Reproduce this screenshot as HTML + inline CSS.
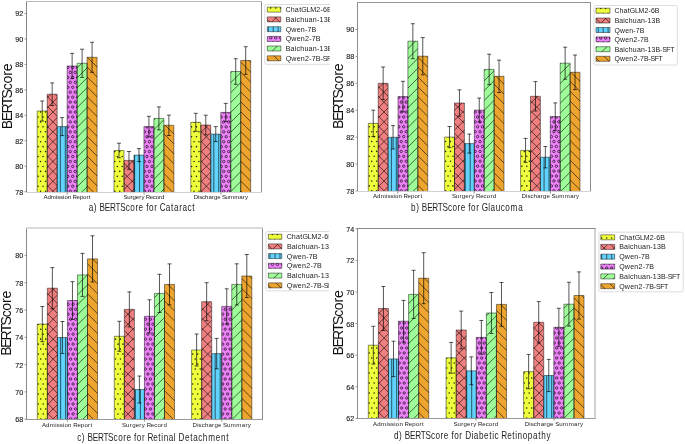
<!DOCTYPE html><html><head><meta charset="utf-8"><style>html,body{margin:0;padding:0;background:#fff;overflow:hidden;}svg{display:block;will-change:transform;font-family:"Liberation Sans",sans-serif;}</style></head><body><svg width="685" height="444" viewBox="0 0 685 444" font-family="Liberation Sans, sans-serif"><defs><clipPath id="ha0"><rect x="37.2" y="111" width="9.98" height="81"/><rect x="114" y="150.5" width="9.98" height="41.5"/><rect x="190.8" y="122.3" width="9.98" height="69.7"/><rect x="267.3" y="7.1" width="13.5" height="5"/></clipPath><clipPath id="ha1"><rect x="47.18" y="94.2" width="9.98" height="97.8"/><rect x="123.98" y="160.4" width="9.98" height="31.6"/><rect x="200.78" y="125" width="9.98" height="67"/><rect x="267.3" y="16.9" width="13.5" height="5"/></clipPath><clipPath id="ha2"><rect x="57.16" y="126.6" width="9.98" height="65.4"/><rect x="133.96" y="155.1" width="9.98" height="36.9"/><rect x="210.76" y="134.1" width="9.98" height="57.9"/><rect x="267.3" y="26.7" width="13.5" height="5"/></clipPath><clipPath id="ha3"><rect x="67.14" y="66" width="9.98" height="126"/><rect x="143.94" y="126.6" width="9.98" height="65.4"/><rect x="220.74" y="112.4" width="9.98" height="79.6"/><rect x="267.3" y="36.4" width="13.5" height="5"/></clipPath><clipPath id="ha4"><rect x="77.12" y="63.3" width="9.98" height="128.7"/><rect x="153.92" y="118.4" width="9.98" height="73.6"/><rect x="230.72" y="71.5" width="9.98" height="120.5"/><rect x="267.3" y="46" width="13.5" height="5"/></clipPath><clipPath id="ha5"><rect x="87.1" y="57.3" width="9.98" height="134.7"/><rect x="163.9" y="125.3" width="9.98" height="66.7"/><rect x="240.7" y="60.5" width="9.98" height="131.5"/><rect x="267.3" y="55.8" width="13.5" height="5"/></clipPath><clipPath id="clipa"><rect x="0" y="0" width="330" height="222"/></clipPath><clipPath id="hb0"><rect x="368.3" y="123.4" width="9.9" height="67.6"/><rect x="444.6" y="137.1" width="9.9" height="53.9"/><rect x="520.6" y="150.4" width="9.9" height="40.6"/><rect x="596" y="8.2" width="14" height="5"/></clipPath><clipPath id="hb1"><rect x="378.2" y="83.3" width="9.9" height="107.7"/><rect x="454.5" y="103" width="9.9" height="88"/><rect x="530.5" y="96.3" width="9.9" height="94.7"/><rect x="596" y="18" width="14" height="5"/></clipPath><clipPath id="hb2"><rect x="388.1" y="137.3" width="9.9" height="53.7"/><rect x="464.4" y="143.6" width="9.9" height="47.4"/><rect x="540.4" y="157.2" width="9.9" height="33.8"/><rect x="596" y="27.5" width="14" height="5"/></clipPath><clipPath id="hb3"><rect x="398" y="96.6" width="9.9" height="94.4"/><rect x="474.3" y="110.1" width="9.9" height="80.9"/><rect x="550.3" y="116.6" width="9.9" height="74.4"/><rect x="596" y="36.9" width="14" height="5"/></clipPath><clipPath id="hb4"><rect x="407.9" y="41.2" width="9.9" height="149.8"/><rect x="484.2" y="69.4" width="9.9" height="121.6"/><rect x="560.2" y="63.2" width="9.9" height="127.8"/><rect x="596" y="46.7" width="14" height="5"/></clipPath><clipPath id="hb5"><rect x="417.8" y="56.2" width="9.9" height="134.8"/><rect x="494.1" y="76.3" width="9.9" height="114.7"/><rect x="570.1" y="72.3" width="9.9" height="118.7"/><rect x="596" y="56.3" width="14" height="5"/></clipPath><clipPath id="clipb"><rect x="330" y="0" width="355" height="222"/></clipPath><clipPath id="hc0"><rect x="37.3" y="324.1" width="10.04" height="95.4"/><rect x="114.3" y="336.3" width="10.04" height="83.2"/><rect x="191.6" y="350" width="10.04" height="69.5"/><rect x="268.4" y="234.2" width="13.4" height="5"/></clipPath><clipPath id="hc1"><rect x="47.34" y="288.2" width="10.04" height="131.3"/><rect x="124.34" y="309.4" width="10.04" height="110.1"/><rect x="201.64" y="301.7" width="10.04" height="117.8"/><rect x="268.4" y="243.9" width="13.4" height="5"/></clipPath><clipPath id="hc2"><rect x="57.38" y="337.5" width="10.04" height="82"/><rect x="134.38" y="389.5" width="10.04" height="30"/><rect x="211.68" y="353.6" width="10.04" height="65.9"/><rect x="268.4" y="253.6" width="13.4" height="5"/></clipPath><clipPath id="hc3"><rect x="67.42" y="300.5" width="10.04" height="119"/><rect x="144.42" y="316.3" width="10.04" height="103.2"/><rect x="221.72" y="306.4" width="10.04" height="113.1"/><rect x="268.4" y="263.3" width="13.4" height="5"/></clipPath><clipPath id="hc4"><rect x="77.46" y="274.9" width="10.04" height="144.6"/><rect x="154.46" y="293.4" width="10.04" height="126.1"/><rect x="231.76" y="284.4" width="10.04" height="135.1"/><rect x="268.4" y="273.1" width="13.4" height="5"/></clipPath><clipPath id="hc5"><rect x="87.5" y="258.9" width="10.04" height="160.6"/><rect x="164.5" y="284.4" width="10.04" height="135.1"/><rect x="241.8" y="276" width="10.04" height="143.5"/><rect x="268.4" y="282.9" width="13.4" height="5"/></clipPath><clipPath id="clipc"><rect x="0" y="222" width="329" height="222"/></clipPath><clipPath id="hd0"><rect x="368.3" y="345.2" width="10.07" height="73.3"/><rect x="446.1" y="357.8" width="10.07" height="60.7"/><rect x="523.6" y="371.6" width="10.07" height="46.9"/><rect x="600.8" y="234.8" width="13.9" height="5"/></clipPath><clipPath id="hd1"><rect x="378.37" y="308.5" width="10.07" height="110"/><rect x="456.17" y="330" width="10.07" height="88.5"/><rect x="533.67" y="322.3" width="10.07" height="96.2"/><rect x="600.8" y="244.4" width="13.9" height="5"/></clipPath><clipPath id="hd2"><rect x="388.44" y="358.9" width="10.07" height="59.6"/><rect x="466.24" y="370.8" width="10.07" height="47.7"/><rect x="543.74" y="375.5" width="10.07" height="43"/><rect x="600.8" y="254.2" width="13.9" height="5"/></clipPath><clipPath id="hd3"><rect x="398.51" y="321.2" width="10.07" height="97.3"/><rect x="476.31" y="337.4" width="10.07" height="81.1"/><rect x="553.81" y="327.3" width="10.07" height="91.2"/><rect x="600.8" y="264.1" width="13.9" height="5"/></clipPath><clipPath id="hd4"><rect x="408.58" y="294.4" width="10.07" height="124.1"/><rect x="486.38" y="313" width="10.07" height="105.5"/><rect x="563.88" y="304.2" width="10.07" height="114.3"/><rect x="600.8" y="273.9" width="13.9" height="5"/></clipPath><clipPath id="hd5"><rect x="418.65" y="278.2" width="10.07" height="140.3"/><rect x="496.45" y="304.4" width="10.07" height="114.1"/><rect x="573.95" y="295.5" width="10.07" height="123"/><rect x="600.8" y="283.7" width="13.9" height="5"/></clipPath><clipPath id="clipd"><rect x="330" y="222" width="355" height="222"/></clipPath></defs><rect width="685" height="444" fill="#fff"/><g clip-path="url(#clipa)"><rect x="264.8" y="4.5" width="80.2" height="59.8" rx="1.6" fill="#fff" stroke="#d4d4d4" stroke-width="0.8"/><rect x="37.2" y="111" width="9.98" height="81" fill="#F0FF3C"/><rect x="114" y="150.5" width="9.98" height="41.5" fill="#F0FF3C"/><rect x="190.8" y="122.3" width="9.98" height="69.7" fill="#F0FF3C"/><rect x="267.3" y="7.1" width="13.5" height="5" fill="#F0FF3C"/><rect x="47.18" y="94.2" width="9.98" height="97.8" fill="#F08080"/><rect x="123.98" y="160.4" width="9.98" height="31.6" fill="#F08080"/><rect x="200.78" y="125" width="9.98" height="67" fill="#F08080"/><rect x="267.3" y="16.9" width="13.5" height="5" fill="#F08080"/><rect x="57.16" y="126.6" width="9.98" height="65.4" fill="#62D3FD"/><rect x="133.96" y="155.1" width="9.98" height="36.9" fill="#62D3FD"/><rect x="210.76" y="134.1" width="9.98" height="57.9" fill="#62D3FD"/><rect x="267.3" y="26.7" width="13.5" height="5" fill="#62D3FD"/><rect x="67.14" y="66" width="9.98" height="126" fill="#EE82F8"/><rect x="143.94" y="126.6" width="9.98" height="65.4" fill="#EE82F8"/><rect x="220.74" y="112.4" width="9.98" height="79.6" fill="#EE82F8"/><rect x="267.3" y="36.4" width="13.5" height="5" fill="#EE82F8"/><rect x="77.12" y="63.3" width="9.98" height="128.7" fill="#9EFD98"/><rect x="153.92" y="118.4" width="9.98" height="73.6" fill="#9EFD98"/><rect x="230.72" y="71.5" width="9.98" height="120.5" fill="#9EFD98"/><rect x="267.3" y="46" width="13.5" height="5" fill="#9EFD98"/><rect x="87.1" y="57.3" width="9.98" height="134.7" fill="#EDA530"/><rect x="163.9" y="125.3" width="9.98" height="66.7" fill="#EDA530"/><rect x="240.7" y="60.5" width="9.98" height="131.5" fill="#EDA530"/><rect x="267.3" y="55.8" width="13.5" height="5" fill="#EDA530"/><g clip-path="url(#ha0)"><path d="M34.83,112a0.78,0.78 0 1,0 1.56,0a0.78,0.78 0 1,0 -1.56,0M39.78,112a0.78,0.78 0 1,0 1.56,0a0.78,0.78 0 1,0 -1.56,0M44.73,112a0.78,0.78 0 1,0 1.56,0a0.78,0.78 0 1,0 -1.56,0M34.83,121.9a0.78,0.78 0 1,0 1.56,0a0.78,0.78 0 1,0 -1.56,0M39.78,121.9a0.78,0.78 0 1,0 1.56,0a0.78,0.78 0 1,0 -1.56,0M44.73,121.9a0.78,0.78 0 1,0 1.56,0a0.78,0.78 0 1,0 -1.56,0M34.83,131.8a0.78,0.78 0 1,0 1.56,0a0.78,0.78 0 1,0 -1.56,0M39.78,131.8a0.78,0.78 0 1,0 1.56,0a0.78,0.78 0 1,0 -1.56,0M44.73,131.8a0.78,0.78 0 1,0 1.56,0a0.78,0.78 0 1,0 -1.56,0M34.83,141.7a0.78,0.78 0 1,0 1.56,0a0.78,0.78 0 1,0 -1.56,0M39.78,141.7a0.78,0.78 0 1,0 1.56,0a0.78,0.78 0 1,0 -1.56,0M44.73,141.7a0.78,0.78 0 1,0 1.56,0a0.78,0.78 0 1,0 -1.56,0M34.83,151.6a0.78,0.78 0 1,0 1.56,0a0.78,0.78 0 1,0 -1.56,0M39.78,151.6a0.78,0.78 0 1,0 1.56,0a0.78,0.78 0 1,0 -1.56,0M44.73,151.6a0.78,0.78 0 1,0 1.56,0a0.78,0.78 0 1,0 -1.56,0M34.83,161.5a0.78,0.78 0 1,0 1.56,0a0.78,0.78 0 1,0 -1.56,0M39.78,161.5a0.78,0.78 0 1,0 1.56,0a0.78,0.78 0 1,0 -1.56,0M44.73,161.5a0.78,0.78 0 1,0 1.56,0a0.78,0.78 0 1,0 -1.56,0M34.83,171.4a0.78,0.78 0 1,0 1.56,0a0.78,0.78 0 1,0 -1.56,0M39.78,171.4a0.78,0.78 0 1,0 1.56,0a0.78,0.78 0 1,0 -1.56,0M44.73,171.4a0.78,0.78 0 1,0 1.56,0a0.78,0.78 0 1,0 -1.56,0M34.83,181.3a0.78,0.78 0 1,0 1.56,0a0.78,0.78 0 1,0 -1.56,0M39.78,181.3a0.78,0.78 0 1,0 1.56,0a0.78,0.78 0 1,0 -1.56,0M44.73,181.3a0.78,0.78 0 1,0 1.56,0a0.78,0.78 0 1,0 -1.56,0M34.83,191.2a0.78,0.78 0 1,0 1.56,0a0.78,0.78 0 1,0 -1.56,0M39.78,191.2a0.78,0.78 0 1,0 1.56,0a0.78,0.78 0 1,0 -1.56,0M44.73,191.2a0.78,0.78 0 1,0 1.56,0a0.78,0.78 0 1,0 -1.56,0M37.3,116.95a0.78,0.78 0 1,0 1.56,0a0.78,0.78 0 1,0 -1.56,0M42.26,116.95a0.78,0.78 0 1,0 1.56,0a0.78,0.78 0 1,0 -1.56,0M47.21,116.95a0.78,0.78 0 1,0 1.56,0a0.78,0.78 0 1,0 -1.56,0M37.3,126.85a0.78,0.78 0 1,0 1.56,0a0.78,0.78 0 1,0 -1.56,0M42.26,126.85a0.78,0.78 0 1,0 1.56,0a0.78,0.78 0 1,0 -1.56,0M47.21,126.85a0.78,0.78 0 1,0 1.56,0a0.78,0.78 0 1,0 -1.56,0M37.3,136.75a0.78,0.78 0 1,0 1.56,0a0.78,0.78 0 1,0 -1.56,0M42.26,136.75a0.78,0.78 0 1,0 1.56,0a0.78,0.78 0 1,0 -1.56,0M47.21,136.75a0.78,0.78 0 1,0 1.56,0a0.78,0.78 0 1,0 -1.56,0M37.3,146.65a0.78,0.78 0 1,0 1.56,0a0.78,0.78 0 1,0 -1.56,0M42.26,146.65a0.78,0.78 0 1,0 1.56,0a0.78,0.78 0 1,0 -1.56,0M47.21,146.65a0.78,0.78 0 1,0 1.56,0a0.78,0.78 0 1,0 -1.56,0M37.3,156.55a0.78,0.78 0 1,0 1.56,0a0.78,0.78 0 1,0 -1.56,0M42.26,156.55a0.78,0.78 0 1,0 1.56,0a0.78,0.78 0 1,0 -1.56,0M47.21,156.55a0.78,0.78 0 1,0 1.56,0a0.78,0.78 0 1,0 -1.56,0M37.3,166.45a0.78,0.78 0 1,0 1.56,0a0.78,0.78 0 1,0 -1.56,0M42.26,166.45a0.78,0.78 0 1,0 1.56,0a0.78,0.78 0 1,0 -1.56,0M47.21,166.45a0.78,0.78 0 1,0 1.56,0a0.78,0.78 0 1,0 -1.56,0M37.3,176.35a0.78,0.78 0 1,0 1.56,0a0.78,0.78 0 1,0 -1.56,0M42.26,176.35a0.78,0.78 0 1,0 1.56,0a0.78,0.78 0 1,0 -1.56,0M47.21,176.35a0.78,0.78 0 1,0 1.56,0a0.78,0.78 0 1,0 -1.56,0M37.3,186.25a0.78,0.78 0 1,0 1.56,0a0.78,0.78 0 1,0 -1.56,0M42.26,186.25a0.78,0.78 0 1,0 1.56,0a0.78,0.78 0 1,0 -1.56,0M47.21,186.25a0.78,0.78 0 1,0 1.56,0a0.78,0.78 0 1,0 -1.56,0M114.03,151.6a0.78,0.78 0 1,0 1.56,0a0.78,0.78 0 1,0 -1.56,0M118.98,151.6a0.78,0.78 0 1,0 1.56,0a0.78,0.78 0 1,0 -1.56,0M123.93,151.6a0.78,0.78 0 1,0 1.56,0a0.78,0.78 0 1,0 -1.56,0M114.03,161.5a0.78,0.78 0 1,0 1.56,0a0.78,0.78 0 1,0 -1.56,0M118.98,161.5a0.78,0.78 0 1,0 1.56,0a0.78,0.78 0 1,0 -1.56,0M123.93,161.5a0.78,0.78 0 1,0 1.56,0a0.78,0.78 0 1,0 -1.56,0M114.03,171.4a0.78,0.78 0 1,0 1.56,0a0.78,0.78 0 1,0 -1.56,0M118.98,171.4a0.78,0.78 0 1,0 1.56,0a0.78,0.78 0 1,0 -1.56,0M123.93,171.4a0.78,0.78 0 1,0 1.56,0a0.78,0.78 0 1,0 -1.56,0M114.03,181.3a0.78,0.78 0 1,0 1.56,0a0.78,0.78 0 1,0 -1.56,0M118.98,181.3a0.78,0.78 0 1,0 1.56,0a0.78,0.78 0 1,0 -1.56,0M123.93,181.3a0.78,0.78 0 1,0 1.56,0a0.78,0.78 0 1,0 -1.56,0M114.03,191.2a0.78,0.78 0 1,0 1.56,0a0.78,0.78 0 1,0 -1.56,0M118.98,191.2a0.78,0.78 0 1,0 1.56,0a0.78,0.78 0 1,0 -1.56,0M123.93,191.2a0.78,0.78 0 1,0 1.56,0a0.78,0.78 0 1,0 -1.56,0M111.56,156.55a0.78,0.78 0 1,0 1.56,0a0.78,0.78 0 1,0 -1.56,0M116.5,156.55a0.78,0.78 0 1,0 1.56,0a0.78,0.78 0 1,0 -1.56,0M121.46,156.55a0.78,0.78 0 1,0 1.56,0a0.78,0.78 0 1,0 -1.56,0M111.56,166.45a0.78,0.78 0 1,0 1.56,0a0.78,0.78 0 1,0 -1.56,0M116.5,166.45a0.78,0.78 0 1,0 1.56,0a0.78,0.78 0 1,0 -1.56,0M121.46,166.45a0.78,0.78 0 1,0 1.56,0a0.78,0.78 0 1,0 -1.56,0M111.56,176.35a0.78,0.78 0 1,0 1.56,0a0.78,0.78 0 1,0 -1.56,0M116.5,176.35a0.78,0.78 0 1,0 1.56,0a0.78,0.78 0 1,0 -1.56,0M121.46,176.35a0.78,0.78 0 1,0 1.56,0a0.78,0.78 0 1,0 -1.56,0M111.56,186.25a0.78,0.78 0 1,0 1.56,0a0.78,0.78 0 1,0 -1.56,0M116.5,186.25a0.78,0.78 0 1,0 1.56,0a0.78,0.78 0 1,0 -1.56,0M121.46,186.25a0.78,0.78 0 1,0 1.56,0a0.78,0.78 0 1,0 -1.56,0M188.28,121.9a0.78,0.78 0 1,0 1.56,0a0.78,0.78 0 1,0 -1.56,0M193.23,121.9a0.78,0.78 0 1,0 1.56,0a0.78,0.78 0 1,0 -1.56,0M198.18,121.9a0.78,0.78 0 1,0 1.56,0a0.78,0.78 0 1,0 -1.56,0M188.28,131.8a0.78,0.78 0 1,0 1.56,0a0.78,0.78 0 1,0 -1.56,0M193.23,131.8a0.78,0.78 0 1,0 1.56,0a0.78,0.78 0 1,0 -1.56,0M198.18,131.8a0.78,0.78 0 1,0 1.56,0a0.78,0.78 0 1,0 -1.56,0M188.28,141.7a0.78,0.78 0 1,0 1.56,0a0.78,0.78 0 1,0 -1.56,0M193.23,141.7a0.78,0.78 0 1,0 1.56,0a0.78,0.78 0 1,0 -1.56,0M198.18,141.7a0.78,0.78 0 1,0 1.56,0a0.78,0.78 0 1,0 -1.56,0M188.28,151.6a0.78,0.78 0 1,0 1.56,0a0.78,0.78 0 1,0 -1.56,0M193.23,151.6a0.78,0.78 0 1,0 1.56,0a0.78,0.78 0 1,0 -1.56,0M198.18,151.6a0.78,0.78 0 1,0 1.56,0a0.78,0.78 0 1,0 -1.56,0M188.28,161.5a0.78,0.78 0 1,0 1.56,0a0.78,0.78 0 1,0 -1.56,0M193.23,161.5a0.78,0.78 0 1,0 1.56,0a0.78,0.78 0 1,0 -1.56,0M198.18,161.5a0.78,0.78 0 1,0 1.56,0a0.78,0.78 0 1,0 -1.56,0M188.28,171.4a0.78,0.78 0 1,0 1.56,0a0.78,0.78 0 1,0 -1.56,0M193.23,171.4a0.78,0.78 0 1,0 1.56,0a0.78,0.78 0 1,0 -1.56,0M198.18,171.4a0.78,0.78 0 1,0 1.56,0a0.78,0.78 0 1,0 -1.56,0M188.28,181.3a0.78,0.78 0 1,0 1.56,0a0.78,0.78 0 1,0 -1.56,0M193.23,181.3a0.78,0.78 0 1,0 1.56,0a0.78,0.78 0 1,0 -1.56,0M198.18,181.3a0.78,0.78 0 1,0 1.56,0a0.78,0.78 0 1,0 -1.56,0M188.28,191.2a0.78,0.78 0 1,0 1.56,0a0.78,0.78 0 1,0 -1.56,0M193.23,191.2a0.78,0.78 0 1,0 1.56,0a0.78,0.78 0 1,0 -1.56,0M198.18,191.2a0.78,0.78 0 1,0 1.56,0a0.78,0.78 0 1,0 -1.56,0M190.75,126.85a0.78,0.78 0 1,0 1.56,0a0.78,0.78 0 1,0 -1.56,0M195.71,126.85a0.78,0.78 0 1,0 1.56,0a0.78,0.78 0 1,0 -1.56,0M200.66,126.85a0.78,0.78 0 1,0 1.56,0a0.78,0.78 0 1,0 -1.56,0M190.75,136.75a0.78,0.78 0 1,0 1.56,0a0.78,0.78 0 1,0 -1.56,0M195.71,136.75a0.78,0.78 0 1,0 1.56,0a0.78,0.78 0 1,0 -1.56,0M200.66,136.75a0.78,0.78 0 1,0 1.56,0a0.78,0.78 0 1,0 -1.56,0M190.75,146.65a0.78,0.78 0 1,0 1.56,0a0.78,0.78 0 1,0 -1.56,0M195.71,146.65a0.78,0.78 0 1,0 1.56,0a0.78,0.78 0 1,0 -1.56,0M200.66,146.65a0.78,0.78 0 1,0 1.56,0a0.78,0.78 0 1,0 -1.56,0M190.75,156.55a0.78,0.78 0 1,0 1.56,0a0.78,0.78 0 1,0 -1.56,0M195.71,156.55a0.78,0.78 0 1,0 1.56,0a0.78,0.78 0 1,0 -1.56,0M200.66,156.55a0.78,0.78 0 1,0 1.56,0a0.78,0.78 0 1,0 -1.56,0M190.75,166.45a0.78,0.78 0 1,0 1.56,0a0.78,0.78 0 1,0 -1.56,0M195.71,166.45a0.78,0.78 0 1,0 1.56,0a0.78,0.78 0 1,0 -1.56,0M200.66,166.45a0.78,0.78 0 1,0 1.56,0a0.78,0.78 0 1,0 -1.56,0M190.75,176.35a0.78,0.78 0 1,0 1.56,0a0.78,0.78 0 1,0 -1.56,0M195.71,176.35a0.78,0.78 0 1,0 1.56,0a0.78,0.78 0 1,0 -1.56,0M200.66,176.35a0.78,0.78 0 1,0 1.56,0a0.78,0.78 0 1,0 -1.56,0M190.75,186.25a0.78,0.78 0 1,0 1.56,0a0.78,0.78 0 1,0 -1.56,0M195.71,186.25a0.78,0.78 0 1,0 1.56,0a0.78,0.78 0 1,0 -1.56,0M200.66,186.25a0.78,0.78 0 1,0 1.56,0a0.78,0.78 0 1,0 -1.56,0M267.48,13a0.78,0.78 0 1,0 1.56,0a0.78,0.78 0 1,0 -1.56,0M272.43,13a0.78,0.78 0 1,0 1.56,0a0.78,0.78 0 1,0 -1.56,0M277.38,13a0.78,0.78 0 1,0 1.56,0a0.78,0.78 0 1,0 -1.56,0M265.01,8.05a0.78,0.78 0 1,0 1.56,0a0.78,0.78 0 1,0 -1.56,0M269.96,8.05a0.78,0.78 0 1,0 1.56,0a0.78,0.78 0 1,0 -1.56,0M274.91,8.05a0.78,0.78 0 1,0 1.56,0a0.78,0.78 0 1,0 -1.56,0M279.86,8.05a0.78,0.78 0 1,0 1.56,0a0.78,0.78 0 1,0 -1.56,0" fill="#000" fill-opacity="0.85"/></g><g clip-path="url(#ha1)"><path d="M46.18,79.15L58.16,67.17M46.18,89.06L58.16,77.08M46.18,98.95L58.16,86.97M46.18,108.85L58.16,96.87M46.18,118.75L58.16,106.77M46.18,128.65L58.16,116.67M46.18,138.55L58.16,126.57M46.18,148.45L58.16,136.47M46.18,158.35L58.16,146.38M46.18,168.25L58.16,156.27M46.18,178.16L58.16,166.18M46.18,188.06L58.16,176.07M46.18,197.95L58.16,185.97M46.18,207.85L58.16,195.88M46.18,217.75L58.16,205.77M46.18,65.65L58.16,77.63M46.18,75.55L58.16,87.53M46.18,85.45L58.16,97.43M46.18,95.35L58.16,107.33M46.18,105.25L58.16,117.23M46.18,115.15L58.16,127.13M46.18,125.05L58.16,137.03M46.18,134.94L58.16,146.93M46.18,144.85L58.16,156.83M46.18,154.75L58.16,166.73M46.18,164.65L58.16,176.62M46.18,174.55L58.16,186.53M46.18,184.45L58.16,196.43M46.18,194.35L58.16,206.33M46.18,204.25L58.16,216.23M122.98,150.85L134.96,138.87M122.98,160.75L134.96,148.78M122.98,170.65L134.96,158.67M122.98,180.55L134.96,168.57M122.98,190.45L134.96,178.47M122.98,200.36L134.96,188.38M122.98,210.25L134.96,198.28M122.98,220.15L134.96,208.17M122.98,132.55L134.96,144.53M122.98,142.44L134.96,154.43M122.98,152.34L134.96,164.32M122.98,162.25L134.96,174.23M122.98,172.15L134.96,184.12M122.98,182.05L134.96,194.03M122.98,191.94L134.96,203.93M122.98,201.85L134.96,213.83M199.78,113.66L211.76,101.68M199.78,123.56L211.76,111.58M199.78,133.46L211.76,121.48M199.78,143.35L211.76,131.38M199.78,153.25L211.76,141.27M199.78,163.16L211.76,151.18M199.78,173.06L211.76,161.08M199.78,182.96L211.76,170.98M199.78,192.85L211.76,180.88M199.78,202.75L211.76,190.77M199.78,212.66L211.76,200.68M199.78,222.56L211.76,210.58M199.78,100.44L211.76,112.42M199.78,110.34L211.76,122.32M199.78,120.25L211.76,132.22M199.78,130.15L211.76,142.12M199.78,140.04L211.76,152.02M199.78,149.94L211.76,161.92M199.78,159.84L211.76,171.82M199.78,169.75L211.76,181.72M199.78,179.65L211.76,191.62M199.78,189.54L211.76,201.52M199.78,199.44L211.76,211.42M199.78,209.34L211.76,221.32M266.3,7.53L281.8,-7.97M266.3,17.44L281.8,1.94M266.3,27.33L281.8,11.83M266.3,37.23L281.8,21.73M266.3,47.13L281.8,31.63M266.3,-11.23L281.8,4.27M266.3,-1.33L281.8,14.17M266.3,8.56L281.8,24.06M266.3,18.47L281.8,33.97M266.3,28.36L281.8,43.86M266.3,38.27L281.8,53.77" fill="none" stroke="#000" stroke-opacity="0.85" stroke-width="0.7"/></g><g clip-path="url(#ha2)"><path d="M60.36,125.6V193M65.31,125.6V193M134.61,154.1V193M139.56,154.1V193M144.51,154.1V193M213.81,133.1V193M218.76,133.1V193M268.26,25.7V32.7M273.21,25.7V32.7M278.16,25.7V32.7" fill="none" stroke="#000" stroke-opacity="0.85" stroke-width="0.7"/></g><g clip-path="url(#ha3)"><path d="M64.11,72.4a1.2,1.2 0 1,0 2.4,0a1.2,1.2 0 1,0 -2.4,0M69.06,72.4a1.2,1.2 0 1,0 2.4,0a1.2,1.2 0 1,0 -2.4,0M74.01,72.4a1.2,1.2 0 1,0 2.4,0a1.2,1.2 0 1,0 -2.4,0M64.11,82.3a1.2,1.2 0 1,0 2.4,0a1.2,1.2 0 1,0 -2.4,0M69.06,82.3a1.2,1.2 0 1,0 2.4,0a1.2,1.2 0 1,0 -2.4,0M74.01,82.3a1.2,1.2 0 1,0 2.4,0a1.2,1.2 0 1,0 -2.4,0M64.11,92.2a1.2,1.2 0 1,0 2.4,0a1.2,1.2 0 1,0 -2.4,0M69.06,92.2a1.2,1.2 0 1,0 2.4,0a1.2,1.2 0 1,0 -2.4,0M74.01,92.2a1.2,1.2 0 1,0 2.4,0a1.2,1.2 0 1,0 -2.4,0M64.11,102.1a1.2,1.2 0 1,0 2.4,0a1.2,1.2 0 1,0 -2.4,0M69.06,102.1a1.2,1.2 0 1,0 2.4,0a1.2,1.2 0 1,0 -2.4,0M74.01,102.1a1.2,1.2 0 1,0 2.4,0a1.2,1.2 0 1,0 -2.4,0M64.11,112a1.2,1.2 0 1,0 2.4,0a1.2,1.2 0 1,0 -2.4,0M69.06,112a1.2,1.2 0 1,0 2.4,0a1.2,1.2 0 1,0 -2.4,0M74.01,112a1.2,1.2 0 1,0 2.4,0a1.2,1.2 0 1,0 -2.4,0M64.11,121.9a1.2,1.2 0 1,0 2.4,0a1.2,1.2 0 1,0 -2.4,0M69.06,121.9a1.2,1.2 0 1,0 2.4,0a1.2,1.2 0 1,0 -2.4,0M74.01,121.9a1.2,1.2 0 1,0 2.4,0a1.2,1.2 0 1,0 -2.4,0M64.11,131.8a1.2,1.2 0 1,0 2.4,0a1.2,1.2 0 1,0 -2.4,0M69.06,131.8a1.2,1.2 0 1,0 2.4,0a1.2,1.2 0 1,0 -2.4,0M74.01,131.8a1.2,1.2 0 1,0 2.4,0a1.2,1.2 0 1,0 -2.4,0M64.11,141.7a1.2,1.2 0 1,0 2.4,0a1.2,1.2 0 1,0 -2.4,0M69.06,141.7a1.2,1.2 0 1,0 2.4,0a1.2,1.2 0 1,0 -2.4,0M74.01,141.7a1.2,1.2 0 1,0 2.4,0a1.2,1.2 0 1,0 -2.4,0M64.11,151.6a1.2,1.2 0 1,0 2.4,0a1.2,1.2 0 1,0 -2.4,0M69.06,151.6a1.2,1.2 0 1,0 2.4,0a1.2,1.2 0 1,0 -2.4,0M74.01,151.6a1.2,1.2 0 1,0 2.4,0a1.2,1.2 0 1,0 -2.4,0M64.11,161.5a1.2,1.2 0 1,0 2.4,0a1.2,1.2 0 1,0 -2.4,0M69.06,161.5a1.2,1.2 0 1,0 2.4,0a1.2,1.2 0 1,0 -2.4,0M74.01,161.5a1.2,1.2 0 1,0 2.4,0a1.2,1.2 0 1,0 -2.4,0M64.11,171.4a1.2,1.2 0 1,0 2.4,0a1.2,1.2 0 1,0 -2.4,0M69.06,171.4a1.2,1.2 0 1,0 2.4,0a1.2,1.2 0 1,0 -2.4,0M74.01,171.4a1.2,1.2 0 1,0 2.4,0a1.2,1.2 0 1,0 -2.4,0M64.11,181.3a1.2,1.2 0 1,0 2.4,0a1.2,1.2 0 1,0 -2.4,0M69.06,181.3a1.2,1.2 0 1,0 2.4,0a1.2,1.2 0 1,0 -2.4,0M74.01,181.3a1.2,1.2 0 1,0 2.4,0a1.2,1.2 0 1,0 -2.4,0M64.11,191.2a1.2,1.2 0 1,0 2.4,0a1.2,1.2 0 1,0 -2.4,0M69.06,191.2a1.2,1.2 0 1,0 2.4,0a1.2,1.2 0 1,0 -2.4,0M74.01,191.2a1.2,1.2 0 1,0 2.4,0a1.2,1.2 0 1,0 -2.4,0M66.58,67.45a1.2,1.2 0 1,0 2.4,0a1.2,1.2 0 1,0 -2.4,0M71.54,67.45a1.2,1.2 0 1,0 2.4,0a1.2,1.2 0 1,0 -2.4,0M76.48,67.45a1.2,1.2 0 1,0 2.4,0a1.2,1.2 0 1,0 -2.4,0M66.58,77.35a1.2,1.2 0 1,0 2.4,0a1.2,1.2 0 1,0 -2.4,0M71.54,77.35a1.2,1.2 0 1,0 2.4,0a1.2,1.2 0 1,0 -2.4,0M76.48,77.35a1.2,1.2 0 1,0 2.4,0a1.2,1.2 0 1,0 -2.4,0M66.58,87.25a1.2,1.2 0 1,0 2.4,0a1.2,1.2 0 1,0 -2.4,0M71.54,87.25a1.2,1.2 0 1,0 2.4,0a1.2,1.2 0 1,0 -2.4,0M76.48,87.25a1.2,1.2 0 1,0 2.4,0a1.2,1.2 0 1,0 -2.4,0M66.58,97.15a1.2,1.2 0 1,0 2.4,0a1.2,1.2 0 1,0 -2.4,0M71.54,97.15a1.2,1.2 0 1,0 2.4,0a1.2,1.2 0 1,0 -2.4,0M76.48,97.15a1.2,1.2 0 1,0 2.4,0a1.2,1.2 0 1,0 -2.4,0M66.58,107.05a1.2,1.2 0 1,0 2.4,0a1.2,1.2 0 1,0 -2.4,0M71.54,107.05a1.2,1.2 0 1,0 2.4,0a1.2,1.2 0 1,0 -2.4,0M76.48,107.05a1.2,1.2 0 1,0 2.4,0a1.2,1.2 0 1,0 -2.4,0M66.58,116.95a1.2,1.2 0 1,0 2.4,0a1.2,1.2 0 1,0 -2.4,0M71.54,116.95a1.2,1.2 0 1,0 2.4,0a1.2,1.2 0 1,0 -2.4,0M76.48,116.95a1.2,1.2 0 1,0 2.4,0a1.2,1.2 0 1,0 -2.4,0M66.58,126.85a1.2,1.2 0 1,0 2.4,0a1.2,1.2 0 1,0 -2.4,0M71.54,126.85a1.2,1.2 0 1,0 2.4,0a1.2,1.2 0 1,0 -2.4,0M76.48,126.85a1.2,1.2 0 1,0 2.4,0a1.2,1.2 0 1,0 -2.4,0M66.58,136.75a1.2,1.2 0 1,0 2.4,0a1.2,1.2 0 1,0 -2.4,0M71.54,136.75a1.2,1.2 0 1,0 2.4,0a1.2,1.2 0 1,0 -2.4,0M76.48,136.75a1.2,1.2 0 1,0 2.4,0a1.2,1.2 0 1,0 -2.4,0M66.58,146.65a1.2,1.2 0 1,0 2.4,0a1.2,1.2 0 1,0 -2.4,0M71.54,146.65a1.2,1.2 0 1,0 2.4,0a1.2,1.2 0 1,0 -2.4,0M76.48,146.65a1.2,1.2 0 1,0 2.4,0a1.2,1.2 0 1,0 -2.4,0M66.58,156.55a1.2,1.2 0 1,0 2.4,0a1.2,1.2 0 1,0 -2.4,0M71.54,156.55a1.2,1.2 0 1,0 2.4,0a1.2,1.2 0 1,0 -2.4,0M76.48,156.55a1.2,1.2 0 1,0 2.4,0a1.2,1.2 0 1,0 -2.4,0M66.58,166.45a1.2,1.2 0 1,0 2.4,0a1.2,1.2 0 1,0 -2.4,0M71.54,166.45a1.2,1.2 0 1,0 2.4,0a1.2,1.2 0 1,0 -2.4,0M76.48,166.45a1.2,1.2 0 1,0 2.4,0a1.2,1.2 0 1,0 -2.4,0M66.58,176.35a1.2,1.2 0 1,0 2.4,0a1.2,1.2 0 1,0 -2.4,0M71.54,176.35a1.2,1.2 0 1,0 2.4,0a1.2,1.2 0 1,0 -2.4,0M76.48,176.35a1.2,1.2 0 1,0 2.4,0a1.2,1.2 0 1,0 -2.4,0M66.58,186.25a1.2,1.2 0 1,0 2.4,0a1.2,1.2 0 1,0 -2.4,0M71.54,186.25a1.2,1.2 0 1,0 2.4,0a1.2,1.2 0 1,0 -2.4,0M76.48,186.25a1.2,1.2 0 1,0 2.4,0a1.2,1.2 0 1,0 -2.4,0M143.31,131.8a1.2,1.2 0 1,0 2.4,0a1.2,1.2 0 1,0 -2.4,0M148.26,131.8a1.2,1.2 0 1,0 2.4,0a1.2,1.2 0 1,0 -2.4,0M153.21,131.8a1.2,1.2 0 1,0 2.4,0a1.2,1.2 0 1,0 -2.4,0M143.31,141.7a1.2,1.2 0 1,0 2.4,0a1.2,1.2 0 1,0 -2.4,0M148.26,141.7a1.2,1.2 0 1,0 2.4,0a1.2,1.2 0 1,0 -2.4,0M153.21,141.7a1.2,1.2 0 1,0 2.4,0a1.2,1.2 0 1,0 -2.4,0M143.31,151.6a1.2,1.2 0 1,0 2.4,0a1.2,1.2 0 1,0 -2.4,0M148.26,151.6a1.2,1.2 0 1,0 2.4,0a1.2,1.2 0 1,0 -2.4,0M153.21,151.6a1.2,1.2 0 1,0 2.4,0a1.2,1.2 0 1,0 -2.4,0M143.31,161.5a1.2,1.2 0 1,0 2.4,0a1.2,1.2 0 1,0 -2.4,0M148.26,161.5a1.2,1.2 0 1,0 2.4,0a1.2,1.2 0 1,0 -2.4,0M153.21,161.5a1.2,1.2 0 1,0 2.4,0a1.2,1.2 0 1,0 -2.4,0M143.31,171.4a1.2,1.2 0 1,0 2.4,0a1.2,1.2 0 1,0 -2.4,0M148.26,171.4a1.2,1.2 0 1,0 2.4,0a1.2,1.2 0 1,0 -2.4,0M153.21,171.4a1.2,1.2 0 1,0 2.4,0a1.2,1.2 0 1,0 -2.4,0M143.31,181.3a1.2,1.2 0 1,0 2.4,0a1.2,1.2 0 1,0 -2.4,0M148.26,181.3a1.2,1.2 0 1,0 2.4,0a1.2,1.2 0 1,0 -2.4,0M153.21,181.3a1.2,1.2 0 1,0 2.4,0a1.2,1.2 0 1,0 -2.4,0M143.31,191.2a1.2,1.2 0 1,0 2.4,0a1.2,1.2 0 1,0 -2.4,0M148.26,191.2a1.2,1.2 0 1,0 2.4,0a1.2,1.2 0 1,0 -2.4,0M153.21,191.2a1.2,1.2 0 1,0 2.4,0a1.2,1.2 0 1,0 -2.4,0M140.84,126.85a1.2,1.2 0 1,0 2.4,0a1.2,1.2 0 1,0 -2.4,0M145.79,126.85a1.2,1.2 0 1,0 2.4,0a1.2,1.2 0 1,0 -2.4,0M150.74,126.85a1.2,1.2 0 1,0 2.4,0a1.2,1.2 0 1,0 -2.4,0M140.84,136.75a1.2,1.2 0 1,0 2.4,0a1.2,1.2 0 1,0 -2.4,0M145.79,136.75a1.2,1.2 0 1,0 2.4,0a1.2,1.2 0 1,0 -2.4,0M150.74,136.75a1.2,1.2 0 1,0 2.4,0a1.2,1.2 0 1,0 -2.4,0M140.84,146.65a1.2,1.2 0 1,0 2.4,0a1.2,1.2 0 1,0 -2.4,0M145.79,146.65a1.2,1.2 0 1,0 2.4,0a1.2,1.2 0 1,0 -2.4,0M150.74,146.65a1.2,1.2 0 1,0 2.4,0a1.2,1.2 0 1,0 -2.4,0M140.84,156.55a1.2,1.2 0 1,0 2.4,0a1.2,1.2 0 1,0 -2.4,0M145.79,156.55a1.2,1.2 0 1,0 2.4,0a1.2,1.2 0 1,0 -2.4,0M150.74,156.55a1.2,1.2 0 1,0 2.4,0a1.2,1.2 0 1,0 -2.4,0M140.84,166.45a1.2,1.2 0 1,0 2.4,0a1.2,1.2 0 1,0 -2.4,0M145.79,166.45a1.2,1.2 0 1,0 2.4,0a1.2,1.2 0 1,0 -2.4,0M150.74,166.45a1.2,1.2 0 1,0 2.4,0a1.2,1.2 0 1,0 -2.4,0M140.84,176.35a1.2,1.2 0 1,0 2.4,0a1.2,1.2 0 1,0 -2.4,0M145.79,176.35a1.2,1.2 0 1,0 2.4,0a1.2,1.2 0 1,0 -2.4,0M150.74,176.35a1.2,1.2 0 1,0 2.4,0a1.2,1.2 0 1,0 -2.4,0M140.84,186.25a1.2,1.2 0 1,0 2.4,0a1.2,1.2 0 1,0 -2.4,0M145.79,186.25a1.2,1.2 0 1,0 2.4,0a1.2,1.2 0 1,0 -2.4,0M150.74,186.25a1.2,1.2 0 1,0 2.4,0a1.2,1.2 0 1,0 -2.4,0M217.56,112a1.2,1.2 0 1,0 2.4,0a1.2,1.2 0 1,0 -2.4,0M222.51,112a1.2,1.2 0 1,0 2.4,0a1.2,1.2 0 1,0 -2.4,0M227.46,112a1.2,1.2 0 1,0 2.4,0a1.2,1.2 0 1,0 -2.4,0M217.56,121.9a1.2,1.2 0 1,0 2.4,0a1.2,1.2 0 1,0 -2.4,0M222.51,121.9a1.2,1.2 0 1,0 2.4,0a1.2,1.2 0 1,0 -2.4,0M227.46,121.9a1.2,1.2 0 1,0 2.4,0a1.2,1.2 0 1,0 -2.4,0M217.56,131.8a1.2,1.2 0 1,0 2.4,0a1.2,1.2 0 1,0 -2.4,0M222.51,131.8a1.2,1.2 0 1,0 2.4,0a1.2,1.2 0 1,0 -2.4,0M227.46,131.8a1.2,1.2 0 1,0 2.4,0a1.2,1.2 0 1,0 -2.4,0M217.56,141.7a1.2,1.2 0 1,0 2.4,0a1.2,1.2 0 1,0 -2.4,0M222.51,141.7a1.2,1.2 0 1,0 2.4,0a1.2,1.2 0 1,0 -2.4,0M227.46,141.7a1.2,1.2 0 1,0 2.4,0a1.2,1.2 0 1,0 -2.4,0M217.56,151.6a1.2,1.2 0 1,0 2.4,0a1.2,1.2 0 1,0 -2.4,0M222.51,151.6a1.2,1.2 0 1,0 2.4,0a1.2,1.2 0 1,0 -2.4,0M227.46,151.6a1.2,1.2 0 1,0 2.4,0a1.2,1.2 0 1,0 -2.4,0M217.56,161.5a1.2,1.2 0 1,0 2.4,0a1.2,1.2 0 1,0 -2.4,0M222.51,161.5a1.2,1.2 0 1,0 2.4,0a1.2,1.2 0 1,0 -2.4,0M227.46,161.5a1.2,1.2 0 1,0 2.4,0a1.2,1.2 0 1,0 -2.4,0M217.56,171.4a1.2,1.2 0 1,0 2.4,0a1.2,1.2 0 1,0 -2.4,0M222.51,171.4a1.2,1.2 0 1,0 2.4,0a1.2,1.2 0 1,0 -2.4,0M227.46,171.4a1.2,1.2 0 1,0 2.4,0a1.2,1.2 0 1,0 -2.4,0M217.56,181.3a1.2,1.2 0 1,0 2.4,0a1.2,1.2 0 1,0 -2.4,0M222.51,181.3a1.2,1.2 0 1,0 2.4,0a1.2,1.2 0 1,0 -2.4,0M227.46,181.3a1.2,1.2 0 1,0 2.4,0a1.2,1.2 0 1,0 -2.4,0M217.56,191.2a1.2,1.2 0 1,0 2.4,0a1.2,1.2 0 1,0 -2.4,0M222.51,191.2a1.2,1.2 0 1,0 2.4,0a1.2,1.2 0 1,0 -2.4,0M227.46,191.2a1.2,1.2 0 1,0 2.4,0a1.2,1.2 0 1,0 -2.4,0M220.04,116.95a1.2,1.2 0 1,0 2.4,0a1.2,1.2 0 1,0 -2.4,0M224.99,116.95a1.2,1.2 0 1,0 2.4,0a1.2,1.2 0 1,0 -2.4,0M229.94,116.95a1.2,1.2 0 1,0 2.4,0a1.2,1.2 0 1,0 -2.4,0M220.04,126.85a1.2,1.2 0 1,0 2.4,0a1.2,1.2 0 1,0 -2.4,0M224.99,126.85a1.2,1.2 0 1,0 2.4,0a1.2,1.2 0 1,0 -2.4,0M229.94,126.85a1.2,1.2 0 1,0 2.4,0a1.2,1.2 0 1,0 -2.4,0M220.04,136.75a1.2,1.2 0 1,0 2.4,0a1.2,1.2 0 1,0 -2.4,0M224.99,136.75a1.2,1.2 0 1,0 2.4,0a1.2,1.2 0 1,0 -2.4,0M229.94,136.75a1.2,1.2 0 1,0 2.4,0a1.2,1.2 0 1,0 -2.4,0M220.04,146.65a1.2,1.2 0 1,0 2.4,0a1.2,1.2 0 1,0 -2.4,0M224.99,146.65a1.2,1.2 0 1,0 2.4,0a1.2,1.2 0 1,0 -2.4,0M229.94,146.65a1.2,1.2 0 1,0 2.4,0a1.2,1.2 0 1,0 -2.4,0M220.04,156.55a1.2,1.2 0 1,0 2.4,0a1.2,1.2 0 1,0 -2.4,0M224.99,156.55a1.2,1.2 0 1,0 2.4,0a1.2,1.2 0 1,0 -2.4,0M229.94,156.55a1.2,1.2 0 1,0 2.4,0a1.2,1.2 0 1,0 -2.4,0M220.04,166.45a1.2,1.2 0 1,0 2.4,0a1.2,1.2 0 1,0 -2.4,0M224.99,166.45a1.2,1.2 0 1,0 2.4,0a1.2,1.2 0 1,0 -2.4,0M229.94,166.45a1.2,1.2 0 1,0 2.4,0a1.2,1.2 0 1,0 -2.4,0M220.04,176.35a1.2,1.2 0 1,0 2.4,0a1.2,1.2 0 1,0 -2.4,0M224.99,176.35a1.2,1.2 0 1,0 2.4,0a1.2,1.2 0 1,0 -2.4,0M229.94,176.35a1.2,1.2 0 1,0 2.4,0a1.2,1.2 0 1,0 -2.4,0M220.04,186.25a1.2,1.2 0 1,0 2.4,0a1.2,1.2 0 1,0 -2.4,0M224.99,186.25a1.2,1.2 0 1,0 2.4,0a1.2,1.2 0 1,0 -2.4,0M229.94,186.25a1.2,1.2 0 1,0 2.4,0a1.2,1.2 0 1,0 -2.4,0M267.06,42.7a1.2,1.2 0 1,0 2.4,0a1.2,1.2 0 1,0 -2.4,0M272.01,42.7a1.2,1.2 0 1,0 2.4,0a1.2,1.2 0 1,0 -2.4,0M276.96,42.7a1.2,1.2 0 1,0 2.4,0a1.2,1.2 0 1,0 -2.4,0M264.59,37.75a1.2,1.2 0 1,0 2.4,0a1.2,1.2 0 1,0 -2.4,0M269.54,37.75a1.2,1.2 0 1,0 2.4,0a1.2,1.2 0 1,0 -2.4,0M274.49,37.75a1.2,1.2 0 1,0 2.4,0a1.2,1.2 0 1,0 -2.4,0M279.44,37.75a1.2,1.2 0 1,0 2.4,0a1.2,1.2 0 1,0 -2.4,0" fill="none" stroke="#000" stroke-opacity="0.85" stroke-width="0.75"/></g><g clip-path="url(#ha4)"><path d="M76.12,49.21L88.1,37.23M76.12,59.12L88.1,47.14M76.12,69.01L88.1,57.03M76.12,78.91L88.1,66.93M76.12,88.81L88.1,76.83M76.12,98.71L88.1,86.73M76.12,108.61L88.1,96.63M76.12,118.51L88.1,106.53M76.12,128.41L88.1,116.43M76.12,138.31L88.1,126.33M76.12,148.22L88.1,136.24M76.12,158.12L88.1,146.13M76.12,168.01L88.1,156.03M76.12,177.91L88.1,165.94M76.12,187.81L88.1,175.83M76.12,197.71L88.1,185.73M76.12,207.62L88.1,195.63M76.12,217.51L88.1,205.53M152.92,101.11L164.9,89.13M152.92,111.01L164.9,99.03M152.92,120.91L164.9,108.93M152.92,130.81L164.9,118.84M152.92,140.71L164.9,128.73M152.92,150.61L164.9,138.63M152.92,160.51L164.9,148.53M152.92,170.42L164.9,158.44M152.92,180.31L164.9,168.34M152.92,190.21L164.9,178.23M152.92,200.11L164.9,188.13M152.92,210.01L164.9,198.03M152.92,219.92L164.9,207.94M229.72,54.01L241.7,42.03M229.72,63.91L241.7,51.93M229.72,73.81L241.7,61.83M229.72,83.71L241.7,71.73M229.72,93.62L241.7,81.64M229.72,103.51L241.7,91.53M229.72,113.41L241.7,101.43M229.72,123.31L241.7,111.33M229.72,133.21L241.7,121.23M229.72,143.12L241.7,131.14M229.72,153.01L241.7,141.03M229.72,162.91L241.7,150.93M229.72,172.81L241.7,160.83M229.72,182.71L241.7,170.73M229.72,192.62L241.7,180.64M229.72,202.51L241.7,190.53M229.72,212.41L241.7,200.43M229.72,222.31L241.7,210.33M266.3,27.33L281.8,11.83M266.3,37.23L281.8,21.73M266.3,47.13L281.8,31.63M266.3,57.04L281.8,41.54M266.3,66.94L281.8,51.44M266.3,76.83L281.8,61.33" fill="none" stroke="#000" stroke-opacity="0.85" stroke-width="0.7"/></g><g clip-path="url(#ha5)"><path d="M86.1,36.27L98.08,48.25M86.1,46.17L98.08,58.15M86.1,56.07L98.08,68.05M86.1,65.97L98.08,77.95M86.1,75.86L98.08,87.84M86.1,85.77L98.08,97.75M86.1,95.67L98.08,107.65M86.1,105.57L98.08,117.55M86.1,115.47L98.08,127.45M86.1,125.37L98.08,137.35M86.1,135.27L98.08,147.25M86.1,145.17L98.08,157.15M86.1,155.06L98.08,167.05M86.1,164.97L98.08,176.95M86.1,174.87L98.08,186.85M86.1,184.77L98.08,196.75M86.1,194.67L98.08,206.65M86.1,204.56L98.08,216.55M162.9,103.16L174.88,115.14M162.9,113.06L174.88,125.04M162.9,122.97L174.88,134.94M162.9,132.87L174.88,144.84M162.9,142.77L174.88,154.75M162.9,152.66L174.88,164.64M162.9,162.56L174.88,174.54M162.9,172.47L174.88,184.44M162.9,182.37L174.88,194.34M162.9,192.26L174.88,204.25M162.9,202.17L174.88,214.14M239.7,31.47L251.68,43.45M239.7,41.37L251.68,53.34M239.7,51.26L251.68,63.24M239.7,61.17L251.68,73.15M239.7,71.06L251.68,83.04M239.7,80.97L251.68,92.95M239.7,90.87L251.68,102.84M239.7,100.76L251.68,112.74M239.7,110.67L251.68,122.65M239.7,120.56L251.68,132.54M239.7,130.47L251.68,142.44M239.7,140.37L251.68,152.34M239.7,150.27L251.68,162.25M239.7,160.17L251.68,172.15M239.7,170.07L251.68,182.05M239.7,179.97L251.68,191.94M239.7,189.87L251.68,201.84M239.7,199.77L251.68,211.75M239.7,209.67L251.68,221.65M266.3,28.36L281.8,43.86M266.3,38.27L281.8,53.77M266.3,48.16L281.8,63.66M266.3,58.07L281.8,73.57M266.3,67.97L281.8,83.47M266.3,77.86L281.8,93.36" fill="none" stroke="#000" stroke-opacity="0.85" stroke-width="0.7"/></g><path d="M37.2,192V111H47.18V192M114,192V150.5H123.98V192M190.8,192V122.3H200.78V192M267.3,12.1V7.1H280.8V12.1ZM47.18,192V94.2H57.16V192M123.98,192V160.4H133.96V192M200.78,192V125H210.76V192M267.3,21.9V16.9H280.8V21.9ZM57.16,192V126.6H67.14V192M133.96,192V155.1H143.94V192M210.76,192V134.1H220.74V192M267.3,31.7V26.7H280.8V31.7ZM67.14,192V66H77.12V192M143.94,192V126.6H153.92V192M220.74,192V112.4H230.72V192M267.3,41.4V36.4H280.8V41.4ZM77.12,192V63.3H87.1V192M153.92,192V118.4H163.9V192M230.72,192V71.5H240.7V192M267.3,51V46H280.8V51ZM87.1,192V57.3H97.08V192M163.9,192V125.3H173.88V192M240.7,192V60.5H250.68V192M267.3,60.8V55.8H280.8V60.8Z" fill="none" stroke="#000" stroke-width="0.45"/><path d="M42.19,101V121M40.19,101H44.19M40.19,121H44.19M52.17,82.9V105.5M50.17,82.9H54.17M50.17,105.5H54.17M62.15,117.6V135.6M60.15,117.6H64.15M60.15,135.6H64.15M72.13,53.4V78.6M70.13,53.4H74.13M70.13,78.6H74.13M82.11,49.2V77.4M80.11,49.2H84.11M80.11,77.4H84.11M92.09,42.3V72.3M90.09,42.3H94.09M90.09,72.3H94.09M118.99,143.2V157.8M116.99,143.2H120.99M116.99,157.8H120.99M128.97,151.5V169.3M126.97,151.5H130.97M126.97,169.3H130.97M138.95,148.6V161.6M136.95,148.6H140.95M136.95,161.6H140.95M148.93,116.3V136.9M146.93,116.3H150.93M146.93,136.9H150.93M158.91,106.9V129.9M156.91,106.9H160.91M156.91,129.9H160.91M168.89,115.1V135.5M166.89,115.1H170.89M166.89,135.5H170.89M195.79,113.3V131.3M193.79,113.3H197.79M193.79,131.3H197.79M205.77,115.2V134.8M203.77,115.2H207.77M203.77,134.8H207.77M215.75,126.6V141.6M213.75,126.6H217.75M213.75,141.6H217.75M225.73,103.4V121.4M223.73,103.4H227.73M223.73,121.4H227.73M235.71,58.7V84.3M233.71,58.7H237.71M233.71,84.3H237.71M245.69,46.7V74.3M243.69,46.7H247.69M243.69,74.3H247.69" fill="none" stroke="#000" stroke-opacity="0.88" stroke-width="0.75"/><path d="M26.5,1.5V192.5" stroke="#858585" stroke-width="1.0"/><path d="M261.5,1.5V192.5" stroke="#8c8c8c" stroke-width="1.0"/><path d="M26,1.5H262" stroke="#b8b8b8" stroke-width="1.0"/><path d="M26,192.5H262" stroke="#d2d2d2" stroke-width="1.0"/><text x="23.3" y="194.6" font-size="8.0" text-anchor="end" textLength="8.0" lengthAdjust="spacingAndGlyphs" fill="#1a1a1a" stroke="#1a1a1a" stroke-width="0.14">78</text><text x="23.3" y="169.14" font-size="8.0" text-anchor="end" textLength="8.0" lengthAdjust="spacingAndGlyphs" fill="#1a1a1a" stroke="#1a1a1a" stroke-width="0.14">80</text><text x="23.3" y="143.68" font-size="8.0" text-anchor="end" textLength="8.0" lengthAdjust="spacingAndGlyphs" fill="#1a1a1a" stroke="#1a1a1a" stroke-width="0.14">82</text><text x="23.3" y="118.22" font-size="8.0" text-anchor="end" textLength="8.0" lengthAdjust="spacingAndGlyphs" fill="#1a1a1a" stroke="#1a1a1a" stroke-width="0.14">84</text><text x="23.3" y="92.76" font-size="8.0" text-anchor="end" textLength="8.0" lengthAdjust="spacingAndGlyphs" fill="#1a1a1a" stroke="#1a1a1a" stroke-width="0.14">86</text><text x="23.3" y="67.3" font-size="8.0" text-anchor="end" textLength="8.0" lengthAdjust="spacingAndGlyphs" fill="#1a1a1a" stroke="#1a1a1a" stroke-width="0.14">88</text><text x="23.3" y="41.84" font-size="8.0" text-anchor="end" textLength="8.0" lengthAdjust="spacingAndGlyphs" fill="#1a1a1a" stroke="#1a1a1a" stroke-width="0.14">90</text><text x="23.3" y="16.38" font-size="8.0" text-anchor="end" textLength="8.0" lengthAdjust="spacingAndGlyphs" fill="#1a1a1a" stroke="#1a1a1a" stroke-width="0.14">92</text><text x="43.59 47.41 50.82 56.03 57.32 60.11 63.09 64.45 67.78 71.18 72.53 76.42 79.64 82.97 86.39 88.7" y="198.9" font-size="6.1" fill="#1a1a1a">Admission Report</text><text x="123.44 127.13 130.57 132.6 135.86 139.25 141.39 144.47 145.79 149.63 152.76 155.66 159.04 161.07" y="198.9" font-size="6.1" fill="#1a1a1a">Surgery Record</text><text x="193.65 197.97 199.26 202.11 205.1 208.42 211.83 213.9 217.18 220.52 221.88 225.6 229.04 234.24 239.32 242.73 244.9" y="198.9" font-size="6.1" fill="#1a1a1a">Discharge Summary</text><path d="M24.5,191.7H26.2M24.5,166.24H26.2M24.5,140.78H26.2M24.5,115.32H26.2M24.5,89.86H26.2M24.5,64.4H26.2M24.5,38.94H26.2M24.5,13.48H26.2M67.2,192.5V194.7M144.1,192.5V194.7M220.9,192.5V194.7" stroke="#000" stroke-opacity="0.7" stroke-width="0.6" fill="none"/><text transform="translate(11.6,128.7) rotate(-90)" x="-0.51 7.48 15.14 23.4 30.11 38.47 45.12 52.88 57.41" y="0" font-size="14" fill="#111">BERTScore</text><text x="285.57 290.63 294.8 299.16 301.29 306.54 310.31 316.32 320.45 323 327.04" y="12.1" font-size="7.1" fill="#1a1a1a">ChatGLM2-6B</text><text x="285.73 290.47 294.64 296.43 300.2 304.44 308.62 312.79 316.92 319.47 323.73 327.77" y="21.9" font-size="7.1" fill="#1a1a1a">Baichuan-13B</text><text x="285.67 291.25 296.64 300.82 304.95 307.5 311.53" y="31.7" font-size="7.1" fill="#1a1a1a">Qwen-7B</text><text x="285.67 291.25 296.64 300.82 305.08 309.21 311.76 315.8" y="41.4" font-size="7.1" fill="#1a1a1a">Qwen2-7B</text><text x="285.73 290.47 294.64 296.43 300.2 304.44 308.62 312.79 316.92 319.47 323.73 327.77 332.46 334.61 338.86 342.77" y="51" font-size="7.1" fill="#1a1a1a">Baichuan-13B-SFT</text><text x="285.67 291.25 296.64 300.82 305.08 309.21 311.76 315.8 320.49 322.64 326.89 330.8" y="60.8" font-size="7.1" fill="#1a1a1a">Qwen2-7B-SFT</text></g><text transform="scale(0.8,1)" x="110.93 117.22 121.14 124.31 131.07 137.6 144.5 150.24 157.17 162.85 169.24 173.26 179.35 182.79 186.32 192.71 196.74 199.69 207.26 213.84 217.58 223.98 228.1 234.35 240.32" y="210.9" font-size="10.2" fill="#1e1e1e">a) BERTScore for Cataract</text><g clip-path="url(#clipb)"><rect x="594" y="5.5" width="83.3" height="59.5" rx="1.6" fill="#fff" stroke="#d4d4d4" stroke-width="0.8"/><rect x="368.3" y="123.4" width="9.9" height="67.6" fill="#F0FF3C"/><rect x="444.6" y="137.1" width="9.9" height="53.9" fill="#F0FF3C"/><rect x="520.6" y="150.4" width="9.9" height="40.6" fill="#F0FF3C"/><rect x="596" y="8.2" width="14" height="5" fill="#F0FF3C"/><rect x="378.2" y="83.3" width="9.9" height="107.7" fill="#F08080"/><rect x="454.5" y="103" width="9.9" height="88" fill="#F08080"/><rect x="530.5" y="96.3" width="9.9" height="94.7" fill="#F08080"/><rect x="596" y="18" width="14" height="5" fill="#F08080"/><rect x="388.1" y="137.3" width="9.9" height="53.7" fill="#62D3FD"/><rect x="464.4" y="143.6" width="9.9" height="47.4" fill="#62D3FD"/><rect x="540.4" y="157.2" width="9.9" height="33.8" fill="#62D3FD"/><rect x="596" y="27.5" width="14" height="5" fill="#62D3FD"/><rect x="398" y="96.6" width="9.9" height="94.4" fill="#EE82F8"/><rect x="474.3" y="110.1" width="9.9" height="80.9" fill="#EE82F8"/><rect x="550.3" y="116.6" width="9.9" height="74.4" fill="#EE82F8"/><rect x="596" y="36.9" width="14" height="5" fill="#EE82F8"/><rect x="407.9" y="41.2" width="9.9" height="149.8" fill="#9EFD98"/><rect x="484.2" y="69.4" width="9.9" height="121.6" fill="#9EFD98"/><rect x="560.2" y="63.2" width="9.9" height="127.8" fill="#9EFD98"/><rect x="596" y="46.7" width="14" height="5" fill="#9EFD98"/><rect x="417.8" y="56.2" width="9.9" height="134.8" fill="#EDA530"/><rect x="494.1" y="76.3" width="9.9" height="114.7" fill="#EDA530"/><rect x="570.1" y="72.3" width="9.9" height="118.7" fill="#EDA530"/><rect x="596" y="56.3" width="14" height="5" fill="#EDA530"/><g clip-path="url(#hb0)"><path d="M366,121.85a0.78,0.78 0 1,0 1.56,0a0.78,0.78 0 1,0 -1.56,0M370.92,121.85a0.78,0.78 0 1,0 1.56,0a0.78,0.78 0 1,0 -1.56,0M375.85,121.85a0.78,0.78 0 1,0 1.56,0a0.78,0.78 0 1,0 -1.56,0M366,131.7a0.78,0.78 0 1,0 1.56,0a0.78,0.78 0 1,0 -1.56,0M370.92,131.7a0.78,0.78 0 1,0 1.56,0a0.78,0.78 0 1,0 -1.56,0M375.85,131.7a0.78,0.78 0 1,0 1.56,0a0.78,0.78 0 1,0 -1.56,0M366,141.55a0.78,0.78 0 1,0 1.56,0a0.78,0.78 0 1,0 -1.56,0M370.92,141.55a0.78,0.78 0 1,0 1.56,0a0.78,0.78 0 1,0 -1.56,0M375.85,141.55a0.78,0.78 0 1,0 1.56,0a0.78,0.78 0 1,0 -1.56,0M366,151.4a0.78,0.78 0 1,0 1.56,0a0.78,0.78 0 1,0 -1.56,0M370.92,151.4a0.78,0.78 0 1,0 1.56,0a0.78,0.78 0 1,0 -1.56,0M375.85,151.4a0.78,0.78 0 1,0 1.56,0a0.78,0.78 0 1,0 -1.56,0M366,161.25a0.78,0.78 0 1,0 1.56,0a0.78,0.78 0 1,0 -1.56,0M370.92,161.25a0.78,0.78 0 1,0 1.56,0a0.78,0.78 0 1,0 -1.56,0M375.85,161.25a0.78,0.78 0 1,0 1.56,0a0.78,0.78 0 1,0 -1.56,0M366,171.1a0.78,0.78 0 1,0 1.56,0a0.78,0.78 0 1,0 -1.56,0M370.92,171.1a0.78,0.78 0 1,0 1.56,0a0.78,0.78 0 1,0 -1.56,0M375.85,171.1a0.78,0.78 0 1,0 1.56,0a0.78,0.78 0 1,0 -1.56,0M366,180.95a0.78,0.78 0 1,0 1.56,0a0.78,0.78 0 1,0 -1.56,0M370.92,180.95a0.78,0.78 0 1,0 1.56,0a0.78,0.78 0 1,0 -1.56,0M375.85,180.95a0.78,0.78 0 1,0 1.56,0a0.78,0.78 0 1,0 -1.56,0M366,190.8a0.78,0.78 0 1,0 1.56,0a0.78,0.78 0 1,0 -1.56,0M370.92,190.8a0.78,0.78 0 1,0 1.56,0a0.78,0.78 0 1,0 -1.56,0M375.85,190.8a0.78,0.78 0 1,0 1.56,0a0.78,0.78 0 1,0 -1.56,0M368.46,126.78a0.78,0.78 0 1,0 1.56,0a0.78,0.78 0 1,0 -1.56,0M373.38,126.78a0.78,0.78 0 1,0 1.56,0a0.78,0.78 0 1,0 -1.56,0M378.31,126.78a0.78,0.78 0 1,0 1.56,0a0.78,0.78 0 1,0 -1.56,0M368.46,136.63a0.78,0.78 0 1,0 1.56,0a0.78,0.78 0 1,0 -1.56,0M373.38,136.63a0.78,0.78 0 1,0 1.56,0a0.78,0.78 0 1,0 -1.56,0M378.31,136.63a0.78,0.78 0 1,0 1.56,0a0.78,0.78 0 1,0 -1.56,0M368.46,146.48a0.78,0.78 0 1,0 1.56,0a0.78,0.78 0 1,0 -1.56,0M373.38,146.48a0.78,0.78 0 1,0 1.56,0a0.78,0.78 0 1,0 -1.56,0M378.31,146.48a0.78,0.78 0 1,0 1.56,0a0.78,0.78 0 1,0 -1.56,0M368.46,156.33a0.78,0.78 0 1,0 1.56,0a0.78,0.78 0 1,0 -1.56,0M373.38,156.33a0.78,0.78 0 1,0 1.56,0a0.78,0.78 0 1,0 -1.56,0M378.31,156.33a0.78,0.78 0 1,0 1.56,0a0.78,0.78 0 1,0 -1.56,0M368.46,166.18a0.78,0.78 0 1,0 1.56,0a0.78,0.78 0 1,0 -1.56,0M373.38,166.18a0.78,0.78 0 1,0 1.56,0a0.78,0.78 0 1,0 -1.56,0M378.31,166.18a0.78,0.78 0 1,0 1.56,0a0.78,0.78 0 1,0 -1.56,0M368.46,176.03a0.78,0.78 0 1,0 1.56,0a0.78,0.78 0 1,0 -1.56,0M373.38,176.03a0.78,0.78 0 1,0 1.56,0a0.78,0.78 0 1,0 -1.56,0M378.31,176.03a0.78,0.78 0 1,0 1.56,0a0.78,0.78 0 1,0 -1.56,0M368.46,185.88a0.78,0.78 0 1,0 1.56,0a0.78,0.78 0 1,0 -1.56,0M373.38,185.88a0.78,0.78 0 1,0 1.56,0a0.78,0.78 0 1,0 -1.56,0M378.31,185.88a0.78,0.78 0 1,0 1.56,0a0.78,0.78 0 1,0 -1.56,0M444.8,141.55a0.78,0.78 0 1,0 1.56,0a0.78,0.78 0 1,0 -1.56,0M449.72,141.55a0.78,0.78 0 1,0 1.56,0a0.78,0.78 0 1,0 -1.56,0M454.64,141.55a0.78,0.78 0 1,0 1.56,0a0.78,0.78 0 1,0 -1.56,0M444.8,151.4a0.78,0.78 0 1,0 1.56,0a0.78,0.78 0 1,0 -1.56,0M449.72,151.4a0.78,0.78 0 1,0 1.56,0a0.78,0.78 0 1,0 -1.56,0M454.64,151.4a0.78,0.78 0 1,0 1.56,0a0.78,0.78 0 1,0 -1.56,0M444.8,161.25a0.78,0.78 0 1,0 1.56,0a0.78,0.78 0 1,0 -1.56,0M449.72,161.25a0.78,0.78 0 1,0 1.56,0a0.78,0.78 0 1,0 -1.56,0M454.64,161.25a0.78,0.78 0 1,0 1.56,0a0.78,0.78 0 1,0 -1.56,0M444.8,171.1a0.78,0.78 0 1,0 1.56,0a0.78,0.78 0 1,0 -1.56,0M449.72,171.1a0.78,0.78 0 1,0 1.56,0a0.78,0.78 0 1,0 -1.56,0M454.64,171.1a0.78,0.78 0 1,0 1.56,0a0.78,0.78 0 1,0 -1.56,0M444.8,180.95a0.78,0.78 0 1,0 1.56,0a0.78,0.78 0 1,0 -1.56,0M449.72,180.95a0.78,0.78 0 1,0 1.56,0a0.78,0.78 0 1,0 -1.56,0M454.64,180.95a0.78,0.78 0 1,0 1.56,0a0.78,0.78 0 1,0 -1.56,0M444.8,190.8a0.78,0.78 0 1,0 1.56,0a0.78,0.78 0 1,0 -1.56,0M449.72,190.8a0.78,0.78 0 1,0 1.56,0a0.78,0.78 0 1,0 -1.56,0M454.64,190.8a0.78,0.78 0 1,0 1.56,0a0.78,0.78 0 1,0 -1.56,0M442.33,136.63a0.78,0.78 0 1,0 1.56,0a0.78,0.78 0 1,0 -1.56,0M447.26,136.63a0.78,0.78 0 1,0 1.56,0a0.78,0.78 0 1,0 -1.56,0M452.18,136.63a0.78,0.78 0 1,0 1.56,0a0.78,0.78 0 1,0 -1.56,0M442.33,146.48a0.78,0.78 0 1,0 1.56,0a0.78,0.78 0 1,0 -1.56,0M447.26,146.48a0.78,0.78 0 1,0 1.56,0a0.78,0.78 0 1,0 -1.56,0M452.18,146.48a0.78,0.78 0 1,0 1.56,0a0.78,0.78 0 1,0 -1.56,0M442.33,156.33a0.78,0.78 0 1,0 1.56,0a0.78,0.78 0 1,0 -1.56,0M447.26,156.33a0.78,0.78 0 1,0 1.56,0a0.78,0.78 0 1,0 -1.56,0M452.18,156.33a0.78,0.78 0 1,0 1.56,0a0.78,0.78 0 1,0 -1.56,0M442.33,166.18a0.78,0.78 0 1,0 1.56,0a0.78,0.78 0 1,0 -1.56,0M447.26,166.18a0.78,0.78 0 1,0 1.56,0a0.78,0.78 0 1,0 -1.56,0M452.18,166.18a0.78,0.78 0 1,0 1.56,0a0.78,0.78 0 1,0 -1.56,0M442.33,176.03a0.78,0.78 0 1,0 1.56,0a0.78,0.78 0 1,0 -1.56,0M447.26,176.03a0.78,0.78 0 1,0 1.56,0a0.78,0.78 0 1,0 -1.56,0M452.18,176.03a0.78,0.78 0 1,0 1.56,0a0.78,0.78 0 1,0 -1.56,0M442.33,185.88a0.78,0.78 0 1,0 1.56,0a0.78,0.78 0 1,0 -1.56,0M447.26,185.88a0.78,0.78 0 1,0 1.56,0a0.78,0.78 0 1,0 -1.56,0M452.18,185.88a0.78,0.78 0 1,0 1.56,0a0.78,0.78 0 1,0 -1.56,0M518.67,151.4a0.78,0.78 0 1,0 1.56,0a0.78,0.78 0 1,0 -1.56,0M523.6,151.4a0.78,0.78 0 1,0 1.56,0a0.78,0.78 0 1,0 -1.56,0M528.52,151.4a0.78,0.78 0 1,0 1.56,0a0.78,0.78 0 1,0 -1.56,0M518.67,161.25a0.78,0.78 0 1,0 1.56,0a0.78,0.78 0 1,0 -1.56,0M523.6,161.25a0.78,0.78 0 1,0 1.56,0a0.78,0.78 0 1,0 -1.56,0M528.52,161.25a0.78,0.78 0 1,0 1.56,0a0.78,0.78 0 1,0 -1.56,0M518.67,171.1a0.78,0.78 0 1,0 1.56,0a0.78,0.78 0 1,0 -1.56,0M523.6,171.1a0.78,0.78 0 1,0 1.56,0a0.78,0.78 0 1,0 -1.56,0M528.52,171.1a0.78,0.78 0 1,0 1.56,0a0.78,0.78 0 1,0 -1.56,0M518.67,180.95a0.78,0.78 0 1,0 1.56,0a0.78,0.78 0 1,0 -1.56,0M523.6,180.95a0.78,0.78 0 1,0 1.56,0a0.78,0.78 0 1,0 -1.56,0M528.52,180.95a0.78,0.78 0 1,0 1.56,0a0.78,0.78 0 1,0 -1.56,0M518.67,190.8a0.78,0.78 0 1,0 1.56,0a0.78,0.78 0 1,0 -1.56,0M523.6,190.8a0.78,0.78 0 1,0 1.56,0a0.78,0.78 0 1,0 -1.56,0M528.52,190.8a0.78,0.78 0 1,0 1.56,0a0.78,0.78 0 1,0 -1.56,0M521.13,156.33a0.78,0.78 0 1,0 1.56,0a0.78,0.78 0 1,0 -1.56,0M526.06,156.33a0.78,0.78 0 1,0 1.56,0a0.78,0.78 0 1,0 -1.56,0M530.98,156.33a0.78,0.78 0 1,0 1.56,0a0.78,0.78 0 1,0 -1.56,0M521.13,166.18a0.78,0.78 0 1,0 1.56,0a0.78,0.78 0 1,0 -1.56,0M526.06,166.18a0.78,0.78 0 1,0 1.56,0a0.78,0.78 0 1,0 -1.56,0M530.98,166.18a0.78,0.78 0 1,0 1.56,0a0.78,0.78 0 1,0 -1.56,0M521.13,176.03a0.78,0.78 0 1,0 1.56,0a0.78,0.78 0 1,0 -1.56,0M526.06,176.03a0.78,0.78 0 1,0 1.56,0a0.78,0.78 0 1,0 -1.56,0M530.98,176.03a0.78,0.78 0 1,0 1.56,0a0.78,0.78 0 1,0 -1.56,0M521.13,185.88a0.78,0.78 0 1,0 1.56,0a0.78,0.78 0 1,0 -1.56,0M526.06,185.88a0.78,0.78 0 1,0 1.56,0a0.78,0.78 0 1,0 -1.56,0M530.98,185.88a0.78,0.78 0 1,0 1.56,0a0.78,0.78 0 1,0 -1.56,0M597.47,13.5a0.78,0.78 0 1,0 1.56,0a0.78,0.78 0 1,0 -1.56,0M602.39,13.5a0.78,0.78 0 1,0 1.56,0a0.78,0.78 0 1,0 -1.56,0M607.32,13.5a0.78,0.78 0 1,0 1.56,0a0.78,0.78 0 1,0 -1.56,0M595.01,8.58a0.78,0.78 0 1,0 1.56,0a0.78,0.78 0 1,0 -1.56,0M599.93,8.58a0.78,0.78 0 1,0 1.56,0a0.78,0.78 0 1,0 -1.56,0M604.86,8.58a0.78,0.78 0 1,0 1.56,0a0.78,0.78 0 1,0 -1.56,0M609.78,8.58a0.78,0.78 0 1,0 1.56,0a0.78,0.78 0 1,0 -1.56,0" fill="#000" fill-opacity="0.85"/></g><g clip-path="url(#hb1)"><path d="M377.2,69.56L389.1,57.66M377.2,79.41L389.1,67.51M377.2,89.26L389.1,77.36M377.2,99.11L389.1,87.21M377.2,108.96L389.1,97.06M377.2,118.81L389.1,106.91M377.2,128.66L389.1,116.76M377.2,138.51L389.1,126.61M377.2,148.36L389.1,136.46M377.2,158.21L389.1,146.31M377.2,168.06L389.1,156.16M377.2,177.91L389.1,166.01M377.2,187.76L389.1,175.86M377.2,197.61L389.1,185.71M377.2,207.46L389.1,195.56M377.2,217.31L389.1,205.41M377.2,55.94L389.1,67.84M377.2,65.79L389.1,77.69M377.2,75.64L389.1,87.54M377.2,85.49L389.1,97.39M377.2,95.34L389.1,107.24M377.2,105.19L389.1,117.09M377.2,115.04L389.1,126.94M377.2,124.89L389.1,136.79M377.2,134.74L389.1,146.64M377.2,144.59L389.1,156.49M377.2,154.44L389.1,166.34M377.2,164.29L389.1,176.19M377.2,174.14L389.1,186.04M377.2,183.99L389.1,195.89M377.2,193.84L389.1,205.74M377.2,203.69L389.1,215.59M453.5,91.76L465.4,79.86M453.5,101.61L465.4,89.71M453.5,111.46L465.4,99.56M453.5,121.31L465.4,109.41M453.5,131.16L465.4,119.26M453.5,141.01L465.4,129.11M453.5,150.86L465.4,138.96M453.5,160.71L465.4,148.81M453.5,170.56L465.4,158.66M453.5,180.41L465.4,168.51M453.5,190.26L465.4,178.36M453.5,200.11L465.4,188.21M453.5,209.96L465.4,198.06M453.5,219.81L465.4,207.91M453.5,73.14L465.4,85.04M453.5,82.99L465.4,94.89M453.5,92.84L465.4,104.74M453.5,102.69L465.4,114.59M453.5,112.54L465.4,124.44M453.5,122.39L465.4,134.29M453.5,132.24L465.4,144.14M453.5,142.09L465.4,153.99M453.5,151.94L465.4,163.84M453.5,161.79L465.4,173.69M453.5,171.64L465.4,183.54M453.5,181.49L465.4,193.39M453.5,191.34L465.4,203.24M453.5,201.19L465.4,213.09M529.5,84.71L541.4,72.81M529.5,94.56L541.4,82.66M529.5,104.41L541.4,92.51M529.5,114.26L541.4,102.36M529.5,124.11L541.4,112.21M529.5,133.96L541.4,122.06M529.5,143.81L541.4,131.91M529.5,153.66L541.4,141.76M529.5,163.51L541.4,151.61M529.5,173.36L541.4,161.46M529.5,183.21L541.4,171.31M529.5,193.06L541.4,181.16M529.5,202.91L541.4,191.01M529.5,212.76L541.4,200.86M529.5,70.34L541.4,82.24M529.5,80.19L541.4,92.09M529.5,90.04L541.4,101.94M529.5,99.89L541.4,111.79M529.5,109.74L541.4,121.64M529.5,119.59L541.4,131.49M529.5,129.44L541.4,141.34M529.5,139.29L541.4,151.19M529.5,149.14L541.4,161.04M529.5,158.99L541.4,170.89M529.5,168.84L541.4,180.74M529.5,178.69L541.4,190.59M529.5,188.54L541.4,200.44M529.5,198.39L541.4,210.29M529.5,208.24L541.4,220.14M595,-0.49L611,-16.49M595,9.36L611,-6.64M595,19.21L611,3.21M595,29.06L611,13.06M595,38.91L611,22.91M595,48.76L611,32.76M595,-11.91L611,4.09M595,-2.06L611,13.94M595,7.79L611,23.79M595,17.64L611,33.64M595,27.49L611,43.49M595,37.34L611,53.34" fill="none" stroke="#000" stroke-opacity="0.85" stroke-width="0.7"/></g><g clip-path="url(#hb2)"><path d="M391.4,136.3V192M396.32,136.3V192M465.27,142.6V192M470.2,142.6V192M475.12,142.6V192M544.08,156.2V192M549,156.2V192M598.25,26.5V33.5M603.17,26.5V33.5M608.1,26.5V33.5" fill="none" stroke="#000" stroke-opacity="0.85" stroke-width="0.7"/></g><g clip-path="url(#hb3)"><path d="M395.12,102.15a1.2,1.2 0 1,0 2.4,0a1.2,1.2 0 1,0 -2.4,0M400.05,102.15a1.2,1.2 0 1,0 2.4,0a1.2,1.2 0 1,0 -2.4,0M404.98,102.15a1.2,1.2 0 1,0 2.4,0a1.2,1.2 0 1,0 -2.4,0M395.12,112a1.2,1.2 0 1,0 2.4,0a1.2,1.2 0 1,0 -2.4,0M400.05,112a1.2,1.2 0 1,0 2.4,0a1.2,1.2 0 1,0 -2.4,0M404.98,112a1.2,1.2 0 1,0 2.4,0a1.2,1.2 0 1,0 -2.4,0M395.12,121.85a1.2,1.2 0 1,0 2.4,0a1.2,1.2 0 1,0 -2.4,0M400.05,121.85a1.2,1.2 0 1,0 2.4,0a1.2,1.2 0 1,0 -2.4,0M404.98,121.85a1.2,1.2 0 1,0 2.4,0a1.2,1.2 0 1,0 -2.4,0M395.12,131.7a1.2,1.2 0 1,0 2.4,0a1.2,1.2 0 1,0 -2.4,0M400.05,131.7a1.2,1.2 0 1,0 2.4,0a1.2,1.2 0 1,0 -2.4,0M404.98,131.7a1.2,1.2 0 1,0 2.4,0a1.2,1.2 0 1,0 -2.4,0M395.12,141.55a1.2,1.2 0 1,0 2.4,0a1.2,1.2 0 1,0 -2.4,0M400.05,141.55a1.2,1.2 0 1,0 2.4,0a1.2,1.2 0 1,0 -2.4,0M404.98,141.55a1.2,1.2 0 1,0 2.4,0a1.2,1.2 0 1,0 -2.4,0M395.12,151.4a1.2,1.2 0 1,0 2.4,0a1.2,1.2 0 1,0 -2.4,0M400.05,151.4a1.2,1.2 0 1,0 2.4,0a1.2,1.2 0 1,0 -2.4,0M404.98,151.4a1.2,1.2 0 1,0 2.4,0a1.2,1.2 0 1,0 -2.4,0M395.12,161.25a1.2,1.2 0 1,0 2.4,0a1.2,1.2 0 1,0 -2.4,0M400.05,161.25a1.2,1.2 0 1,0 2.4,0a1.2,1.2 0 1,0 -2.4,0M404.98,161.25a1.2,1.2 0 1,0 2.4,0a1.2,1.2 0 1,0 -2.4,0M395.12,171.1a1.2,1.2 0 1,0 2.4,0a1.2,1.2 0 1,0 -2.4,0M400.05,171.1a1.2,1.2 0 1,0 2.4,0a1.2,1.2 0 1,0 -2.4,0M404.98,171.1a1.2,1.2 0 1,0 2.4,0a1.2,1.2 0 1,0 -2.4,0M395.12,180.95a1.2,1.2 0 1,0 2.4,0a1.2,1.2 0 1,0 -2.4,0M400.05,180.95a1.2,1.2 0 1,0 2.4,0a1.2,1.2 0 1,0 -2.4,0M404.98,180.95a1.2,1.2 0 1,0 2.4,0a1.2,1.2 0 1,0 -2.4,0M395.12,190.8a1.2,1.2 0 1,0 2.4,0a1.2,1.2 0 1,0 -2.4,0M400.05,190.8a1.2,1.2 0 1,0 2.4,0a1.2,1.2 0 1,0 -2.4,0M404.98,190.8a1.2,1.2 0 1,0 2.4,0a1.2,1.2 0 1,0 -2.4,0M397.59,97.23a1.2,1.2 0 1,0 2.4,0a1.2,1.2 0 1,0 -2.4,0M402.51,97.23a1.2,1.2 0 1,0 2.4,0a1.2,1.2 0 1,0 -2.4,0M407.44,97.23a1.2,1.2 0 1,0 2.4,0a1.2,1.2 0 1,0 -2.4,0M397.59,107.08a1.2,1.2 0 1,0 2.4,0a1.2,1.2 0 1,0 -2.4,0M402.51,107.08a1.2,1.2 0 1,0 2.4,0a1.2,1.2 0 1,0 -2.4,0M407.44,107.08a1.2,1.2 0 1,0 2.4,0a1.2,1.2 0 1,0 -2.4,0M397.59,116.93a1.2,1.2 0 1,0 2.4,0a1.2,1.2 0 1,0 -2.4,0M402.51,116.93a1.2,1.2 0 1,0 2.4,0a1.2,1.2 0 1,0 -2.4,0M407.44,116.93a1.2,1.2 0 1,0 2.4,0a1.2,1.2 0 1,0 -2.4,0M397.59,126.78a1.2,1.2 0 1,0 2.4,0a1.2,1.2 0 1,0 -2.4,0M402.51,126.78a1.2,1.2 0 1,0 2.4,0a1.2,1.2 0 1,0 -2.4,0M407.44,126.78a1.2,1.2 0 1,0 2.4,0a1.2,1.2 0 1,0 -2.4,0M397.59,136.63a1.2,1.2 0 1,0 2.4,0a1.2,1.2 0 1,0 -2.4,0M402.51,136.63a1.2,1.2 0 1,0 2.4,0a1.2,1.2 0 1,0 -2.4,0M407.44,136.63a1.2,1.2 0 1,0 2.4,0a1.2,1.2 0 1,0 -2.4,0M397.59,146.48a1.2,1.2 0 1,0 2.4,0a1.2,1.2 0 1,0 -2.4,0M402.51,146.48a1.2,1.2 0 1,0 2.4,0a1.2,1.2 0 1,0 -2.4,0M407.44,146.48a1.2,1.2 0 1,0 2.4,0a1.2,1.2 0 1,0 -2.4,0M397.59,156.33a1.2,1.2 0 1,0 2.4,0a1.2,1.2 0 1,0 -2.4,0M402.51,156.33a1.2,1.2 0 1,0 2.4,0a1.2,1.2 0 1,0 -2.4,0M407.44,156.33a1.2,1.2 0 1,0 2.4,0a1.2,1.2 0 1,0 -2.4,0M397.59,166.18a1.2,1.2 0 1,0 2.4,0a1.2,1.2 0 1,0 -2.4,0M402.51,166.18a1.2,1.2 0 1,0 2.4,0a1.2,1.2 0 1,0 -2.4,0M407.44,166.18a1.2,1.2 0 1,0 2.4,0a1.2,1.2 0 1,0 -2.4,0M397.59,176.03a1.2,1.2 0 1,0 2.4,0a1.2,1.2 0 1,0 -2.4,0M402.51,176.03a1.2,1.2 0 1,0 2.4,0a1.2,1.2 0 1,0 -2.4,0M407.44,176.03a1.2,1.2 0 1,0 2.4,0a1.2,1.2 0 1,0 -2.4,0M397.59,185.88a1.2,1.2 0 1,0 2.4,0a1.2,1.2 0 1,0 -2.4,0M402.51,185.88a1.2,1.2 0 1,0 2.4,0a1.2,1.2 0 1,0 -2.4,0M407.44,185.88a1.2,1.2 0 1,0 2.4,0a1.2,1.2 0 1,0 -2.4,0M473.93,112a1.2,1.2 0 1,0 2.4,0a1.2,1.2 0 1,0 -2.4,0M478.85,112a1.2,1.2 0 1,0 2.4,0a1.2,1.2 0 1,0 -2.4,0M483.77,112a1.2,1.2 0 1,0 2.4,0a1.2,1.2 0 1,0 -2.4,0M473.93,121.85a1.2,1.2 0 1,0 2.4,0a1.2,1.2 0 1,0 -2.4,0M478.85,121.85a1.2,1.2 0 1,0 2.4,0a1.2,1.2 0 1,0 -2.4,0M483.77,121.85a1.2,1.2 0 1,0 2.4,0a1.2,1.2 0 1,0 -2.4,0M473.93,131.7a1.2,1.2 0 1,0 2.4,0a1.2,1.2 0 1,0 -2.4,0M478.85,131.7a1.2,1.2 0 1,0 2.4,0a1.2,1.2 0 1,0 -2.4,0M483.77,131.7a1.2,1.2 0 1,0 2.4,0a1.2,1.2 0 1,0 -2.4,0M473.93,141.55a1.2,1.2 0 1,0 2.4,0a1.2,1.2 0 1,0 -2.4,0M478.85,141.55a1.2,1.2 0 1,0 2.4,0a1.2,1.2 0 1,0 -2.4,0M483.77,141.55a1.2,1.2 0 1,0 2.4,0a1.2,1.2 0 1,0 -2.4,0M473.93,151.4a1.2,1.2 0 1,0 2.4,0a1.2,1.2 0 1,0 -2.4,0M478.85,151.4a1.2,1.2 0 1,0 2.4,0a1.2,1.2 0 1,0 -2.4,0M483.77,151.4a1.2,1.2 0 1,0 2.4,0a1.2,1.2 0 1,0 -2.4,0M473.93,161.25a1.2,1.2 0 1,0 2.4,0a1.2,1.2 0 1,0 -2.4,0M478.85,161.25a1.2,1.2 0 1,0 2.4,0a1.2,1.2 0 1,0 -2.4,0M483.77,161.25a1.2,1.2 0 1,0 2.4,0a1.2,1.2 0 1,0 -2.4,0M473.93,171.1a1.2,1.2 0 1,0 2.4,0a1.2,1.2 0 1,0 -2.4,0M478.85,171.1a1.2,1.2 0 1,0 2.4,0a1.2,1.2 0 1,0 -2.4,0M483.77,171.1a1.2,1.2 0 1,0 2.4,0a1.2,1.2 0 1,0 -2.4,0M473.93,180.95a1.2,1.2 0 1,0 2.4,0a1.2,1.2 0 1,0 -2.4,0M478.85,180.95a1.2,1.2 0 1,0 2.4,0a1.2,1.2 0 1,0 -2.4,0M483.77,180.95a1.2,1.2 0 1,0 2.4,0a1.2,1.2 0 1,0 -2.4,0M473.93,190.8a1.2,1.2 0 1,0 2.4,0a1.2,1.2 0 1,0 -2.4,0M478.85,190.8a1.2,1.2 0 1,0 2.4,0a1.2,1.2 0 1,0 -2.4,0M483.77,190.8a1.2,1.2 0 1,0 2.4,0a1.2,1.2 0 1,0 -2.4,0M471.46,116.93a1.2,1.2 0 1,0 2.4,0a1.2,1.2 0 1,0 -2.4,0M476.39,116.93a1.2,1.2 0 1,0 2.4,0a1.2,1.2 0 1,0 -2.4,0M481.31,116.93a1.2,1.2 0 1,0 2.4,0a1.2,1.2 0 1,0 -2.4,0M471.46,126.78a1.2,1.2 0 1,0 2.4,0a1.2,1.2 0 1,0 -2.4,0M476.39,126.78a1.2,1.2 0 1,0 2.4,0a1.2,1.2 0 1,0 -2.4,0M481.31,126.78a1.2,1.2 0 1,0 2.4,0a1.2,1.2 0 1,0 -2.4,0M471.46,136.63a1.2,1.2 0 1,0 2.4,0a1.2,1.2 0 1,0 -2.4,0M476.39,136.63a1.2,1.2 0 1,0 2.4,0a1.2,1.2 0 1,0 -2.4,0M481.31,136.63a1.2,1.2 0 1,0 2.4,0a1.2,1.2 0 1,0 -2.4,0M471.46,146.48a1.2,1.2 0 1,0 2.4,0a1.2,1.2 0 1,0 -2.4,0M476.39,146.48a1.2,1.2 0 1,0 2.4,0a1.2,1.2 0 1,0 -2.4,0M481.31,146.48a1.2,1.2 0 1,0 2.4,0a1.2,1.2 0 1,0 -2.4,0M471.46,156.33a1.2,1.2 0 1,0 2.4,0a1.2,1.2 0 1,0 -2.4,0M476.39,156.33a1.2,1.2 0 1,0 2.4,0a1.2,1.2 0 1,0 -2.4,0M481.31,156.33a1.2,1.2 0 1,0 2.4,0a1.2,1.2 0 1,0 -2.4,0M471.46,166.18a1.2,1.2 0 1,0 2.4,0a1.2,1.2 0 1,0 -2.4,0M476.39,166.18a1.2,1.2 0 1,0 2.4,0a1.2,1.2 0 1,0 -2.4,0M481.31,166.18a1.2,1.2 0 1,0 2.4,0a1.2,1.2 0 1,0 -2.4,0M471.46,176.03a1.2,1.2 0 1,0 2.4,0a1.2,1.2 0 1,0 -2.4,0M476.39,176.03a1.2,1.2 0 1,0 2.4,0a1.2,1.2 0 1,0 -2.4,0M481.31,176.03a1.2,1.2 0 1,0 2.4,0a1.2,1.2 0 1,0 -2.4,0M471.46,185.88a1.2,1.2 0 1,0 2.4,0a1.2,1.2 0 1,0 -2.4,0M476.39,185.88a1.2,1.2 0 1,0 2.4,0a1.2,1.2 0 1,0 -2.4,0M481.31,185.88a1.2,1.2 0 1,0 2.4,0a1.2,1.2 0 1,0 -2.4,0M547.8,121.85a1.2,1.2 0 1,0 2.4,0a1.2,1.2 0 1,0 -2.4,0M552.72,121.85a1.2,1.2 0 1,0 2.4,0a1.2,1.2 0 1,0 -2.4,0M557.65,121.85a1.2,1.2 0 1,0 2.4,0a1.2,1.2 0 1,0 -2.4,0M547.8,131.7a1.2,1.2 0 1,0 2.4,0a1.2,1.2 0 1,0 -2.4,0M552.72,131.7a1.2,1.2 0 1,0 2.4,0a1.2,1.2 0 1,0 -2.4,0M557.65,131.7a1.2,1.2 0 1,0 2.4,0a1.2,1.2 0 1,0 -2.4,0M547.8,141.55a1.2,1.2 0 1,0 2.4,0a1.2,1.2 0 1,0 -2.4,0M552.72,141.55a1.2,1.2 0 1,0 2.4,0a1.2,1.2 0 1,0 -2.4,0M557.65,141.55a1.2,1.2 0 1,0 2.4,0a1.2,1.2 0 1,0 -2.4,0M547.8,151.4a1.2,1.2 0 1,0 2.4,0a1.2,1.2 0 1,0 -2.4,0M552.72,151.4a1.2,1.2 0 1,0 2.4,0a1.2,1.2 0 1,0 -2.4,0M557.65,151.4a1.2,1.2 0 1,0 2.4,0a1.2,1.2 0 1,0 -2.4,0M547.8,161.25a1.2,1.2 0 1,0 2.4,0a1.2,1.2 0 1,0 -2.4,0M552.72,161.25a1.2,1.2 0 1,0 2.4,0a1.2,1.2 0 1,0 -2.4,0M557.65,161.25a1.2,1.2 0 1,0 2.4,0a1.2,1.2 0 1,0 -2.4,0M547.8,171.1a1.2,1.2 0 1,0 2.4,0a1.2,1.2 0 1,0 -2.4,0M552.72,171.1a1.2,1.2 0 1,0 2.4,0a1.2,1.2 0 1,0 -2.4,0M557.65,171.1a1.2,1.2 0 1,0 2.4,0a1.2,1.2 0 1,0 -2.4,0M547.8,180.95a1.2,1.2 0 1,0 2.4,0a1.2,1.2 0 1,0 -2.4,0M552.72,180.95a1.2,1.2 0 1,0 2.4,0a1.2,1.2 0 1,0 -2.4,0M557.65,180.95a1.2,1.2 0 1,0 2.4,0a1.2,1.2 0 1,0 -2.4,0M547.8,190.8a1.2,1.2 0 1,0 2.4,0a1.2,1.2 0 1,0 -2.4,0M552.72,190.8a1.2,1.2 0 1,0 2.4,0a1.2,1.2 0 1,0 -2.4,0M557.65,190.8a1.2,1.2 0 1,0 2.4,0a1.2,1.2 0 1,0 -2.4,0M550.26,116.93a1.2,1.2 0 1,0 2.4,0a1.2,1.2 0 1,0 -2.4,0M555.19,116.93a1.2,1.2 0 1,0 2.4,0a1.2,1.2 0 1,0 -2.4,0M560.11,116.93a1.2,1.2 0 1,0 2.4,0a1.2,1.2 0 1,0 -2.4,0M550.26,126.78a1.2,1.2 0 1,0 2.4,0a1.2,1.2 0 1,0 -2.4,0M555.19,126.78a1.2,1.2 0 1,0 2.4,0a1.2,1.2 0 1,0 -2.4,0M560.11,126.78a1.2,1.2 0 1,0 2.4,0a1.2,1.2 0 1,0 -2.4,0M550.26,136.63a1.2,1.2 0 1,0 2.4,0a1.2,1.2 0 1,0 -2.4,0M555.19,136.63a1.2,1.2 0 1,0 2.4,0a1.2,1.2 0 1,0 -2.4,0M560.11,136.63a1.2,1.2 0 1,0 2.4,0a1.2,1.2 0 1,0 -2.4,0M550.26,146.48a1.2,1.2 0 1,0 2.4,0a1.2,1.2 0 1,0 -2.4,0M555.19,146.48a1.2,1.2 0 1,0 2.4,0a1.2,1.2 0 1,0 -2.4,0M560.11,146.48a1.2,1.2 0 1,0 2.4,0a1.2,1.2 0 1,0 -2.4,0M550.26,156.33a1.2,1.2 0 1,0 2.4,0a1.2,1.2 0 1,0 -2.4,0M555.19,156.33a1.2,1.2 0 1,0 2.4,0a1.2,1.2 0 1,0 -2.4,0M560.11,156.33a1.2,1.2 0 1,0 2.4,0a1.2,1.2 0 1,0 -2.4,0M550.26,166.18a1.2,1.2 0 1,0 2.4,0a1.2,1.2 0 1,0 -2.4,0M555.19,166.18a1.2,1.2 0 1,0 2.4,0a1.2,1.2 0 1,0 -2.4,0M560.11,166.18a1.2,1.2 0 1,0 2.4,0a1.2,1.2 0 1,0 -2.4,0M550.26,176.03a1.2,1.2 0 1,0 2.4,0a1.2,1.2 0 1,0 -2.4,0M555.19,176.03a1.2,1.2 0 1,0 2.4,0a1.2,1.2 0 1,0 -2.4,0M560.11,176.03a1.2,1.2 0 1,0 2.4,0a1.2,1.2 0 1,0 -2.4,0M550.26,185.88a1.2,1.2 0 1,0 2.4,0a1.2,1.2 0 1,0 -2.4,0M555.19,185.88a1.2,1.2 0 1,0 2.4,0a1.2,1.2 0 1,0 -2.4,0M560.11,185.88a1.2,1.2 0 1,0 2.4,0a1.2,1.2 0 1,0 -2.4,0M597.05,43.05a1.2,1.2 0 1,0 2.4,0a1.2,1.2 0 1,0 -2.4,0M601.97,43.05a1.2,1.2 0 1,0 2.4,0a1.2,1.2 0 1,0 -2.4,0M606.9,43.05a1.2,1.2 0 1,0 2.4,0a1.2,1.2 0 1,0 -2.4,0M594.59,38.13a1.2,1.2 0 1,0 2.4,0a1.2,1.2 0 1,0 -2.4,0M599.51,38.13a1.2,1.2 0 1,0 2.4,0a1.2,1.2 0 1,0 -2.4,0M604.44,38.13a1.2,1.2 0 1,0 2.4,0a1.2,1.2 0 1,0 -2.4,0M609.36,38.13a1.2,1.2 0 1,0 2.4,0a1.2,1.2 0 1,0 -2.4,0" fill="none" stroke="#000" stroke-opacity="0.85" stroke-width="0.75"/></g><g clip-path="url(#hb4)"><path d="M406.9,30.01L418.8,18.11M406.9,39.86L418.8,27.96M406.9,49.71L418.8,37.81M406.9,59.56L418.8,47.66M406.9,69.41L418.8,57.51M406.9,79.26L418.8,67.36M406.9,89.11L418.8,77.21M406.9,98.96L418.8,87.06M406.9,108.81L418.8,96.91M406.9,118.66L418.8,106.76M406.9,128.51L418.8,116.61M406.9,138.36L418.8,126.46M406.9,148.21L418.8,136.31M406.9,158.06L418.8,146.16M406.9,167.91L418.8,156.01M406.9,177.76L418.8,165.86M406.9,187.61L418.8,175.71M406.9,197.46L418.8,185.56M406.9,207.31L418.8,195.41M406.9,217.16L418.8,205.26M483.2,52.21L495.1,40.31M483.2,62.06L495.1,50.16M483.2,71.91L495.1,60.01M483.2,81.76L495.1,69.86M483.2,91.61L495.1,79.71M483.2,101.46L495.1,89.56M483.2,111.31L495.1,99.41M483.2,121.16L495.1,109.26M483.2,131.01L495.1,119.11M483.2,140.86L495.1,128.96M483.2,150.71L495.1,138.81M483.2,160.56L495.1,148.66M483.2,170.41L495.1,158.51M483.2,180.26L495.1,168.36M483.2,190.11L495.1,178.21M483.2,199.96L495.1,188.06M483.2,209.81L495.1,197.91M483.2,219.66L495.1,207.76M559.2,45.16L571.1,33.26M559.2,55.01L571.1,43.11M559.2,64.86L571.1,52.96M559.2,74.71L571.1,62.81M559.2,84.56L571.1,72.66M559.2,94.41L571.1,82.51M559.2,104.26L571.1,92.36M559.2,114.11L571.1,102.21M559.2,123.96L571.1,112.06M559.2,133.81L571.1,121.91M559.2,143.66L571.1,131.76M559.2,153.51L571.1,141.61M559.2,163.36L571.1,151.46M559.2,173.21L571.1,161.31M559.2,183.06L571.1,171.16M559.2,192.91L571.1,181.01M559.2,202.76L571.1,190.86M559.2,212.61L571.1,200.71M595,29.06L611,13.06M595,38.91L611,22.91M595,48.76L611,32.76M595,58.61L611,42.61M595,68.46L611,52.46M595,78.31L611,62.31" fill="none" stroke="#000" stroke-opacity="0.85" stroke-width="0.7"/></g><g clip-path="url(#hb5)"><path d="M416.8,26.59L428.7,38.49M416.8,36.44L428.7,48.34M416.8,46.29L428.7,58.19M416.8,56.14L428.7,68.04M416.8,65.99L428.7,77.89M416.8,75.84L428.7,87.74M416.8,85.69L428.7,97.59M416.8,95.54L428.7,107.44M416.8,105.39L428.7,117.29M416.8,115.24L428.7,127.14M416.8,125.09L428.7,136.99M416.8,134.94L428.7,146.84M416.8,144.79L428.7,156.69M416.8,154.64L428.7,166.54M416.8,164.49L428.7,176.39M416.8,174.34L428.7,186.24M416.8,184.19L428.7,196.09M416.8,194.04L428.7,205.94M416.8,203.89L428.7,215.79M493.1,53.64L505,65.54M493.1,63.49L505,75.39M493.1,73.34L505,85.24M493.1,83.19L505,95.09M493.1,93.04L505,104.94M493.1,102.89L505,114.79M493.1,112.74L505,124.64M493.1,122.59L505,134.49M493.1,132.44L505,144.34M493.1,142.29L505,154.19M493.1,152.14L505,164.04M493.1,161.99L505,173.89M493.1,171.84L505,183.74M493.1,181.69L505,193.59M493.1,191.54L505,203.44M493.1,201.39L505,213.29M569.1,50.84L581,62.74M569.1,60.69L581,72.59M569.1,70.54L581,82.44M569.1,80.39L581,92.29M569.1,90.24L581,102.14M569.1,100.09L581,111.99M569.1,109.94L581,121.84M569.1,119.79L581,131.69M569.1,129.64L581,141.54M569.1,139.49L581,151.39M569.1,149.34L581,161.24M569.1,159.19L581,171.09M569.1,169.04L581,180.94M569.1,178.89L581,190.79M569.1,188.74L581,200.64M569.1,198.59L581,210.49M569.1,208.44L581,220.34M595,27.49L611,43.49M595,37.34L611,53.34M595,47.19L611,63.19M595,57.04L611,73.04M595,66.89L611,82.89M595,76.74L611,92.74" fill="none" stroke="#000" stroke-opacity="0.85" stroke-width="0.7"/></g><path d="M368.3,191V123.4H378.2V191M444.6,191V137.1H454.5V191M520.6,191V150.4H530.5V191M596,13.2V8.2H610V13.2ZM378.2,191V83.3H388.1V191M454.5,191V103H464.4V191M530.5,191V96.3H540.4V191M596,23V18H610V23ZM388.1,191V137.3H398V191M464.4,191V143.6H474.3V191M540.4,191V157.2H550.3V191M596,32.5V27.5H610V32.5ZM398,191V96.6H407.9V191M474.3,191V110.1H484.2V191M550.3,191V116.6H560.2V191M596,41.9V36.9H610V41.9ZM407.9,191V41.2H417.8V191M484.2,191V69.4H494.1V191M560.2,191V63.2H570.1V191M596,51.7V46.7H610V51.7ZM417.8,191V56.2H427.7V191M494.1,191V76.3H504V191M570.1,191V72.3H580V191M596,61.3V56.3H610V61.3Z" fill="none" stroke="#000" stroke-width="0.45"/><path d="M373.25,110.2V136.6M371.25,110.2H375.25M371.25,136.6H375.25M383.15,67V99.6M381.15,67H385.15M381.15,99.6H385.15M393.05,125.6V149M391.05,125.6H395.05M391.05,149H395.05M402.95,81.3V111.9M400.95,81.3H404.95M400.95,111.9H404.95M412.85,23.7V58.7M410.85,23.7H414.85M410.85,58.7H414.85M422.75,37.6V74.8M420.75,37.6H424.75M420.75,74.8H424.75M449.55,126.5V147.7M447.55,126.5H451.55M447.55,147.7H451.55M459.45,89.8V116.2M457.45,89.8H461.45M457.45,116.2H461.45M469.35,134.1V153.1M467.35,134.1H471.35M467.35,153.1H471.35M479.25,98.1V122.1M477.25,98.1H481.25M477.25,122.1H481.25M489.15,54.2V84.6M487.15,54.2H491.15M487.15,84.6H491.15M499.05,60.1V92.5M497.05,60.1H501.05M497.05,92.5H501.05M525.55,138.4V162.4M523.55,138.4H527.55M523.55,162.4H527.55M535.45,81.6V111M533.45,81.6H537.45M533.45,111H537.45M545.35,146.5V167.9M543.35,146.5H547.35M543.35,167.9H547.35M555.25,102.9V130.3M553.25,102.9H557.25M553.25,130.3H557.25M565.15,47.2V79.2M563.15,47.2H567.15M563.15,79.2H567.15M575.05,55V89.6M573.05,55H577.05M573.05,89.6H577.05" fill="none" stroke="#000" stroke-opacity="0.88" stroke-width="0.75"/><path d="M357.5,2.5V191.5" stroke="#8c8c8c" stroke-width="1.0"/><path d="M590.5,2.5V191.5" stroke="#8c8c8c" stroke-width="1.0"/><path d="M357,2.5H591" stroke="#959595" stroke-width="1.0"/><path d="M357,191.5H591" stroke="#d2d2d2" stroke-width="1.0"/><text x="354.3" y="193.8" font-size="8.0" text-anchor="end" textLength="8.0" lengthAdjust="spacingAndGlyphs" fill="#1a1a1a" stroke="#1a1a1a" stroke-width="0.14">78</text><text x="354.3" y="166.9" font-size="8.0" text-anchor="end" textLength="8.0" lengthAdjust="spacingAndGlyphs" fill="#1a1a1a" stroke="#1a1a1a" stroke-width="0.14">80</text><text x="354.3" y="140" font-size="8.0" text-anchor="end" textLength="8.0" lengthAdjust="spacingAndGlyphs" fill="#1a1a1a" stroke="#1a1a1a" stroke-width="0.14">82</text><text x="354.3" y="113.1" font-size="8.0" text-anchor="end" textLength="8.0" lengthAdjust="spacingAndGlyphs" fill="#1a1a1a" stroke="#1a1a1a" stroke-width="0.14">84</text><text x="354.3" y="86.2" font-size="8.0" text-anchor="end" textLength="8.0" lengthAdjust="spacingAndGlyphs" fill="#1a1a1a" stroke="#1a1a1a" stroke-width="0.14">86</text><text x="354.3" y="59.3" font-size="8.0" text-anchor="end" textLength="8.0" lengthAdjust="spacingAndGlyphs" fill="#1a1a1a" stroke="#1a1a1a" stroke-width="0.14">88</text><text x="354.3" y="32.4" font-size="8.0" text-anchor="end" textLength="8.0" lengthAdjust="spacingAndGlyphs" fill="#1a1a1a" stroke="#1a1a1a" stroke-width="0.14">90</text><text x="373 377.01 380.65 386.05 387.46 390.4 393.5 394.99 398.51 402.04 403.55 407.62 411.02 414.54 418.11 420.55" y="198.2" font-size="6.1" fill="#1a1a1a">Admission Report</text><text x="451.88 455.85 459.52 461.78 465.31 468.93 471.29 474.57 476.11 480.24 483.61 486.77 490.38 492.64" y="198.2" font-size="6.1" fill="#1a1a1a">Surgery Record</text><text x="521.49 525.99 527.42 530.46 533.66 537.21 540.8 543.04 546.55 550.05 551.58 555.52 559.25 564.8 570.15 573.75 576.09" y="198.2" font-size="6.1" fill="#1a1a1a">Discharge Summary</text><path d="M355.5,190.9H357.2M355.5,164H357.2M355.5,137.1H357.2M355.5,110.2H357.2M355.5,83.3H357.2M355.5,56.4H357.2M355.5,29.5H357.2M397.8,191.5V193.7M474.1,191.5V193.7M550.4,191.5V193.7" stroke="#000" stroke-opacity="0.7" stroke-width="0.6" fill="none"/><text transform="translate(342.8,128.5) rotate(-90)" x="-0.52 7.44 15.08 23.31 30.01 38.34 44.97 52.71 57.22" y="0" font-size="14" fill="#111">BERTScore</text><text x="614.48 619.4 623.46 627.7 629.78 634.88 638.56 644.4 648.42 650.9 654.83" y="13.2" font-size="6.91" fill="#1a1a1a">ChatGLM2-6B</text><text x="614.63 619.25 623.31 625.04 628.71 632.84 636.91 640.97 644.98 647.46 651.61 655.54" y="23" font-size="6.91" fill="#1a1a1a">Baichuan-13B</text><text x="614.58 620 625.25 629.32 633.33 635.81 639.74" y="32.5" font-size="6.91" fill="#1a1a1a">Qwen-7B</text><text x="614.58 620 625.25 629.32 633.46 637.48 639.96 643.89" y="41.9" font-size="6.91" fill="#1a1a1a">Qwen2-7B</text><text x="614.63 619.25 623.31 625.04 628.71 632.84 636.91 640.97 644.98 647.46 651.61 655.54 660.1 662.2 666.33 670.14" y="51.7" font-size="6.91" fill="#1a1a1a">Baichuan-13B-SFT</text><text x="614.58 620 625.25 629.32 633.46 637.48 639.96 643.89 648.46 650.55 654.69 658.5" y="61.3" font-size="6.91" fill="#1a1a1a">Qwen2-7B-SFT</text></g><text transform="scale(0.8,1)" x="513.9 520.26 524.14 527.27 533.99 540.47 547.31 553 559.89 565.52 571.87 575.85 581.91 585.32 588.81 595.16 599.16 602.17 610.37 613.21 619.56 625.87 631.5 638.17 647.67" y="210.8" font-size="10.2" fill="#1e1e1e">b) BERTScore for Glaucoma</text><g clip-path="url(#clipc)"><rect x="266" y="231.5" width="79" height="59.3" rx="1.6" fill="#fff" stroke="#d4d4d4" stroke-width="0.8"/><rect x="37.3" y="324.1" width="10.04" height="95.4" fill="#F0FF3C"/><rect x="114.3" y="336.3" width="10.04" height="83.2" fill="#F0FF3C"/><rect x="191.6" y="350" width="10.04" height="69.5" fill="#F0FF3C"/><rect x="268.4" y="234.2" width="13.4" height="5" fill="#F0FF3C"/><rect x="47.34" y="288.2" width="10.04" height="131.3" fill="#F08080"/><rect x="124.34" y="309.4" width="10.04" height="110.1" fill="#F08080"/><rect x="201.64" y="301.7" width="10.04" height="117.8" fill="#F08080"/><rect x="268.4" y="243.9" width="13.4" height="5" fill="#F08080"/><rect x="57.38" y="337.5" width="10.04" height="82" fill="#62D3FD"/><rect x="134.38" y="389.5" width="10.04" height="30" fill="#62D3FD"/><rect x="211.68" y="353.6" width="10.04" height="65.9" fill="#62D3FD"/><rect x="268.4" y="253.6" width="13.4" height="5" fill="#62D3FD"/><rect x="67.42" y="300.5" width="10.04" height="119" fill="#EE82F8"/><rect x="144.42" y="316.3" width="10.04" height="103.2" fill="#EE82F8"/><rect x="221.72" y="306.4" width="10.04" height="113.1" fill="#EE82F8"/><rect x="268.4" y="263.3" width="13.4" height="5" fill="#EE82F8"/><rect x="77.46" y="274.9" width="10.04" height="144.6" fill="#9EFD98"/><rect x="154.46" y="293.4" width="10.04" height="126.1" fill="#9EFD98"/><rect x="231.76" y="284.4" width="10.04" height="135.1" fill="#9EFD98"/><rect x="268.4" y="273.1" width="13.4" height="5" fill="#9EFD98"/><rect x="87.5" y="258.9" width="10.04" height="160.6" fill="#EDA530"/><rect x="164.5" y="284.4" width="10.04" height="135.1" fill="#EDA530"/><rect x="241.8" y="276" width="10.04" height="143.5" fill="#EDA530"/><rect x="268.4" y="282.9" width="13.4" height="5" fill="#EDA530"/><g clip-path="url(#hc0)"><path d="M34.94,329.18a0.78,0.78 0 1,0 1.56,0a0.78,0.78 0 1,0 -1.56,0M39.92,329.18a0.78,0.78 0 1,0 1.56,0a0.78,0.78 0 1,0 -1.56,0M44.91,329.18a0.78,0.78 0 1,0 1.56,0a0.78,0.78 0 1,0 -1.56,0M34.94,339.15a0.78,0.78 0 1,0 1.56,0a0.78,0.78 0 1,0 -1.56,0M39.92,339.15a0.78,0.78 0 1,0 1.56,0a0.78,0.78 0 1,0 -1.56,0M44.91,339.15a0.78,0.78 0 1,0 1.56,0a0.78,0.78 0 1,0 -1.56,0M34.94,349.12a0.78,0.78 0 1,0 1.56,0a0.78,0.78 0 1,0 -1.56,0M39.92,349.12a0.78,0.78 0 1,0 1.56,0a0.78,0.78 0 1,0 -1.56,0M44.91,349.12a0.78,0.78 0 1,0 1.56,0a0.78,0.78 0 1,0 -1.56,0M34.94,359.09a0.78,0.78 0 1,0 1.56,0a0.78,0.78 0 1,0 -1.56,0M39.92,359.09a0.78,0.78 0 1,0 1.56,0a0.78,0.78 0 1,0 -1.56,0M44.91,359.09a0.78,0.78 0 1,0 1.56,0a0.78,0.78 0 1,0 -1.56,0M34.94,369.06a0.78,0.78 0 1,0 1.56,0a0.78,0.78 0 1,0 -1.56,0M39.92,369.06a0.78,0.78 0 1,0 1.56,0a0.78,0.78 0 1,0 -1.56,0M44.91,369.06a0.78,0.78 0 1,0 1.56,0a0.78,0.78 0 1,0 -1.56,0M34.94,379.03a0.78,0.78 0 1,0 1.56,0a0.78,0.78 0 1,0 -1.56,0M39.92,379.03a0.78,0.78 0 1,0 1.56,0a0.78,0.78 0 1,0 -1.56,0M44.91,379.03a0.78,0.78 0 1,0 1.56,0a0.78,0.78 0 1,0 -1.56,0M34.94,389a0.78,0.78 0 1,0 1.56,0a0.78,0.78 0 1,0 -1.56,0M39.92,389a0.78,0.78 0 1,0 1.56,0a0.78,0.78 0 1,0 -1.56,0M44.91,389a0.78,0.78 0 1,0 1.56,0a0.78,0.78 0 1,0 -1.56,0M34.94,398.97a0.78,0.78 0 1,0 1.56,0a0.78,0.78 0 1,0 -1.56,0M39.92,398.97a0.78,0.78 0 1,0 1.56,0a0.78,0.78 0 1,0 -1.56,0M44.91,398.97a0.78,0.78 0 1,0 1.56,0a0.78,0.78 0 1,0 -1.56,0M34.94,408.94a0.78,0.78 0 1,0 1.56,0a0.78,0.78 0 1,0 -1.56,0M39.92,408.94a0.78,0.78 0 1,0 1.56,0a0.78,0.78 0 1,0 -1.56,0M44.91,408.94a0.78,0.78 0 1,0 1.56,0a0.78,0.78 0 1,0 -1.56,0M34.94,418.91a0.78,0.78 0 1,0 1.56,0a0.78,0.78 0 1,0 -1.56,0M39.92,418.91a0.78,0.78 0 1,0 1.56,0a0.78,0.78 0 1,0 -1.56,0M44.91,418.91a0.78,0.78 0 1,0 1.56,0a0.78,0.78 0 1,0 -1.56,0M37.43,324.19a0.78,0.78 0 1,0 1.56,0a0.78,0.78 0 1,0 -1.56,0M42.41,324.19a0.78,0.78 0 1,0 1.56,0a0.78,0.78 0 1,0 -1.56,0M47.4,324.19a0.78,0.78 0 1,0 1.56,0a0.78,0.78 0 1,0 -1.56,0M37.43,334.17a0.78,0.78 0 1,0 1.56,0a0.78,0.78 0 1,0 -1.56,0M42.41,334.17a0.78,0.78 0 1,0 1.56,0a0.78,0.78 0 1,0 -1.56,0M47.4,334.17a0.78,0.78 0 1,0 1.56,0a0.78,0.78 0 1,0 -1.56,0M37.43,344.13a0.78,0.78 0 1,0 1.56,0a0.78,0.78 0 1,0 -1.56,0M42.41,344.13a0.78,0.78 0 1,0 1.56,0a0.78,0.78 0 1,0 -1.56,0M47.4,344.13a0.78,0.78 0 1,0 1.56,0a0.78,0.78 0 1,0 -1.56,0M37.43,354.11a0.78,0.78 0 1,0 1.56,0a0.78,0.78 0 1,0 -1.56,0M42.41,354.11a0.78,0.78 0 1,0 1.56,0a0.78,0.78 0 1,0 -1.56,0M47.4,354.11a0.78,0.78 0 1,0 1.56,0a0.78,0.78 0 1,0 -1.56,0M37.43,364.07a0.78,0.78 0 1,0 1.56,0a0.78,0.78 0 1,0 -1.56,0M42.41,364.07a0.78,0.78 0 1,0 1.56,0a0.78,0.78 0 1,0 -1.56,0M47.4,364.07a0.78,0.78 0 1,0 1.56,0a0.78,0.78 0 1,0 -1.56,0M37.43,374.05a0.78,0.78 0 1,0 1.56,0a0.78,0.78 0 1,0 -1.56,0M42.41,374.05a0.78,0.78 0 1,0 1.56,0a0.78,0.78 0 1,0 -1.56,0M47.4,374.05a0.78,0.78 0 1,0 1.56,0a0.78,0.78 0 1,0 -1.56,0M37.43,384.01a0.78,0.78 0 1,0 1.56,0a0.78,0.78 0 1,0 -1.56,0M42.41,384.01a0.78,0.78 0 1,0 1.56,0a0.78,0.78 0 1,0 -1.56,0M47.4,384.01a0.78,0.78 0 1,0 1.56,0a0.78,0.78 0 1,0 -1.56,0M37.43,393.99a0.78,0.78 0 1,0 1.56,0a0.78,0.78 0 1,0 -1.56,0M42.41,393.99a0.78,0.78 0 1,0 1.56,0a0.78,0.78 0 1,0 -1.56,0M47.4,393.99a0.78,0.78 0 1,0 1.56,0a0.78,0.78 0 1,0 -1.56,0M37.43,403.96a0.78,0.78 0 1,0 1.56,0a0.78,0.78 0 1,0 -1.56,0M42.41,403.96a0.78,0.78 0 1,0 1.56,0a0.78,0.78 0 1,0 -1.56,0M47.4,403.96a0.78,0.78 0 1,0 1.56,0a0.78,0.78 0 1,0 -1.56,0M37.43,413.93a0.78,0.78 0 1,0 1.56,0a0.78,0.78 0 1,0 -1.56,0M42.41,413.93a0.78,0.78 0 1,0 1.56,0a0.78,0.78 0 1,0 -1.56,0M47.4,413.93a0.78,0.78 0 1,0 1.56,0a0.78,0.78 0 1,0 -1.56,0M114.7,339.15a0.78,0.78 0 1,0 1.56,0a0.78,0.78 0 1,0 -1.56,0M119.68,339.15a0.78,0.78 0 1,0 1.56,0a0.78,0.78 0 1,0 -1.56,0M124.67,339.15a0.78,0.78 0 1,0 1.56,0a0.78,0.78 0 1,0 -1.56,0M114.7,349.12a0.78,0.78 0 1,0 1.56,0a0.78,0.78 0 1,0 -1.56,0M119.68,349.12a0.78,0.78 0 1,0 1.56,0a0.78,0.78 0 1,0 -1.56,0M124.67,349.12a0.78,0.78 0 1,0 1.56,0a0.78,0.78 0 1,0 -1.56,0M114.7,359.09a0.78,0.78 0 1,0 1.56,0a0.78,0.78 0 1,0 -1.56,0M119.68,359.09a0.78,0.78 0 1,0 1.56,0a0.78,0.78 0 1,0 -1.56,0M124.67,359.09a0.78,0.78 0 1,0 1.56,0a0.78,0.78 0 1,0 -1.56,0M114.7,369.06a0.78,0.78 0 1,0 1.56,0a0.78,0.78 0 1,0 -1.56,0M119.68,369.06a0.78,0.78 0 1,0 1.56,0a0.78,0.78 0 1,0 -1.56,0M124.67,369.06a0.78,0.78 0 1,0 1.56,0a0.78,0.78 0 1,0 -1.56,0M114.7,379.03a0.78,0.78 0 1,0 1.56,0a0.78,0.78 0 1,0 -1.56,0M119.68,379.03a0.78,0.78 0 1,0 1.56,0a0.78,0.78 0 1,0 -1.56,0M124.67,379.03a0.78,0.78 0 1,0 1.56,0a0.78,0.78 0 1,0 -1.56,0M114.7,389a0.78,0.78 0 1,0 1.56,0a0.78,0.78 0 1,0 -1.56,0M119.68,389a0.78,0.78 0 1,0 1.56,0a0.78,0.78 0 1,0 -1.56,0M124.67,389a0.78,0.78 0 1,0 1.56,0a0.78,0.78 0 1,0 -1.56,0M114.7,398.97a0.78,0.78 0 1,0 1.56,0a0.78,0.78 0 1,0 -1.56,0M119.68,398.97a0.78,0.78 0 1,0 1.56,0a0.78,0.78 0 1,0 -1.56,0M124.67,398.97a0.78,0.78 0 1,0 1.56,0a0.78,0.78 0 1,0 -1.56,0M114.7,408.94a0.78,0.78 0 1,0 1.56,0a0.78,0.78 0 1,0 -1.56,0M119.68,408.94a0.78,0.78 0 1,0 1.56,0a0.78,0.78 0 1,0 -1.56,0M124.67,408.94a0.78,0.78 0 1,0 1.56,0a0.78,0.78 0 1,0 -1.56,0M114.7,418.91a0.78,0.78 0 1,0 1.56,0a0.78,0.78 0 1,0 -1.56,0M119.68,418.91a0.78,0.78 0 1,0 1.56,0a0.78,0.78 0 1,0 -1.56,0M124.67,418.91a0.78,0.78 0 1,0 1.56,0a0.78,0.78 0 1,0 -1.56,0M112.2,344.13a0.78,0.78 0 1,0 1.56,0a0.78,0.78 0 1,0 -1.56,0M117.19,344.13a0.78,0.78 0 1,0 1.56,0a0.78,0.78 0 1,0 -1.56,0M122.17,344.13a0.78,0.78 0 1,0 1.56,0a0.78,0.78 0 1,0 -1.56,0M112.2,354.11a0.78,0.78 0 1,0 1.56,0a0.78,0.78 0 1,0 -1.56,0M117.19,354.11a0.78,0.78 0 1,0 1.56,0a0.78,0.78 0 1,0 -1.56,0M122.17,354.11a0.78,0.78 0 1,0 1.56,0a0.78,0.78 0 1,0 -1.56,0M112.2,364.07a0.78,0.78 0 1,0 1.56,0a0.78,0.78 0 1,0 -1.56,0M117.19,364.07a0.78,0.78 0 1,0 1.56,0a0.78,0.78 0 1,0 -1.56,0M122.17,364.07a0.78,0.78 0 1,0 1.56,0a0.78,0.78 0 1,0 -1.56,0M112.2,374.05a0.78,0.78 0 1,0 1.56,0a0.78,0.78 0 1,0 -1.56,0M117.19,374.05a0.78,0.78 0 1,0 1.56,0a0.78,0.78 0 1,0 -1.56,0M122.17,374.05a0.78,0.78 0 1,0 1.56,0a0.78,0.78 0 1,0 -1.56,0M112.2,384.01a0.78,0.78 0 1,0 1.56,0a0.78,0.78 0 1,0 -1.56,0M117.19,384.01a0.78,0.78 0 1,0 1.56,0a0.78,0.78 0 1,0 -1.56,0M122.17,384.01a0.78,0.78 0 1,0 1.56,0a0.78,0.78 0 1,0 -1.56,0M112.2,393.99a0.78,0.78 0 1,0 1.56,0a0.78,0.78 0 1,0 -1.56,0M117.19,393.99a0.78,0.78 0 1,0 1.56,0a0.78,0.78 0 1,0 -1.56,0M122.17,393.99a0.78,0.78 0 1,0 1.56,0a0.78,0.78 0 1,0 -1.56,0M112.2,403.96a0.78,0.78 0 1,0 1.56,0a0.78,0.78 0 1,0 -1.56,0M117.19,403.96a0.78,0.78 0 1,0 1.56,0a0.78,0.78 0 1,0 -1.56,0M122.17,403.96a0.78,0.78 0 1,0 1.56,0a0.78,0.78 0 1,0 -1.56,0M112.2,413.93a0.78,0.78 0 1,0 1.56,0a0.78,0.78 0 1,0 -1.56,0M117.19,413.93a0.78,0.78 0 1,0 1.56,0a0.78,0.78 0 1,0 -1.56,0M122.17,413.93a0.78,0.78 0 1,0 1.56,0a0.78,0.78 0 1,0 -1.56,0M189.47,349.12a0.78,0.78 0 1,0 1.56,0a0.78,0.78 0 1,0 -1.56,0M194.46,349.12a0.78,0.78 0 1,0 1.56,0a0.78,0.78 0 1,0 -1.56,0M199.44,349.12a0.78,0.78 0 1,0 1.56,0a0.78,0.78 0 1,0 -1.56,0M189.47,359.09a0.78,0.78 0 1,0 1.56,0a0.78,0.78 0 1,0 -1.56,0M194.46,359.09a0.78,0.78 0 1,0 1.56,0a0.78,0.78 0 1,0 -1.56,0M199.44,359.09a0.78,0.78 0 1,0 1.56,0a0.78,0.78 0 1,0 -1.56,0M189.47,369.06a0.78,0.78 0 1,0 1.56,0a0.78,0.78 0 1,0 -1.56,0M194.46,369.06a0.78,0.78 0 1,0 1.56,0a0.78,0.78 0 1,0 -1.56,0M199.44,369.06a0.78,0.78 0 1,0 1.56,0a0.78,0.78 0 1,0 -1.56,0M189.47,379.03a0.78,0.78 0 1,0 1.56,0a0.78,0.78 0 1,0 -1.56,0M194.46,379.03a0.78,0.78 0 1,0 1.56,0a0.78,0.78 0 1,0 -1.56,0M199.44,379.03a0.78,0.78 0 1,0 1.56,0a0.78,0.78 0 1,0 -1.56,0M189.47,389a0.78,0.78 0 1,0 1.56,0a0.78,0.78 0 1,0 -1.56,0M194.46,389a0.78,0.78 0 1,0 1.56,0a0.78,0.78 0 1,0 -1.56,0M199.44,389a0.78,0.78 0 1,0 1.56,0a0.78,0.78 0 1,0 -1.56,0M189.47,398.97a0.78,0.78 0 1,0 1.56,0a0.78,0.78 0 1,0 -1.56,0M194.46,398.97a0.78,0.78 0 1,0 1.56,0a0.78,0.78 0 1,0 -1.56,0M199.44,398.97a0.78,0.78 0 1,0 1.56,0a0.78,0.78 0 1,0 -1.56,0M189.47,408.94a0.78,0.78 0 1,0 1.56,0a0.78,0.78 0 1,0 -1.56,0M194.46,408.94a0.78,0.78 0 1,0 1.56,0a0.78,0.78 0 1,0 -1.56,0M199.44,408.94a0.78,0.78 0 1,0 1.56,0a0.78,0.78 0 1,0 -1.56,0M189.47,418.91a0.78,0.78 0 1,0 1.56,0a0.78,0.78 0 1,0 -1.56,0M194.46,418.91a0.78,0.78 0 1,0 1.56,0a0.78,0.78 0 1,0 -1.56,0M199.44,418.91a0.78,0.78 0 1,0 1.56,0a0.78,0.78 0 1,0 -1.56,0M191.96,354.11a0.78,0.78 0 1,0 1.56,0a0.78,0.78 0 1,0 -1.56,0M196.95,354.11a0.78,0.78 0 1,0 1.56,0a0.78,0.78 0 1,0 -1.56,0M201.93,354.11a0.78,0.78 0 1,0 1.56,0a0.78,0.78 0 1,0 -1.56,0M191.96,364.07a0.78,0.78 0 1,0 1.56,0a0.78,0.78 0 1,0 -1.56,0M196.95,364.07a0.78,0.78 0 1,0 1.56,0a0.78,0.78 0 1,0 -1.56,0M201.93,364.07a0.78,0.78 0 1,0 1.56,0a0.78,0.78 0 1,0 -1.56,0M191.96,374.05a0.78,0.78 0 1,0 1.56,0a0.78,0.78 0 1,0 -1.56,0M196.95,374.05a0.78,0.78 0 1,0 1.56,0a0.78,0.78 0 1,0 -1.56,0M201.93,374.05a0.78,0.78 0 1,0 1.56,0a0.78,0.78 0 1,0 -1.56,0M191.96,384.01a0.78,0.78 0 1,0 1.56,0a0.78,0.78 0 1,0 -1.56,0M196.95,384.01a0.78,0.78 0 1,0 1.56,0a0.78,0.78 0 1,0 -1.56,0M201.93,384.01a0.78,0.78 0 1,0 1.56,0a0.78,0.78 0 1,0 -1.56,0M191.96,393.99a0.78,0.78 0 1,0 1.56,0a0.78,0.78 0 1,0 -1.56,0M196.95,393.99a0.78,0.78 0 1,0 1.56,0a0.78,0.78 0 1,0 -1.56,0M201.93,393.99a0.78,0.78 0 1,0 1.56,0a0.78,0.78 0 1,0 -1.56,0M191.96,403.96a0.78,0.78 0 1,0 1.56,0a0.78,0.78 0 1,0 -1.56,0M196.95,403.96a0.78,0.78 0 1,0 1.56,0a0.78,0.78 0 1,0 -1.56,0M201.93,403.96a0.78,0.78 0 1,0 1.56,0a0.78,0.78 0 1,0 -1.56,0M191.96,413.93a0.78,0.78 0 1,0 1.56,0a0.78,0.78 0 1,0 -1.56,0M196.95,413.93a0.78,0.78 0 1,0 1.56,0a0.78,0.78 0 1,0 -1.56,0M201.93,413.93a0.78,0.78 0 1,0 1.56,0a0.78,0.78 0 1,0 -1.56,0M269.23,239.45a0.78,0.78 0 1,0 1.56,0a0.78,0.78 0 1,0 -1.56,0M274.22,239.45a0.78,0.78 0 1,0 1.56,0a0.78,0.78 0 1,0 -1.56,0M279.2,239.45a0.78,0.78 0 1,0 1.56,0a0.78,0.78 0 1,0 -1.56,0M266.74,234.47a0.78,0.78 0 1,0 1.56,0a0.78,0.78 0 1,0 -1.56,0M271.72,234.47a0.78,0.78 0 1,0 1.56,0a0.78,0.78 0 1,0 -1.56,0M276.71,234.47a0.78,0.78 0 1,0 1.56,0a0.78,0.78 0 1,0 -1.56,0M281.69,234.47a0.78,0.78 0 1,0 1.56,0a0.78,0.78 0 1,0 -1.56,0" fill="#000" fill-opacity="0.85"/></g><g clip-path="url(#hc1)"><path d="M46.34,276.18L58.38,264.14M46.34,286.15L58.38,274.11M46.34,296.12L58.38,284.08M46.34,306.09L58.38,294.05M46.34,316.06L58.38,304.02M46.34,326.03L58.38,313.99M46.34,336L58.38,323.96M46.34,345.97L58.38,333.93M46.34,355.94L58.38,343.9M46.34,365.91L58.38,353.87M46.34,375.88L58.38,363.84M46.34,385.85L58.38,373.81M46.34,395.82L58.38,383.78M46.34,405.79L58.38,393.75M46.34,415.76L58.38,403.72M46.34,425.73L58.38,413.69M46.34,435.7L58.38,423.66M46.34,445.67L58.38,433.63M46.34,262.54L58.38,274.58M46.34,272.51L58.38,284.55M46.34,282.48L58.38,294.52M46.34,292.45L58.38,304.49M46.34,302.42L58.38,314.46M46.34,312.39L58.38,324.43M46.34,322.36L58.38,334.4M46.34,332.33L58.38,344.37M46.34,342.3L58.38,354.34M46.34,352.27L58.38,364.31M46.34,362.24L58.38,374.28M46.34,372.21L58.38,384.25M46.34,382.18L58.38,394.22M46.34,392.15L58.38,404.19M46.34,402.12L58.38,414.16M46.34,412.09L58.38,424.13M46.34,422.06L58.38,434.1M46.34,432.03L58.38,444.07M123.34,298.88L135.38,286.84M123.34,308.85L135.38,296.81M123.34,318.82L135.38,306.78M123.34,328.79L135.38,316.75M123.34,338.76L135.38,326.72M123.34,348.73L135.38,336.69M123.34,358.7L135.38,346.66M123.34,368.67L135.38,356.63M123.34,378.64L135.38,366.6M123.34,388.61L135.38,376.57M123.34,398.58L135.38,386.54M123.34,408.55L135.38,396.51M123.34,418.52L135.38,406.48M123.34,428.49L135.38,416.45M123.34,438.46L135.38,426.42M123.34,448.43L135.38,436.39M123.34,279.72L135.38,291.76M123.34,289.69L135.38,301.73M123.34,299.66L135.38,311.7M123.34,309.63L135.38,321.67M123.34,319.6L135.38,331.64M123.34,329.57L135.38,341.61M123.34,339.54L135.38,351.58M123.34,349.51L135.38,361.55M123.34,359.48L135.38,371.52M123.34,369.45L135.38,381.49M123.34,379.42L135.38,391.46M123.34,389.39L135.38,401.43M123.34,399.36L135.38,411.4M123.34,409.33L135.38,421.37M123.34,419.3L135.38,431.34M123.34,429.27L135.38,441.31M200.64,291.37L212.68,279.33M200.64,301.34L212.68,289.3M200.64,311.31L212.68,299.27M200.64,321.28L212.68,309.24M200.64,331.25L212.68,319.21M200.64,341.22L212.68,329.18M200.64,351.19L212.68,339.15M200.64,361.16L212.68,349.12M200.64,371.13L212.68,359.09M200.64,381.1L212.68,369.06M200.64,391.07L212.68,379.03M200.64,401.04L212.68,389M200.64,411.01L212.68,398.97M200.64,420.98L212.68,408.94M200.64,430.95L212.68,418.91M200.64,440.92L212.68,428.88M200.64,277.26L212.68,289.3M200.64,287.23L212.68,299.27M200.64,297.2L212.68,309.24M200.64,307.17L212.68,319.21M200.64,317.14L212.68,329.18M200.64,327.11L212.68,339.15M200.64,337.08L212.68,349.12M200.64,347.05L212.68,359.09M200.64,357.02L212.68,369.06M200.64,366.99L212.68,379.03M200.64,376.96L212.68,389M200.64,386.93L212.68,398.97M200.64,396.9L212.68,408.94M200.64,406.87L212.68,418.91M200.64,416.84L212.68,428.88M200.64,426.81L212.68,438.85M200.64,436.78L212.68,448.82M267.4,234.58L282.8,219.18M267.4,244.55L282.8,229.15M267.4,254.52L282.8,239.12M267.4,264.49L282.8,249.09M267.4,274.46L282.8,259.06M267.4,214.41L282.8,229.81M267.4,224.38L282.8,239.78M267.4,234.35L282.8,249.75M267.4,244.32L282.8,259.72M267.4,254.29L282.8,269.69M267.4,264.26L282.8,279.66" fill="none" stroke="#000" stroke-opacity="0.85" stroke-width="0.7"/></g><g clip-path="url(#hc2)"><path d="M60.64,336.5V420.5M65.62,336.5V420.5M135.42,388.5V420.5M140.4,388.5V420.5M145.38,388.5V420.5M215.18,352.6V420.5M220.16,352.6V420.5M270.01,252.6V259.6M275,252.6V259.6M279.98,252.6V259.6" fill="none" stroke="#000" stroke-opacity="0.85" stroke-width="0.7"/></g><g clip-path="url(#hc3)"><path d="M64.42,299.27a1.2,1.2 0 1,0 2.4,0a1.2,1.2 0 1,0 -2.4,0M69.41,299.27a1.2,1.2 0 1,0 2.4,0a1.2,1.2 0 1,0 -2.4,0M74.39,299.27a1.2,1.2 0 1,0 2.4,0a1.2,1.2 0 1,0 -2.4,0M64.42,309.24a1.2,1.2 0 1,0 2.4,0a1.2,1.2 0 1,0 -2.4,0M69.41,309.24a1.2,1.2 0 1,0 2.4,0a1.2,1.2 0 1,0 -2.4,0M74.39,309.24a1.2,1.2 0 1,0 2.4,0a1.2,1.2 0 1,0 -2.4,0M64.42,319.21a1.2,1.2 0 1,0 2.4,0a1.2,1.2 0 1,0 -2.4,0M69.41,319.21a1.2,1.2 0 1,0 2.4,0a1.2,1.2 0 1,0 -2.4,0M74.39,319.21a1.2,1.2 0 1,0 2.4,0a1.2,1.2 0 1,0 -2.4,0M64.42,329.18a1.2,1.2 0 1,0 2.4,0a1.2,1.2 0 1,0 -2.4,0M69.41,329.18a1.2,1.2 0 1,0 2.4,0a1.2,1.2 0 1,0 -2.4,0M74.39,329.18a1.2,1.2 0 1,0 2.4,0a1.2,1.2 0 1,0 -2.4,0M64.42,339.15a1.2,1.2 0 1,0 2.4,0a1.2,1.2 0 1,0 -2.4,0M69.41,339.15a1.2,1.2 0 1,0 2.4,0a1.2,1.2 0 1,0 -2.4,0M74.39,339.15a1.2,1.2 0 1,0 2.4,0a1.2,1.2 0 1,0 -2.4,0M64.42,349.12a1.2,1.2 0 1,0 2.4,0a1.2,1.2 0 1,0 -2.4,0M69.41,349.12a1.2,1.2 0 1,0 2.4,0a1.2,1.2 0 1,0 -2.4,0M74.39,349.12a1.2,1.2 0 1,0 2.4,0a1.2,1.2 0 1,0 -2.4,0M64.42,359.09a1.2,1.2 0 1,0 2.4,0a1.2,1.2 0 1,0 -2.4,0M69.41,359.09a1.2,1.2 0 1,0 2.4,0a1.2,1.2 0 1,0 -2.4,0M74.39,359.09a1.2,1.2 0 1,0 2.4,0a1.2,1.2 0 1,0 -2.4,0M64.42,369.06a1.2,1.2 0 1,0 2.4,0a1.2,1.2 0 1,0 -2.4,0M69.41,369.06a1.2,1.2 0 1,0 2.4,0a1.2,1.2 0 1,0 -2.4,0M74.39,369.06a1.2,1.2 0 1,0 2.4,0a1.2,1.2 0 1,0 -2.4,0M64.42,379.03a1.2,1.2 0 1,0 2.4,0a1.2,1.2 0 1,0 -2.4,0M69.41,379.03a1.2,1.2 0 1,0 2.4,0a1.2,1.2 0 1,0 -2.4,0M74.39,379.03a1.2,1.2 0 1,0 2.4,0a1.2,1.2 0 1,0 -2.4,0M64.42,389a1.2,1.2 0 1,0 2.4,0a1.2,1.2 0 1,0 -2.4,0M69.41,389a1.2,1.2 0 1,0 2.4,0a1.2,1.2 0 1,0 -2.4,0M74.39,389a1.2,1.2 0 1,0 2.4,0a1.2,1.2 0 1,0 -2.4,0M64.42,398.97a1.2,1.2 0 1,0 2.4,0a1.2,1.2 0 1,0 -2.4,0M69.41,398.97a1.2,1.2 0 1,0 2.4,0a1.2,1.2 0 1,0 -2.4,0M74.39,398.97a1.2,1.2 0 1,0 2.4,0a1.2,1.2 0 1,0 -2.4,0M64.42,408.94a1.2,1.2 0 1,0 2.4,0a1.2,1.2 0 1,0 -2.4,0M69.41,408.94a1.2,1.2 0 1,0 2.4,0a1.2,1.2 0 1,0 -2.4,0M74.39,408.94a1.2,1.2 0 1,0 2.4,0a1.2,1.2 0 1,0 -2.4,0M64.42,418.91a1.2,1.2 0 1,0 2.4,0a1.2,1.2 0 1,0 -2.4,0M69.41,418.91a1.2,1.2 0 1,0 2.4,0a1.2,1.2 0 1,0 -2.4,0M74.39,418.91a1.2,1.2 0 1,0 2.4,0a1.2,1.2 0 1,0 -2.4,0M66.92,304.25a1.2,1.2 0 1,0 2.4,0a1.2,1.2 0 1,0 -2.4,0M71.9,304.25a1.2,1.2 0 1,0 2.4,0a1.2,1.2 0 1,0 -2.4,0M76.89,304.25a1.2,1.2 0 1,0 2.4,0a1.2,1.2 0 1,0 -2.4,0M66.92,314.23a1.2,1.2 0 1,0 2.4,0a1.2,1.2 0 1,0 -2.4,0M71.9,314.23a1.2,1.2 0 1,0 2.4,0a1.2,1.2 0 1,0 -2.4,0M76.89,314.23a1.2,1.2 0 1,0 2.4,0a1.2,1.2 0 1,0 -2.4,0M66.92,324.19a1.2,1.2 0 1,0 2.4,0a1.2,1.2 0 1,0 -2.4,0M71.9,324.19a1.2,1.2 0 1,0 2.4,0a1.2,1.2 0 1,0 -2.4,0M76.89,324.19a1.2,1.2 0 1,0 2.4,0a1.2,1.2 0 1,0 -2.4,0M66.92,334.17a1.2,1.2 0 1,0 2.4,0a1.2,1.2 0 1,0 -2.4,0M71.9,334.17a1.2,1.2 0 1,0 2.4,0a1.2,1.2 0 1,0 -2.4,0M76.89,334.17a1.2,1.2 0 1,0 2.4,0a1.2,1.2 0 1,0 -2.4,0M66.92,344.13a1.2,1.2 0 1,0 2.4,0a1.2,1.2 0 1,0 -2.4,0M71.9,344.13a1.2,1.2 0 1,0 2.4,0a1.2,1.2 0 1,0 -2.4,0M76.89,344.13a1.2,1.2 0 1,0 2.4,0a1.2,1.2 0 1,0 -2.4,0M66.92,354.11a1.2,1.2 0 1,0 2.4,0a1.2,1.2 0 1,0 -2.4,0M71.9,354.11a1.2,1.2 0 1,0 2.4,0a1.2,1.2 0 1,0 -2.4,0M76.89,354.11a1.2,1.2 0 1,0 2.4,0a1.2,1.2 0 1,0 -2.4,0M66.92,364.07a1.2,1.2 0 1,0 2.4,0a1.2,1.2 0 1,0 -2.4,0M71.9,364.07a1.2,1.2 0 1,0 2.4,0a1.2,1.2 0 1,0 -2.4,0M76.89,364.07a1.2,1.2 0 1,0 2.4,0a1.2,1.2 0 1,0 -2.4,0M66.92,374.05a1.2,1.2 0 1,0 2.4,0a1.2,1.2 0 1,0 -2.4,0M71.9,374.05a1.2,1.2 0 1,0 2.4,0a1.2,1.2 0 1,0 -2.4,0M76.89,374.05a1.2,1.2 0 1,0 2.4,0a1.2,1.2 0 1,0 -2.4,0M66.92,384.01a1.2,1.2 0 1,0 2.4,0a1.2,1.2 0 1,0 -2.4,0M71.9,384.01a1.2,1.2 0 1,0 2.4,0a1.2,1.2 0 1,0 -2.4,0M76.89,384.01a1.2,1.2 0 1,0 2.4,0a1.2,1.2 0 1,0 -2.4,0M66.92,393.99a1.2,1.2 0 1,0 2.4,0a1.2,1.2 0 1,0 -2.4,0M71.9,393.99a1.2,1.2 0 1,0 2.4,0a1.2,1.2 0 1,0 -2.4,0M76.89,393.99a1.2,1.2 0 1,0 2.4,0a1.2,1.2 0 1,0 -2.4,0M66.92,403.96a1.2,1.2 0 1,0 2.4,0a1.2,1.2 0 1,0 -2.4,0M71.9,403.96a1.2,1.2 0 1,0 2.4,0a1.2,1.2 0 1,0 -2.4,0M76.89,403.96a1.2,1.2 0 1,0 2.4,0a1.2,1.2 0 1,0 -2.4,0M66.92,413.93a1.2,1.2 0 1,0 2.4,0a1.2,1.2 0 1,0 -2.4,0M71.9,413.93a1.2,1.2 0 1,0 2.4,0a1.2,1.2 0 1,0 -2.4,0M76.89,413.93a1.2,1.2 0 1,0 2.4,0a1.2,1.2 0 1,0 -2.4,0M144.19,319.21a1.2,1.2 0 1,0 2.4,0a1.2,1.2 0 1,0 -2.4,0M149.17,319.21a1.2,1.2 0 1,0 2.4,0a1.2,1.2 0 1,0 -2.4,0M154.16,319.21a1.2,1.2 0 1,0 2.4,0a1.2,1.2 0 1,0 -2.4,0M144.19,329.18a1.2,1.2 0 1,0 2.4,0a1.2,1.2 0 1,0 -2.4,0M149.17,329.18a1.2,1.2 0 1,0 2.4,0a1.2,1.2 0 1,0 -2.4,0M154.16,329.18a1.2,1.2 0 1,0 2.4,0a1.2,1.2 0 1,0 -2.4,0M144.19,339.15a1.2,1.2 0 1,0 2.4,0a1.2,1.2 0 1,0 -2.4,0M149.17,339.15a1.2,1.2 0 1,0 2.4,0a1.2,1.2 0 1,0 -2.4,0M154.16,339.15a1.2,1.2 0 1,0 2.4,0a1.2,1.2 0 1,0 -2.4,0M144.19,349.12a1.2,1.2 0 1,0 2.4,0a1.2,1.2 0 1,0 -2.4,0M149.17,349.12a1.2,1.2 0 1,0 2.4,0a1.2,1.2 0 1,0 -2.4,0M154.16,349.12a1.2,1.2 0 1,0 2.4,0a1.2,1.2 0 1,0 -2.4,0M144.19,359.09a1.2,1.2 0 1,0 2.4,0a1.2,1.2 0 1,0 -2.4,0M149.17,359.09a1.2,1.2 0 1,0 2.4,0a1.2,1.2 0 1,0 -2.4,0M154.16,359.09a1.2,1.2 0 1,0 2.4,0a1.2,1.2 0 1,0 -2.4,0M144.19,369.06a1.2,1.2 0 1,0 2.4,0a1.2,1.2 0 1,0 -2.4,0M149.17,369.06a1.2,1.2 0 1,0 2.4,0a1.2,1.2 0 1,0 -2.4,0M154.16,369.06a1.2,1.2 0 1,0 2.4,0a1.2,1.2 0 1,0 -2.4,0M144.19,379.03a1.2,1.2 0 1,0 2.4,0a1.2,1.2 0 1,0 -2.4,0M149.17,379.03a1.2,1.2 0 1,0 2.4,0a1.2,1.2 0 1,0 -2.4,0M154.16,379.03a1.2,1.2 0 1,0 2.4,0a1.2,1.2 0 1,0 -2.4,0M144.19,389a1.2,1.2 0 1,0 2.4,0a1.2,1.2 0 1,0 -2.4,0M149.17,389a1.2,1.2 0 1,0 2.4,0a1.2,1.2 0 1,0 -2.4,0M154.16,389a1.2,1.2 0 1,0 2.4,0a1.2,1.2 0 1,0 -2.4,0M144.19,398.97a1.2,1.2 0 1,0 2.4,0a1.2,1.2 0 1,0 -2.4,0M149.17,398.97a1.2,1.2 0 1,0 2.4,0a1.2,1.2 0 1,0 -2.4,0M154.16,398.97a1.2,1.2 0 1,0 2.4,0a1.2,1.2 0 1,0 -2.4,0M144.19,408.94a1.2,1.2 0 1,0 2.4,0a1.2,1.2 0 1,0 -2.4,0M149.17,408.94a1.2,1.2 0 1,0 2.4,0a1.2,1.2 0 1,0 -2.4,0M154.16,408.94a1.2,1.2 0 1,0 2.4,0a1.2,1.2 0 1,0 -2.4,0M144.19,418.91a1.2,1.2 0 1,0 2.4,0a1.2,1.2 0 1,0 -2.4,0M149.17,418.91a1.2,1.2 0 1,0 2.4,0a1.2,1.2 0 1,0 -2.4,0M154.16,418.91a1.2,1.2 0 1,0 2.4,0a1.2,1.2 0 1,0 -2.4,0M141.69,324.19a1.2,1.2 0 1,0 2.4,0a1.2,1.2 0 1,0 -2.4,0M146.68,324.19a1.2,1.2 0 1,0 2.4,0a1.2,1.2 0 1,0 -2.4,0M151.66,324.19a1.2,1.2 0 1,0 2.4,0a1.2,1.2 0 1,0 -2.4,0M141.69,334.17a1.2,1.2 0 1,0 2.4,0a1.2,1.2 0 1,0 -2.4,0M146.68,334.17a1.2,1.2 0 1,0 2.4,0a1.2,1.2 0 1,0 -2.4,0M151.66,334.17a1.2,1.2 0 1,0 2.4,0a1.2,1.2 0 1,0 -2.4,0M141.69,344.13a1.2,1.2 0 1,0 2.4,0a1.2,1.2 0 1,0 -2.4,0M146.68,344.13a1.2,1.2 0 1,0 2.4,0a1.2,1.2 0 1,0 -2.4,0M151.66,344.13a1.2,1.2 0 1,0 2.4,0a1.2,1.2 0 1,0 -2.4,0M141.69,354.11a1.2,1.2 0 1,0 2.4,0a1.2,1.2 0 1,0 -2.4,0M146.68,354.11a1.2,1.2 0 1,0 2.4,0a1.2,1.2 0 1,0 -2.4,0M151.66,354.11a1.2,1.2 0 1,0 2.4,0a1.2,1.2 0 1,0 -2.4,0M141.69,364.07a1.2,1.2 0 1,0 2.4,0a1.2,1.2 0 1,0 -2.4,0M146.68,364.07a1.2,1.2 0 1,0 2.4,0a1.2,1.2 0 1,0 -2.4,0M151.66,364.07a1.2,1.2 0 1,0 2.4,0a1.2,1.2 0 1,0 -2.4,0M141.69,374.05a1.2,1.2 0 1,0 2.4,0a1.2,1.2 0 1,0 -2.4,0M146.68,374.05a1.2,1.2 0 1,0 2.4,0a1.2,1.2 0 1,0 -2.4,0M151.66,374.05a1.2,1.2 0 1,0 2.4,0a1.2,1.2 0 1,0 -2.4,0M141.69,384.01a1.2,1.2 0 1,0 2.4,0a1.2,1.2 0 1,0 -2.4,0M146.68,384.01a1.2,1.2 0 1,0 2.4,0a1.2,1.2 0 1,0 -2.4,0M151.66,384.01a1.2,1.2 0 1,0 2.4,0a1.2,1.2 0 1,0 -2.4,0M141.69,393.99a1.2,1.2 0 1,0 2.4,0a1.2,1.2 0 1,0 -2.4,0M146.68,393.99a1.2,1.2 0 1,0 2.4,0a1.2,1.2 0 1,0 -2.4,0M151.66,393.99a1.2,1.2 0 1,0 2.4,0a1.2,1.2 0 1,0 -2.4,0M141.69,403.96a1.2,1.2 0 1,0 2.4,0a1.2,1.2 0 1,0 -2.4,0M146.68,403.96a1.2,1.2 0 1,0 2.4,0a1.2,1.2 0 1,0 -2.4,0M151.66,403.96a1.2,1.2 0 1,0 2.4,0a1.2,1.2 0 1,0 -2.4,0M141.69,413.93a1.2,1.2 0 1,0 2.4,0a1.2,1.2 0 1,0 -2.4,0M146.68,413.93a1.2,1.2 0 1,0 2.4,0a1.2,1.2 0 1,0 -2.4,0M151.66,413.93a1.2,1.2 0 1,0 2.4,0a1.2,1.2 0 1,0 -2.4,0M218.96,309.24a1.2,1.2 0 1,0 2.4,0a1.2,1.2 0 1,0 -2.4,0M223.95,309.24a1.2,1.2 0 1,0 2.4,0a1.2,1.2 0 1,0 -2.4,0M228.93,309.24a1.2,1.2 0 1,0 2.4,0a1.2,1.2 0 1,0 -2.4,0M218.96,319.21a1.2,1.2 0 1,0 2.4,0a1.2,1.2 0 1,0 -2.4,0M223.95,319.21a1.2,1.2 0 1,0 2.4,0a1.2,1.2 0 1,0 -2.4,0M228.93,319.21a1.2,1.2 0 1,0 2.4,0a1.2,1.2 0 1,0 -2.4,0M218.96,329.18a1.2,1.2 0 1,0 2.4,0a1.2,1.2 0 1,0 -2.4,0M223.95,329.18a1.2,1.2 0 1,0 2.4,0a1.2,1.2 0 1,0 -2.4,0M228.93,329.18a1.2,1.2 0 1,0 2.4,0a1.2,1.2 0 1,0 -2.4,0M218.96,339.15a1.2,1.2 0 1,0 2.4,0a1.2,1.2 0 1,0 -2.4,0M223.95,339.15a1.2,1.2 0 1,0 2.4,0a1.2,1.2 0 1,0 -2.4,0M228.93,339.15a1.2,1.2 0 1,0 2.4,0a1.2,1.2 0 1,0 -2.4,0M218.96,349.12a1.2,1.2 0 1,0 2.4,0a1.2,1.2 0 1,0 -2.4,0M223.95,349.12a1.2,1.2 0 1,0 2.4,0a1.2,1.2 0 1,0 -2.4,0M228.93,349.12a1.2,1.2 0 1,0 2.4,0a1.2,1.2 0 1,0 -2.4,0M218.96,359.09a1.2,1.2 0 1,0 2.4,0a1.2,1.2 0 1,0 -2.4,0M223.95,359.09a1.2,1.2 0 1,0 2.4,0a1.2,1.2 0 1,0 -2.4,0M228.93,359.09a1.2,1.2 0 1,0 2.4,0a1.2,1.2 0 1,0 -2.4,0M218.96,369.06a1.2,1.2 0 1,0 2.4,0a1.2,1.2 0 1,0 -2.4,0M223.95,369.06a1.2,1.2 0 1,0 2.4,0a1.2,1.2 0 1,0 -2.4,0M228.93,369.06a1.2,1.2 0 1,0 2.4,0a1.2,1.2 0 1,0 -2.4,0M218.96,379.03a1.2,1.2 0 1,0 2.4,0a1.2,1.2 0 1,0 -2.4,0M223.95,379.03a1.2,1.2 0 1,0 2.4,0a1.2,1.2 0 1,0 -2.4,0M228.93,379.03a1.2,1.2 0 1,0 2.4,0a1.2,1.2 0 1,0 -2.4,0M218.96,389a1.2,1.2 0 1,0 2.4,0a1.2,1.2 0 1,0 -2.4,0M223.95,389a1.2,1.2 0 1,0 2.4,0a1.2,1.2 0 1,0 -2.4,0M228.93,389a1.2,1.2 0 1,0 2.4,0a1.2,1.2 0 1,0 -2.4,0M218.96,398.97a1.2,1.2 0 1,0 2.4,0a1.2,1.2 0 1,0 -2.4,0M223.95,398.97a1.2,1.2 0 1,0 2.4,0a1.2,1.2 0 1,0 -2.4,0M228.93,398.97a1.2,1.2 0 1,0 2.4,0a1.2,1.2 0 1,0 -2.4,0M218.96,408.94a1.2,1.2 0 1,0 2.4,0a1.2,1.2 0 1,0 -2.4,0M223.95,408.94a1.2,1.2 0 1,0 2.4,0a1.2,1.2 0 1,0 -2.4,0M228.93,408.94a1.2,1.2 0 1,0 2.4,0a1.2,1.2 0 1,0 -2.4,0M218.96,418.91a1.2,1.2 0 1,0 2.4,0a1.2,1.2 0 1,0 -2.4,0M223.95,418.91a1.2,1.2 0 1,0 2.4,0a1.2,1.2 0 1,0 -2.4,0M228.93,418.91a1.2,1.2 0 1,0 2.4,0a1.2,1.2 0 1,0 -2.4,0M221.45,314.23a1.2,1.2 0 1,0 2.4,0a1.2,1.2 0 1,0 -2.4,0M226.44,314.23a1.2,1.2 0 1,0 2.4,0a1.2,1.2 0 1,0 -2.4,0M231.42,314.23a1.2,1.2 0 1,0 2.4,0a1.2,1.2 0 1,0 -2.4,0M221.45,324.19a1.2,1.2 0 1,0 2.4,0a1.2,1.2 0 1,0 -2.4,0M226.44,324.19a1.2,1.2 0 1,0 2.4,0a1.2,1.2 0 1,0 -2.4,0M231.42,324.19a1.2,1.2 0 1,0 2.4,0a1.2,1.2 0 1,0 -2.4,0M221.45,334.17a1.2,1.2 0 1,0 2.4,0a1.2,1.2 0 1,0 -2.4,0M226.44,334.17a1.2,1.2 0 1,0 2.4,0a1.2,1.2 0 1,0 -2.4,0M231.42,334.17a1.2,1.2 0 1,0 2.4,0a1.2,1.2 0 1,0 -2.4,0M221.45,344.13a1.2,1.2 0 1,0 2.4,0a1.2,1.2 0 1,0 -2.4,0M226.44,344.13a1.2,1.2 0 1,0 2.4,0a1.2,1.2 0 1,0 -2.4,0M231.42,344.13a1.2,1.2 0 1,0 2.4,0a1.2,1.2 0 1,0 -2.4,0M221.45,354.11a1.2,1.2 0 1,0 2.4,0a1.2,1.2 0 1,0 -2.4,0M226.44,354.11a1.2,1.2 0 1,0 2.4,0a1.2,1.2 0 1,0 -2.4,0M231.42,354.11a1.2,1.2 0 1,0 2.4,0a1.2,1.2 0 1,0 -2.4,0M221.45,364.07a1.2,1.2 0 1,0 2.4,0a1.2,1.2 0 1,0 -2.4,0M226.44,364.07a1.2,1.2 0 1,0 2.4,0a1.2,1.2 0 1,0 -2.4,0M231.42,364.07a1.2,1.2 0 1,0 2.4,0a1.2,1.2 0 1,0 -2.4,0M221.45,374.05a1.2,1.2 0 1,0 2.4,0a1.2,1.2 0 1,0 -2.4,0M226.44,374.05a1.2,1.2 0 1,0 2.4,0a1.2,1.2 0 1,0 -2.4,0M231.42,374.05a1.2,1.2 0 1,0 2.4,0a1.2,1.2 0 1,0 -2.4,0M221.45,384.01a1.2,1.2 0 1,0 2.4,0a1.2,1.2 0 1,0 -2.4,0M226.44,384.01a1.2,1.2 0 1,0 2.4,0a1.2,1.2 0 1,0 -2.4,0M231.42,384.01a1.2,1.2 0 1,0 2.4,0a1.2,1.2 0 1,0 -2.4,0M221.45,393.99a1.2,1.2 0 1,0 2.4,0a1.2,1.2 0 1,0 -2.4,0M226.44,393.99a1.2,1.2 0 1,0 2.4,0a1.2,1.2 0 1,0 -2.4,0M231.42,393.99a1.2,1.2 0 1,0 2.4,0a1.2,1.2 0 1,0 -2.4,0M221.45,403.96a1.2,1.2 0 1,0 2.4,0a1.2,1.2 0 1,0 -2.4,0M226.44,403.96a1.2,1.2 0 1,0 2.4,0a1.2,1.2 0 1,0 -2.4,0M231.42,403.96a1.2,1.2 0 1,0 2.4,0a1.2,1.2 0 1,0 -2.4,0M221.45,413.93a1.2,1.2 0 1,0 2.4,0a1.2,1.2 0 1,0 -2.4,0M226.44,413.93a1.2,1.2 0 1,0 2.4,0a1.2,1.2 0 1,0 -2.4,0M231.42,413.93a1.2,1.2 0 1,0 2.4,0a1.2,1.2 0 1,0 -2.4,0M268.81,269.36a1.2,1.2 0 1,0 2.4,0a1.2,1.2 0 1,0 -2.4,0M273.8,269.36a1.2,1.2 0 1,0 2.4,0a1.2,1.2 0 1,0 -2.4,0M278.78,269.36a1.2,1.2 0 1,0 2.4,0a1.2,1.2 0 1,0 -2.4,0M266.32,264.38a1.2,1.2 0 1,0 2.4,0a1.2,1.2 0 1,0 -2.4,0M271.3,264.38a1.2,1.2 0 1,0 2.4,0a1.2,1.2 0 1,0 -2.4,0M276.29,264.38a1.2,1.2 0 1,0 2.4,0a1.2,1.2 0 1,0 -2.4,0M281.27,264.38a1.2,1.2 0 1,0 2.4,0a1.2,1.2 0 1,0 -2.4,0" fill="none" stroke="#000" stroke-opacity="0.85" stroke-width="0.75"/></g><g clip-path="url(#hc4)"><path d="M76.46,256.03L88.5,243.99M76.46,266L88.5,253.96M76.46,275.97L88.5,263.93M76.46,285.94L88.5,273.9M76.46,295.91L88.5,283.87M76.46,305.88L88.5,293.84M76.46,315.85L88.5,303.81M76.46,325.82L88.5,313.78M76.46,335.79L88.5,323.75M76.46,345.76L88.5,333.72M76.46,355.73L88.5,343.69M76.46,365.7L88.5,353.66M76.46,375.67L88.5,363.63M76.46,385.64L88.5,373.6M76.46,395.61L88.5,383.57M76.46,405.58L88.5,393.54M76.46,415.55L88.5,403.51M76.46,425.52L88.5,413.48M76.46,435.49L88.5,423.45M76.46,445.46L88.5,433.42M153.46,278.73L165.5,266.69M153.46,288.7L165.5,276.66M153.46,298.67L165.5,286.63M153.46,308.64L165.5,296.6M153.46,318.61L165.5,306.57M153.46,328.58L165.5,316.54M153.46,338.55L165.5,326.51M153.46,348.52L165.5,336.48M153.46,358.49L165.5,346.45M153.46,368.46L165.5,356.42M153.46,378.43L165.5,366.39M153.46,388.4L165.5,376.36M153.46,398.37L165.5,386.33M153.46,408.34L165.5,396.3M153.46,418.31L165.5,406.27M153.46,428.28L165.5,416.24M153.46,438.25L165.5,426.21M153.46,448.22L165.5,436.18M230.76,271.22L242.8,259.18M230.76,281.19L242.8,269.15M230.76,291.16L242.8,279.12M230.76,301.13L242.8,289.09M230.76,311.1L242.8,299.06M230.76,321.07L242.8,309.03M230.76,331.04L242.8,319M230.76,341.01L242.8,328.97M230.76,350.98L242.8,338.94M230.76,360.95L242.8,348.91M230.76,370.92L242.8,358.88M230.76,380.89L242.8,368.85M230.76,390.86L242.8,378.82M230.76,400.83L242.8,388.79M230.76,410.8L242.8,398.76M230.76,420.77L242.8,408.73M230.76,430.74L242.8,418.7M230.76,440.71L242.8,428.67M267.4,254.52L282.8,239.12M267.4,264.49L282.8,249.09M267.4,274.46L282.8,259.06M267.4,284.43L282.8,269.03M267.4,294.4L282.8,279M267.4,304.37L282.8,288.97" fill="none" stroke="#000" stroke-opacity="0.85" stroke-width="0.7"/></g><g clip-path="url(#hc5)"><path d="M86.5,232.91L98.54,244.95M86.5,242.88L98.54,254.92M86.5,252.85L98.54,264.89M86.5,262.82L98.54,274.86M86.5,272.79L98.54,284.83M86.5,282.76L98.54,294.8M86.5,292.73L98.54,304.77M86.5,302.7L98.54,314.74M86.5,312.67L98.54,324.71M86.5,322.64L98.54,334.68M86.5,332.61L98.54,344.65M86.5,342.58L98.54,354.62M86.5,352.55L98.54,364.59M86.5,362.52L98.54,374.56M86.5,372.49L98.54,384.53M86.5,382.46L98.54,394.5M86.5,392.43L98.54,404.47M86.5,402.4L98.54,414.44M86.5,412.37L98.54,424.41M86.5,422.34L98.54,434.38M86.5,432.31L98.54,444.35M163.5,260.06L175.54,272.1M163.5,270.03L175.54,282.07M163.5,280L175.54,292.04M163.5,289.97L175.54,302.01M163.5,299.94L175.54,311.98M163.5,309.91L175.54,321.95M163.5,319.88L175.54,331.92M163.5,329.85L175.54,341.89M163.5,339.82L175.54,351.86M163.5,349.79L175.54,361.83M163.5,359.76L175.54,371.8M163.5,369.73L175.54,381.77M163.5,379.7L175.54,391.74M163.5,389.67L175.54,401.71M163.5,399.64L175.54,411.68M163.5,409.61L175.54,421.65M163.5,419.58L175.54,431.62M163.5,429.55L175.54,441.59M240.8,247.63L252.84,259.67M240.8,257.6L252.84,269.64M240.8,267.57L252.84,279.61M240.8,277.54L252.84,289.58M240.8,287.51L252.84,299.55M240.8,297.48L252.84,309.52M240.8,307.45L252.84,319.49M240.8,317.42L252.84,329.46M240.8,327.39L252.84,339.43M240.8,337.36L252.84,349.4M240.8,347.33L252.84,359.37M240.8,357.3L252.84,369.34M240.8,367.27L252.84,379.31M240.8,377.24L252.84,389.28M240.8,387.21L252.84,399.25M240.8,397.18L252.84,409.22M240.8,407.15L252.84,419.19M240.8,417.12L252.84,429.16M240.8,427.09L252.84,439.13M240.8,437.06L252.84,449.1M267.4,254.29L282.8,269.69M267.4,264.26L282.8,279.66M267.4,274.23L282.8,289.63M267.4,284.2L282.8,299.6M267.4,294.17L282.8,309.57M267.4,304.14L282.8,319.54" fill="none" stroke="#000" stroke-opacity="0.85" stroke-width="0.7"/></g><path d="M37.3,419.5V324.1H47.34V419.5M114.3,419.5V336.3H124.34V419.5M191.6,419.5V350H201.64V419.5M268.4,239.2V234.2H281.8V239.2ZM47.34,419.5V288.2H57.38V419.5M124.34,419.5V309.4H134.38V419.5M201.64,419.5V301.7H211.68V419.5M268.4,248.9V243.9H281.8V248.9ZM57.38,419.5V337.5H67.42V419.5M134.38,419.5V389.5H144.42V419.5M211.68,419.5V353.6H221.72V419.5M268.4,258.6V253.6H281.8V258.6ZM67.42,419.5V300.5H77.46V419.5M144.42,419.5V316.3H154.46V419.5M221.72,419.5V306.4H231.76V419.5M268.4,268.3V263.3H281.8V268.3ZM77.46,419.5V274.9H87.5V419.5M154.46,419.5V293.4H164.5V419.5M231.76,419.5V284.4H241.8V419.5M268.4,278.1V273.1H281.8V278.1ZM87.5,419.5V258.9H97.54V419.5M164.5,419.5V284.4H174.54V419.5M241.8,419.5V276H251.84V419.5M268.4,287.9V282.9H281.8V287.9Z" fill="none" stroke="#000" stroke-width="0.45"/><path d="M42.32,306.5V341.7M40.32,306.5H44.32M40.32,341.7H44.32M52.36,267.6V308.8M50.36,267.6H54.36M50.36,308.8H54.36M62.4,321.5V353.5M60.4,321.5H64.4M60.4,353.5H64.4M72.44,281.6V319.4M70.44,281.6H74.44M70.44,319.4H74.44M82.48,253.4V296.4M80.48,253.4H84.48M80.48,296.4H84.48M92.52,235.8V282M90.52,235.8H94.52M90.52,282H94.52M119.32,321.3V351.3M117.32,321.3H121.32M117.32,351.3H121.32M129.36,291.9V326.9M127.36,291.9H131.36M127.36,326.9H131.36M139.4,376V403M137.4,376H141.4M137.4,403H141.4M149.44,299.8V332.8M147.44,299.8H151.44M147.44,332.8H151.44M159.48,274.3V312.5M157.48,274.3H161.48M157.48,312.5H161.48M169.52,263.9V304.9M167.52,263.9H171.52M167.52,304.9H171.52M196.62,334V366M194.62,334H198.62M194.62,366H198.62M206.66,282.7V320.7M204.66,282.7H208.66M204.66,320.7H208.66M216.7,338.4V368.8M214.7,338.4H218.7M214.7,368.8H218.7M226.74,288.8V324M224.74,288.8H228.74M224.74,324H228.74M236.78,263.8V305M234.78,263.8H238.78M234.78,305H238.78M246.82,254.5V297.5M244.82,254.5H248.82M244.82,297.5H248.82" fill="none" stroke="#000" stroke-opacity="0.88" stroke-width="0.75"/><path d="M26.5,228V419.5" stroke="#8a8a8a" stroke-width="1.0"/><path d="M262.5,228V419.5" stroke="#8a8a8a" stroke-width="1.0"/><path d="M26,228H263" stroke="#cfcfcf" stroke-width="1.5"/><path d="M26,419.5H263" stroke="#999999" stroke-width="1.0"/><text x="23.3" y="422.1" font-size="8.0" text-anchor="end" textLength="8.0" lengthAdjust="spacingAndGlyphs" fill="#1a1a1a" stroke="#1a1a1a" stroke-width="0.14">68</text><text x="23.3" y="394.8" font-size="8.0" text-anchor="end" textLength="8.0" lengthAdjust="spacingAndGlyphs" fill="#1a1a1a" stroke="#1a1a1a" stroke-width="0.14">70</text><text x="23.3" y="367.5" font-size="8.0" text-anchor="end" textLength="8.0" lengthAdjust="spacingAndGlyphs" fill="#1a1a1a" stroke="#1a1a1a" stroke-width="0.14">72</text><text x="23.3" y="340.2" font-size="8.0" text-anchor="end" textLength="8.0" lengthAdjust="spacingAndGlyphs" fill="#1a1a1a" stroke="#1a1a1a" stroke-width="0.14">74</text><text x="23.3" y="312.9" font-size="8.0" text-anchor="end" textLength="8.0" lengthAdjust="spacingAndGlyphs" fill="#1a1a1a" stroke="#1a1a1a" stroke-width="0.14">76</text><text x="23.3" y="285.6" font-size="8.0" text-anchor="end" textLength="8.0" lengthAdjust="spacingAndGlyphs" fill="#1a1a1a" stroke="#1a1a1a" stroke-width="0.14">78</text><text x="23.3" y="258.3" font-size="8.0" text-anchor="end" textLength="8.0" lengthAdjust="spacingAndGlyphs" fill="#1a1a1a" stroke="#1a1a1a" stroke-width="0.14">80</text><text x="41.99 46.08 49.83 55.3 56.76 59.77 62.92 64.47 68.06 71.66 73.22 77.38 80.86 84.45 88.09 90.57" y="426.6" font-size="6.1" fill="#1a1a1a">Admission Report</text><text x="122.11 126.12 129.84 132.14 135.71 139.37 141.77 145.09 146.67 150.85 154.27 157.46 161.11 163.41" y="426.6" font-size="6.1" fill="#1a1a1a">Surgery Record</text><text x="192.61 197.15 198.6 201.67 204.9 208.49 212.11 214.39 217.93 221.46 223.01 226.99 230.77 236.37 241.78 245.4 247.77" y="426.6" font-size="6.1" fill="#1a1a1a">Discharge Summary</text><path d="M24.5,419.2H26.2M24.5,391.9H26.2M24.5,364.6H26.2M24.5,337.3H26.2M24.5,310H26.2M24.5,282.7H26.2M24.5,255.4H26.2M67.3,419.5V421.7M144.6,419.5V421.7M221.8,419.5V421.7" stroke="#000" stroke-opacity="0.7" stroke-width="0.6" fill="none"/><text transform="translate(11.3,355.3) rotate(-90)" x="-0.55 7.35 14.92 23.1 29.74 38.01 44.59 52.29 56.75" y="0" font-size="14" fill="#111">BERTScore</text><text x="286.77 291.83 296 300.36 302.49 307.74 311.51 317.52 321.65 324.2 328.24" y="239.2" font-size="7.1" fill="#1a1a1a">ChatGLM2-6B</text><text x="286.93 291.67 295.84 297.63 301.4 305.64 309.82 313.99 318.12 320.67 324.93 328.97" y="248.9" font-size="7.1" fill="#1a1a1a">Baichuan-13B</text><text x="286.87 292.45 297.84 302.02 306.15 308.7 312.73" y="258.6" font-size="7.1" fill="#1a1a1a">Qwen-7B</text><text x="286.87 292.45 297.84 302.02 306.28 310.41 312.96 317" y="268.3" font-size="7.1" fill="#1a1a1a">Qwen2-7B</text><text x="286.93 291.67 295.84 297.63 301.4 305.64 309.82 313.99 318.12 320.67 324.93 328.97 333.66 335.81 340.06 343.97" y="278.1" font-size="7.1" fill="#1a1a1a">Baichuan-13B-SFT</text><text x="286.87 292.45 297.84 302.02 306.28 310.41 312.96 317 321.69 323.84 328.09 332" y="287.9" font-size="7.1" fill="#1a1a1a">Qwen2-7B-SFT</text></g><text transform="scale(0.8,1)" x="96.63 102.29 106.18 109.33 116.06 122.55 129.42 135.12 142.03 147.67 154.04 158.03 164.1 167.52 171.03 177.39 181.4 184.3 191.61 197.95 201.65 204.61 210.97 217.23 219.98 223.27 231.2 237.76 241.48 247.7 253.46 260.26 269.79 276.17 282.83" y="440.7" font-size="10.2" fill="#1e1e1e">c) BERTScore for Retinal Detachment</text><g clip-path="url(#clipd)"><rect x="598.9" y="232.2" width="84.3" height="59.6" rx="1.6" fill="#fff" stroke="#d4d4d4" stroke-width="0.8"/><rect x="368.3" y="345.2" width="10.07" height="73.3" fill="#F0FF3C"/><rect x="446.1" y="357.8" width="10.07" height="60.7" fill="#F0FF3C"/><rect x="523.6" y="371.6" width="10.07" height="46.9" fill="#F0FF3C"/><rect x="600.8" y="234.8" width="13.9" height="5" fill="#F0FF3C"/><rect x="378.37" y="308.5" width="10.07" height="110" fill="#F08080"/><rect x="456.17" y="330" width="10.07" height="88.5" fill="#F08080"/><rect x="533.67" y="322.3" width="10.07" height="96.2" fill="#F08080"/><rect x="600.8" y="244.4" width="13.9" height="5" fill="#F08080"/><rect x="388.44" y="358.9" width="10.07" height="59.6" fill="#62D3FD"/><rect x="466.24" y="370.8" width="10.07" height="47.7" fill="#62D3FD"/><rect x="543.74" y="375.5" width="10.07" height="43" fill="#62D3FD"/><rect x="600.8" y="254.2" width="13.9" height="5" fill="#62D3FD"/><rect x="398.51" y="321.2" width="10.07" height="97.3" fill="#EE82F8"/><rect x="476.31" y="337.4" width="10.07" height="81.1" fill="#EE82F8"/><rect x="553.81" y="327.3" width="10.07" height="91.2" fill="#EE82F8"/><rect x="600.8" y="264.1" width="13.9" height="5" fill="#EE82F8"/><rect x="408.58" y="294.4" width="10.07" height="124.1" fill="#9EFD98"/><rect x="486.38" y="313" width="10.07" height="105.5" fill="#9EFD98"/><rect x="563.88" y="304.2" width="10.07" height="114.3" fill="#9EFD98"/><rect x="600.8" y="273.9" width="13.9" height="5" fill="#9EFD98"/><rect x="418.65" y="278.2" width="10.07" height="140.3" fill="#EDA530"/><rect x="496.45" y="304.4" width="10.07" height="114.1" fill="#EDA530"/><rect x="573.95" y="295.5" width="10.07" height="123" fill="#EDA530"/><rect x="600.8" y="283.7" width="13.9" height="5" fill="#EDA530"/><g clip-path="url(#hd0)"><path d="M365.92,348a0.78,0.78 0 1,0 1.56,0a0.78,0.78 0 1,0 -1.56,0M370.92,348a0.78,0.78 0 1,0 1.56,0a0.78,0.78 0 1,0 -1.56,0M375.92,348a0.78,0.78 0 1,0 1.56,0a0.78,0.78 0 1,0 -1.56,0M365.92,358a0.78,0.78 0 1,0 1.56,0a0.78,0.78 0 1,0 -1.56,0M370.92,358a0.78,0.78 0 1,0 1.56,0a0.78,0.78 0 1,0 -1.56,0M375.92,358a0.78,0.78 0 1,0 1.56,0a0.78,0.78 0 1,0 -1.56,0M365.92,368a0.78,0.78 0 1,0 1.56,0a0.78,0.78 0 1,0 -1.56,0M370.92,368a0.78,0.78 0 1,0 1.56,0a0.78,0.78 0 1,0 -1.56,0M375.92,368a0.78,0.78 0 1,0 1.56,0a0.78,0.78 0 1,0 -1.56,0M365.92,378a0.78,0.78 0 1,0 1.56,0a0.78,0.78 0 1,0 -1.56,0M370.92,378a0.78,0.78 0 1,0 1.56,0a0.78,0.78 0 1,0 -1.56,0M375.92,378a0.78,0.78 0 1,0 1.56,0a0.78,0.78 0 1,0 -1.56,0M365.92,388a0.78,0.78 0 1,0 1.56,0a0.78,0.78 0 1,0 -1.56,0M370.92,388a0.78,0.78 0 1,0 1.56,0a0.78,0.78 0 1,0 -1.56,0M375.92,388a0.78,0.78 0 1,0 1.56,0a0.78,0.78 0 1,0 -1.56,0M365.92,398a0.78,0.78 0 1,0 1.56,0a0.78,0.78 0 1,0 -1.56,0M370.92,398a0.78,0.78 0 1,0 1.56,0a0.78,0.78 0 1,0 -1.56,0M375.92,398a0.78,0.78 0 1,0 1.56,0a0.78,0.78 0 1,0 -1.56,0M365.92,408a0.78,0.78 0 1,0 1.56,0a0.78,0.78 0 1,0 -1.56,0M370.92,408a0.78,0.78 0 1,0 1.56,0a0.78,0.78 0 1,0 -1.56,0M375.92,408a0.78,0.78 0 1,0 1.56,0a0.78,0.78 0 1,0 -1.56,0M365.92,418a0.78,0.78 0 1,0 1.56,0a0.78,0.78 0 1,0 -1.56,0M370.92,418a0.78,0.78 0 1,0 1.56,0a0.78,0.78 0 1,0 -1.56,0M375.92,418a0.78,0.78 0 1,0 1.56,0a0.78,0.78 0 1,0 -1.56,0M368.42,353a0.78,0.78 0 1,0 1.56,0a0.78,0.78 0 1,0 -1.56,0M373.42,353a0.78,0.78 0 1,0 1.56,0a0.78,0.78 0 1,0 -1.56,0M378.42,353a0.78,0.78 0 1,0 1.56,0a0.78,0.78 0 1,0 -1.56,0M368.42,363a0.78,0.78 0 1,0 1.56,0a0.78,0.78 0 1,0 -1.56,0M373.42,363a0.78,0.78 0 1,0 1.56,0a0.78,0.78 0 1,0 -1.56,0M378.42,363a0.78,0.78 0 1,0 1.56,0a0.78,0.78 0 1,0 -1.56,0M368.42,373a0.78,0.78 0 1,0 1.56,0a0.78,0.78 0 1,0 -1.56,0M373.42,373a0.78,0.78 0 1,0 1.56,0a0.78,0.78 0 1,0 -1.56,0M378.42,373a0.78,0.78 0 1,0 1.56,0a0.78,0.78 0 1,0 -1.56,0M368.42,383a0.78,0.78 0 1,0 1.56,0a0.78,0.78 0 1,0 -1.56,0M373.42,383a0.78,0.78 0 1,0 1.56,0a0.78,0.78 0 1,0 -1.56,0M378.42,383a0.78,0.78 0 1,0 1.56,0a0.78,0.78 0 1,0 -1.56,0M368.42,393a0.78,0.78 0 1,0 1.56,0a0.78,0.78 0 1,0 -1.56,0M373.42,393a0.78,0.78 0 1,0 1.56,0a0.78,0.78 0 1,0 -1.56,0M378.42,393a0.78,0.78 0 1,0 1.56,0a0.78,0.78 0 1,0 -1.56,0M368.42,403a0.78,0.78 0 1,0 1.56,0a0.78,0.78 0 1,0 -1.56,0M373.42,403a0.78,0.78 0 1,0 1.56,0a0.78,0.78 0 1,0 -1.56,0M378.42,403a0.78,0.78 0 1,0 1.56,0a0.78,0.78 0 1,0 -1.56,0M368.42,413a0.78,0.78 0 1,0 1.56,0a0.78,0.78 0 1,0 -1.56,0M373.42,413a0.78,0.78 0 1,0 1.56,0a0.78,0.78 0 1,0 -1.56,0M378.42,413a0.78,0.78 0 1,0 1.56,0a0.78,0.78 0 1,0 -1.56,0M445.92,358a0.78,0.78 0 1,0 1.56,0a0.78,0.78 0 1,0 -1.56,0M450.92,358a0.78,0.78 0 1,0 1.56,0a0.78,0.78 0 1,0 -1.56,0M455.92,358a0.78,0.78 0 1,0 1.56,0a0.78,0.78 0 1,0 -1.56,0M445.92,368a0.78,0.78 0 1,0 1.56,0a0.78,0.78 0 1,0 -1.56,0M450.92,368a0.78,0.78 0 1,0 1.56,0a0.78,0.78 0 1,0 -1.56,0M455.92,368a0.78,0.78 0 1,0 1.56,0a0.78,0.78 0 1,0 -1.56,0M445.92,378a0.78,0.78 0 1,0 1.56,0a0.78,0.78 0 1,0 -1.56,0M450.92,378a0.78,0.78 0 1,0 1.56,0a0.78,0.78 0 1,0 -1.56,0M455.92,378a0.78,0.78 0 1,0 1.56,0a0.78,0.78 0 1,0 -1.56,0M445.92,388a0.78,0.78 0 1,0 1.56,0a0.78,0.78 0 1,0 -1.56,0M450.92,388a0.78,0.78 0 1,0 1.56,0a0.78,0.78 0 1,0 -1.56,0M455.92,388a0.78,0.78 0 1,0 1.56,0a0.78,0.78 0 1,0 -1.56,0M445.92,398a0.78,0.78 0 1,0 1.56,0a0.78,0.78 0 1,0 -1.56,0M450.92,398a0.78,0.78 0 1,0 1.56,0a0.78,0.78 0 1,0 -1.56,0M455.92,398a0.78,0.78 0 1,0 1.56,0a0.78,0.78 0 1,0 -1.56,0M445.92,408a0.78,0.78 0 1,0 1.56,0a0.78,0.78 0 1,0 -1.56,0M450.92,408a0.78,0.78 0 1,0 1.56,0a0.78,0.78 0 1,0 -1.56,0M455.92,408a0.78,0.78 0 1,0 1.56,0a0.78,0.78 0 1,0 -1.56,0M445.92,418a0.78,0.78 0 1,0 1.56,0a0.78,0.78 0 1,0 -1.56,0M450.92,418a0.78,0.78 0 1,0 1.56,0a0.78,0.78 0 1,0 -1.56,0M455.92,418a0.78,0.78 0 1,0 1.56,0a0.78,0.78 0 1,0 -1.56,0M443.42,363a0.78,0.78 0 1,0 1.56,0a0.78,0.78 0 1,0 -1.56,0M448.42,363a0.78,0.78 0 1,0 1.56,0a0.78,0.78 0 1,0 -1.56,0M453.42,363a0.78,0.78 0 1,0 1.56,0a0.78,0.78 0 1,0 -1.56,0M443.42,373a0.78,0.78 0 1,0 1.56,0a0.78,0.78 0 1,0 -1.56,0M448.42,373a0.78,0.78 0 1,0 1.56,0a0.78,0.78 0 1,0 -1.56,0M453.42,373a0.78,0.78 0 1,0 1.56,0a0.78,0.78 0 1,0 -1.56,0M443.42,383a0.78,0.78 0 1,0 1.56,0a0.78,0.78 0 1,0 -1.56,0M448.42,383a0.78,0.78 0 1,0 1.56,0a0.78,0.78 0 1,0 -1.56,0M453.42,383a0.78,0.78 0 1,0 1.56,0a0.78,0.78 0 1,0 -1.56,0M443.42,393a0.78,0.78 0 1,0 1.56,0a0.78,0.78 0 1,0 -1.56,0M448.42,393a0.78,0.78 0 1,0 1.56,0a0.78,0.78 0 1,0 -1.56,0M453.42,393a0.78,0.78 0 1,0 1.56,0a0.78,0.78 0 1,0 -1.56,0M443.42,403a0.78,0.78 0 1,0 1.56,0a0.78,0.78 0 1,0 -1.56,0M448.42,403a0.78,0.78 0 1,0 1.56,0a0.78,0.78 0 1,0 -1.56,0M453.42,403a0.78,0.78 0 1,0 1.56,0a0.78,0.78 0 1,0 -1.56,0M443.42,413a0.78,0.78 0 1,0 1.56,0a0.78,0.78 0 1,0 -1.56,0M448.42,413a0.78,0.78 0 1,0 1.56,0a0.78,0.78 0 1,0 -1.56,0M453.42,413a0.78,0.78 0 1,0 1.56,0a0.78,0.78 0 1,0 -1.56,0M520.92,378a0.78,0.78 0 1,0 1.56,0a0.78,0.78 0 1,0 -1.56,0M525.92,378a0.78,0.78 0 1,0 1.56,0a0.78,0.78 0 1,0 -1.56,0M530.92,378a0.78,0.78 0 1,0 1.56,0a0.78,0.78 0 1,0 -1.56,0M520.92,388a0.78,0.78 0 1,0 1.56,0a0.78,0.78 0 1,0 -1.56,0M525.92,388a0.78,0.78 0 1,0 1.56,0a0.78,0.78 0 1,0 -1.56,0M530.92,388a0.78,0.78 0 1,0 1.56,0a0.78,0.78 0 1,0 -1.56,0M520.92,398a0.78,0.78 0 1,0 1.56,0a0.78,0.78 0 1,0 -1.56,0M525.92,398a0.78,0.78 0 1,0 1.56,0a0.78,0.78 0 1,0 -1.56,0M530.92,398a0.78,0.78 0 1,0 1.56,0a0.78,0.78 0 1,0 -1.56,0M520.92,408a0.78,0.78 0 1,0 1.56,0a0.78,0.78 0 1,0 -1.56,0M525.92,408a0.78,0.78 0 1,0 1.56,0a0.78,0.78 0 1,0 -1.56,0M530.92,408a0.78,0.78 0 1,0 1.56,0a0.78,0.78 0 1,0 -1.56,0M520.92,418a0.78,0.78 0 1,0 1.56,0a0.78,0.78 0 1,0 -1.56,0M525.92,418a0.78,0.78 0 1,0 1.56,0a0.78,0.78 0 1,0 -1.56,0M530.92,418a0.78,0.78 0 1,0 1.56,0a0.78,0.78 0 1,0 -1.56,0M523.42,373a0.78,0.78 0 1,0 1.56,0a0.78,0.78 0 1,0 -1.56,0M528.42,373a0.78,0.78 0 1,0 1.56,0a0.78,0.78 0 1,0 -1.56,0M533.42,373a0.78,0.78 0 1,0 1.56,0a0.78,0.78 0 1,0 -1.56,0M523.42,383a0.78,0.78 0 1,0 1.56,0a0.78,0.78 0 1,0 -1.56,0M528.42,383a0.78,0.78 0 1,0 1.56,0a0.78,0.78 0 1,0 -1.56,0M533.42,383a0.78,0.78 0 1,0 1.56,0a0.78,0.78 0 1,0 -1.56,0M523.42,393a0.78,0.78 0 1,0 1.56,0a0.78,0.78 0 1,0 -1.56,0M528.42,393a0.78,0.78 0 1,0 1.56,0a0.78,0.78 0 1,0 -1.56,0M533.42,393a0.78,0.78 0 1,0 1.56,0a0.78,0.78 0 1,0 -1.56,0M523.42,403a0.78,0.78 0 1,0 1.56,0a0.78,0.78 0 1,0 -1.56,0M528.42,403a0.78,0.78 0 1,0 1.56,0a0.78,0.78 0 1,0 -1.56,0M533.42,403a0.78,0.78 0 1,0 1.56,0a0.78,0.78 0 1,0 -1.56,0M523.42,413a0.78,0.78 0 1,0 1.56,0a0.78,0.78 0 1,0 -1.56,0M528.42,413a0.78,0.78 0 1,0 1.56,0a0.78,0.78 0 1,0 -1.56,0M533.42,413a0.78,0.78 0 1,0 1.56,0a0.78,0.78 0 1,0 -1.56,0M600.92,238a0.78,0.78 0 1,0 1.56,0a0.78,0.78 0 1,0 -1.56,0M605.92,238a0.78,0.78 0 1,0 1.56,0a0.78,0.78 0 1,0 -1.56,0M610.92,238a0.78,0.78 0 1,0 1.56,0a0.78,0.78 0 1,0 -1.56,0M598.42,233a0.78,0.78 0 1,0 1.56,0a0.78,0.78 0 1,0 -1.56,0M603.42,233a0.78,0.78 0 1,0 1.56,0a0.78,0.78 0 1,0 -1.56,0M608.42,233a0.78,0.78 0 1,0 1.56,0a0.78,0.78 0 1,0 -1.56,0M613.42,233a0.78,0.78 0 1,0 1.56,0a0.78,0.78 0 1,0 -1.56,0" fill="#000" fill-opacity="0.85"/></g><g clip-path="url(#hd1)"><path d="M377.37,294.83L389.44,282.76M377.37,304.83L389.44,292.76M377.37,314.83L389.44,302.76M377.37,324.83L389.44,312.76M377.37,334.83L389.44,322.76M377.37,344.83L389.44,332.76M377.37,354.83L389.44,342.76M377.37,364.83L389.44,352.76M377.37,374.83L389.44,362.76M377.37,384.83L389.44,372.76M377.37,394.83L389.44,382.76M377.37,404.83L389.44,392.76M377.37,414.83L389.44,402.76M377.37,424.83L389.44,412.76M377.37,434.83L389.44,422.76M377.37,444.83L389.44,432.76M377.37,281.17L389.44,293.24M377.37,291.17L389.44,303.24M377.37,301.17L389.44,313.24M377.37,311.17L389.44,323.24M377.37,321.17L389.44,333.24M377.37,331.17L389.44,343.24M377.37,341.17L389.44,353.24M377.37,351.17L389.44,363.24M377.37,361.17L389.44,373.24M377.37,371.17L389.44,383.24M377.37,381.17L389.44,393.24M377.37,391.17L389.44,403.24M377.37,401.17L389.44,413.24M377.37,411.17L389.44,423.24M377.37,421.17L389.44,433.24M377.37,431.17L389.44,443.24M455.17,317.03L467.24,304.96M455.17,327.03L467.24,314.96M455.17,337.03L467.24,324.96M455.17,347.03L467.24,334.96M455.17,357.03L467.24,344.96M455.17,367.03L467.24,354.96M455.17,377.03L467.24,364.96M455.17,387.03L467.24,374.96M455.17,397.03L467.24,384.96M455.17,407.03L467.24,394.96M455.17,417.03L467.24,404.96M455.17,427.03L467.24,414.96M455.17,437.03L467.24,424.96M455.17,447.03L467.24,434.96M455.17,298.97L467.24,311.04M455.17,308.97L467.24,321.04M455.17,318.97L467.24,331.04M455.17,328.97L467.24,341.04M455.17,338.97L467.24,351.04M455.17,348.97L467.24,361.04M455.17,358.97L467.24,371.04M455.17,368.97L467.24,381.04M455.17,378.97L467.24,391.04M455.17,388.97L467.24,401.04M455.17,398.97L467.24,411.04M455.17,408.97L467.24,421.04M455.17,418.97L467.24,431.04M455.17,428.97L467.24,441.04M532.67,309.53L544.74,297.46M532.67,319.53L544.74,307.46M532.67,329.53L544.74,317.46M532.67,339.53L544.74,327.46M532.67,349.53L544.74,337.46M532.67,359.53L544.74,347.46M532.67,369.53L544.74,357.46M532.67,379.53L544.74,367.46M532.67,389.53L544.74,377.46M532.67,399.53L544.74,387.46M532.67,409.53L544.74,397.46M532.67,419.53L544.74,407.46M532.67,429.53L544.74,417.46M532.67,439.53L544.74,427.46M532.67,449.53L544.74,437.46M532.67,296.47L544.74,308.54M532.67,306.47L544.74,318.54M532.67,316.47L544.74,328.54M532.67,326.47L544.74,338.54M532.67,336.47L544.74,348.54M532.67,346.47L544.74,358.54M532.67,356.47L544.74,368.54M532.67,366.47L544.74,378.54M532.67,376.47L544.74,388.54M532.67,386.47L544.74,398.54M532.67,396.47L544.74,408.54M532.67,406.47L544.74,418.54M532.67,416.47L544.74,428.54M532.67,426.47L544.74,438.54M532.67,436.47L544.74,448.54M599.8,232.4L615.7,216.5M599.8,242.4L615.7,226.5M599.8,252.4L615.7,236.5M599.8,262.4L615.7,246.5M599.8,272.4L615.7,256.5M599.8,282.4L615.7,266.5M599.8,213.6L615.7,229.5M599.8,223.6L615.7,239.5M599.8,233.6L615.7,249.5M599.8,243.6L615.7,259.5M599.8,253.6L615.7,269.5M599.8,263.6L615.7,279.5" fill="none" stroke="#000" stroke-opacity="0.85" stroke-width="0.7"/></g><g clip-path="url(#hd2)"><path d="M391.7,357.9V419.5M396.7,357.9V419.5M466.7,369.8V419.5M471.7,369.8V419.5M476.7,369.8V419.5M546.7,374.5V419.5M551.7,374.5V419.5M601.7,253.2V260.2M606.7,253.2V260.2M611.7,253.2V260.2" fill="none" stroke="#000" stroke-opacity="0.85" stroke-width="0.7"/></g><g clip-path="url(#hd3)"><path d="M395.5,328a1.2,1.2 0 1,0 2.4,0a1.2,1.2 0 1,0 -2.4,0M400.5,328a1.2,1.2 0 1,0 2.4,0a1.2,1.2 0 1,0 -2.4,0M405.5,328a1.2,1.2 0 1,0 2.4,0a1.2,1.2 0 1,0 -2.4,0M395.5,338a1.2,1.2 0 1,0 2.4,0a1.2,1.2 0 1,0 -2.4,0M400.5,338a1.2,1.2 0 1,0 2.4,0a1.2,1.2 0 1,0 -2.4,0M405.5,338a1.2,1.2 0 1,0 2.4,0a1.2,1.2 0 1,0 -2.4,0M395.5,348a1.2,1.2 0 1,0 2.4,0a1.2,1.2 0 1,0 -2.4,0M400.5,348a1.2,1.2 0 1,0 2.4,0a1.2,1.2 0 1,0 -2.4,0M405.5,348a1.2,1.2 0 1,0 2.4,0a1.2,1.2 0 1,0 -2.4,0M395.5,358a1.2,1.2 0 1,0 2.4,0a1.2,1.2 0 1,0 -2.4,0M400.5,358a1.2,1.2 0 1,0 2.4,0a1.2,1.2 0 1,0 -2.4,0M405.5,358a1.2,1.2 0 1,0 2.4,0a1.2,1.2 0 1,0 -2.4,0M395.5,368a1.2,1.2 0 1,0 2.4,0a1.2,1.2 0 1,0 -2.4,0M400.5,368a1.2,1.2 0 1,0 2.4,0a1.2,1.2 0 1,0 -2.4,0M405.5,368a1.2,1.2 0 1,0 2.4,0a1.2,1.2 0 1,0 -2.4,0M395.5,378a1.2,1.2 0 1,0 2.4,0a1.2,1.2 0 1,0 -2.4,0M400.5,378a1.2,1.2 0 1,0 2.4,0a1.2,1.2 0 1,0 -2.4,0M405.5,378a1.2,1.2 0 1,0 2.4,0a1.2,1.2 0 1,0 -2.4,0M395.5,388a1.2,1.2 0 1,0 2.4,0a1.2,1.2 0 1,0 -2.4,0M400.5,388a1.2,1.2 0 1,0 2.4,0a1.2,1.2 0 1,0 -2.4,0M405.5,388a1.2,1.2 0 1,0 2.4,0a1.2,1.2 0 1,0 -2.4,0M395.5,398a1.2,1.2 0 1,0 2.4,0a1.2,1.2 0 1,0 -2.4,0M400.5,398a1.2,1.2 0 1,0 2.4,0a1.2,1.2 0 1,0 -2.4,0M405.5,398a1.2,1.2 0 1,0 2.4,0a1.2,1.2 0 1,0 -2.4,0M395.5,408a1.2,1.2 0 1,0 2.4,0a1.2,1.2 0 1,0 -2.4,0M400.5,408a1.2,1.2 0 1,0 2.4,0a1.2,1.2 0 1,0 -2.4,0M405.5,408a1.2,1.2 0 1,0 2.4,0a1.2,1.2 0 1,0 -2.4,0M395.5,418a1.2,1.2 0 1,0 2.4,0a1.2,1.2 0 1,0 -2.4,0M400.5,418a1.2,1.2 0 1,0 2.4,0a1.2,1.2 0 1,0 -2.4,0M405.5,418a1.2,1.2 0 1,0 2.4,0a1.2,1.2 0 1,0 -2.4,0M398,323a1.2,1.2 0 1,0 2.4,0a1.2,1.2 0 1,0 -2.4,0M403,323a1.2,1.2 0 1,0 2.4,0a1.2,1.2 0 1,0 -2.4,0M408,323a1.2,1.2 0 1,0 2.4,0a1.2,1.2 0 1,0 -2.4,0M398,333a1.2,1.2 0 1,0 2.4,0a1.2,1.2 0 1,0 -2.4,0M403,333a1.2,1.2 0 1,0 2.4,0a1.2,1.2 0 1,0 -2.4,0M408,333a1.2,1.2 0 1,0 2.4,0a1.2,1.2 0 1,0 -2.4,0M398,343a1.2,1.2 0 1,0 2.4,0a1.2,1.2 0 1,0 -2.4,0M403,343a1.2,1.2 0 1,0 2.4,0a1.2,1.2 0 1,0 -2.4,0M408,343a1.2,1.2 0 1,0 2.4,0a1.2,1.2 0 1,0 -2.4,0M398,353a1.2,1.2 0 1,0 2.4,0a1.2,1.2 0 1,0 -2.4,0M403,353a1.2,1.2 0 1,0 2.4,0a1.2,1.2 0 1,0 -2.4,0M408,353a1.2,1.2 0 1,0 2.4,0a1.2,1.2 0 1,0 -2.4,0M398,363a1.2,1.2 0 1,0 2.4,0a1.2,1.2 0 1,0 -2.4,0M403,363a1.2,1.2 0 1,0 2.4,0a1.2,1.2 0 1,0 -2.4,0M408,363a1.2,1.2 0 1,0 2.4,0a1.2,1.2 0 1,0 -2.4,0M398,373a1.2,1.2 0 1,0 2.4,0a1.2,1.2 0 1,0 -2.4,0M403,373a1.2,1.2 0 1,0 2.4,0a1.2,1.2 0 1,0 -2.4,0M408,373a1.2,1.2 0 1,0 2.4,0a1.2,1.2 0 1,0 -2.4,0M398,383a1.2,1.2 0 1,0 2.4,0a1.2,1.2 0 1,0 -2.4,0M403,383a1.2,1.2 0 1,0 2.4,0a1.2,1.2 0 1,0 -2.4,0M408,383a1.2,1.2 0 1,0 2.4,0a1.2,1.2 0 1,0 -2.4,0M398,393a1.2,1.2 0 1,0 2.4,0a1.2,1.2 0 1,0 -2.4,0M403,393a1.2,1.2 0 1,0 2.4,0a1.2,1.2 0 1,0 -2.4,0M408,393a1.2,1.2 0 1,0 2.4,0a1.2,1.2 0 1,0 -2.4,0M398,403a1.2,1.2 0 1,0 2.4,0a1.2,1.2 0 1,0 -2.4,0M403,403a1.2,1.2 0 1,0 2.4,0a1.2,1.2 0 1,0 -2.4,0M408,403a1.2,1.2 0 1,0 2.4,0a1.2,1.2 0 1,0 -2.4,0M398,413a1.2,1.2 0 1,0 2.4,0a1.2,1.2 0 1,0 -2.4,0M403,413a1.2,1.2 0 1,0 2.4,0a1.2,1.2 0 1,0 -2.4,0M408,413a1.2,1.2 0 1,0 2.4,0a1.2,1.2 0 1,0 -2.4,0M475.5,338a1.2,1.2 0 1,0 2.4,0a1.2,1.2 0 1,0 -2.4,0M480.5,338a1.2,1.2 0 1,0 2.4,0a1.2,1.2 0 1,0 -2.4,0M485.5,338a1.2,1.2 0 1,0 2.4,0a1.2,1.2 0 1,0 -2.4,0M475.5,348a1.2,1.2 0 1,0 2.4,0a1.2,1.2 0 1,0 -2.4,0M480.5,348a1.2,1.2 0 1,0 2.4,0a1.2,1.2 0 1,0 -2.4,0M485.5,348a1.2,1.2 0 1,0 2.4,0a1.2,1.2 0 1,0 -2.4,0M475.5,358a1.2,1.2 0 1,0 2.4,0a1.2,1.2 0 1,0 -2.4,0M480.5,358a1.2,1.2 0 1,0 2.4,0a1.2,1.2 0 1,0 -2.4,0M485.5,358a1.2,1.2 0 1,0 2.4,0a1.2,1.2 0 1,0 -2.4,0M475.5,368a1.2,1.2 0 1,0 2.4,0a1.2,1.2 0 1,0 -2.4,0M480.5,368a1.2,1.2 0 1,0 2.4,0a1.2,1.2 0 1,0 -2.4,0M485.5,368a1.2,1.2 0 1,0 2.4,0a1.2,1.2 0 1,0 -2.4,0M475.5,378a1.2,1.2 0 1,0 2.4,0a1.2,1.2 0 1,0 -2.4,0M480.5,378a1.2,1.2 0 1,0 2.4,0a1.2,1.2 0 1,0 -2.4,0M485.5,378a1.2,1.2 0 1,0 2.4,0a1.2,1.2 0 1,0 -2.4,0M475.5,388a1.2,1.2 0 1,0 2.4,0a1.2,1.2 0 1,0 -2.4,0M480.5,388a1.2,1.2 0 1,0 2.4,0a1.2,1.2 0 1,0 -2.4,0M485.5,388a1.2,1.2 0 1,0 2.4,0a1.2,1.2 0 1,0 -2.4,0M475.5,398a1.2,1.2 0 1,0 2.4,0a1.2,1.2 0 1,0 -2.4,0M480.5,398a1.2,1.2 0 1,0 2.4,0a1.2,1.2 0 1,0 -2.4,0M485.5,398a1.2,1.2 0 1,0 2.4,0a1.2,1.2 0 1,0 -2.4,0M475.5,408a1.2,1.2 0 1,0 2.4,0a1.2,1.2 0 1,0 -2.4,0M480.5,408a1.2,1.2 0 1,0 2.4,0a1.2,1.2 0 1,0 -2.4,0M485.5,408a1.2,1.2 0 1,0 2.4,0a1.2,1.2 0 1,0 -2.4,0M475.5,418a1.2,1.2 0 1,0 2.4,0a1.2,1.2 0 1,0 -2.4,0M480.5,418a1.2,1.2 0 1,0 2.4,0a1.2,1.2 0 1,0 -2.4,0M485.5,418a1.2,1.2 0 1,0 2.4,0a1.2,1.2 0 1,0 -2.4,0M478,343a1.2,1.2 0 1,0 2.4,0a1.2,1.2 0 1,0 -2.4,0M483,343a1.2,1.2 0 1,0 2.4,0a1.2,1.2 0 1,0 -2.4,0M478,353a1.2,1.2 0 1,0 2.4,0a1.2,1.2 0 1,0 -2.4,0M483,353a1.2,1.2 0 1,0 2.4,0a1.2,1.2 0 1,0 -2.4,0M478,363a1.2,1.2 0 1,0 2.4,0a1.2,1.2 0 1,0 -2.4,0M483,363a1.2,1.2 0 1,0 2.4,0a1.2,1.2 0 1,0 -2.4,0M478,373a1.2,1.2 0 1,0 2.4,0a1.2,1.2 0 1,0 -2.4,0M483,373a1.2,1.2 0 1,0 2.4,0a1.2,1.2 0 1,0 -2.4,0M478,383a1.2,1.2 0 1,0 2.4,0a1.2,1.2 0 1,0 -2.4,0M483,383a1.2,1.2 0 1,0 2.4,0a1.2,1.2 0 1,0 -2.4,0M478,393a1.2,1.2 0 1,0 2.4,0a1.2,1.2 0 1,0 -2.4,0M483,393a1.2,1.2 0 1,0 2.4,0a1.2,1.2 0 1,0 -2.4,0M478,403a1.2,1.2 0 1,0 2.4,0a1.2,1.2 0 1,0 -2.4,0M483,403a1.2,1.2 0 1,0 2.4,0a1.2,1.2 0 1,0 -2.4,0M478,413a1.2,1.2 0 1,0 2.4,0a1.2,1.2 0 1,0 -2.4,0M483,413a1.2,1.2 0 1,0 2.4,0a1.2,1.2 0 1,0 -2.4,0M555.5,328a1.2,1.2 0 1,0 2.4,0a1.2,1.2 0 1,0 -2.4,0M560.5,328a1.2,1.2 0 1,0 2.4,0a1.2,1.2 0 1,0 -2.4,0M555.5,338a1.2,1.2 0 1,0 2.4,0a1.2,1.2 0 1,0 -2.4,0M560.5,338a1.2,1.2 0 1,0 2.4,0a1.2,1.2 0 1,0 -2.4,0M555.5,348a1.2,1.2 0 1,0 2.4,0a1.2,1.2 0 1,0 -2.4,0M560.5,348a1.2,1.2 0 1,0 2.4,0a1.2,1.2 0 1,0 -2.4,0M555.5,358a1.2,1.2 0 1,0 2.4,0a1.2,1.2 0 1,0 -2.4,0M560.5,358a1.2,1.2 0 1,0 2.4,0a1.2,1.2 0 1,0 -2.4,0M555.5,368a1.2,1.2 0 1,0 2.4,0a1.2,1.2 0 1,0 -2.4,0M560.5,368a1.2,1.2 0 1,0 2.4,0a1.2,1.2 0 1,0 -2.4,0M555.5,378a1.2,1.2 0 1,0 2.4,0a1.2,1.2 0 1,0 -2.4,0M560.5,378a1.2,1.2 0 1,0 2.4,0a1.2,1.2 0 1,0 -2.4,0M555.5,388a1.2,1.2 0 1,0 2.4,0a1.2,1.2 0 1,0 -2.4,0M560.5,388a1.2,1.2 0 1,0 2.4,0a1.2,1.2 0 1,0 -2.4,0M555.5,398a1.2,1.2 0 1,0 2.4,0a1.2,1.2 0 1,0 -2.4,0M560.5,398a1.2,1.2 0 1,0 2.4,0a1.2,1.2 0 1,0 -2.4,0M555.5,408a1.2,1.2 0 1,0 2.4,0a1.2,1.2 0 1,0 -2.4,0M560.5,408a1.2,1.2 0 1,0 2.4,0a1.2,1.2 0 1,0 -2.4,0M555.5,418a1.2,1.2 0 1,0 2.4,0a1.2,1.2 0 1,0 -2.4,0M560.5,418a1.2,1.2 0 1,0 2.4,0a1.2,1.2 0 1,0 -2.4,0M553,333a1.2,1.2 0 1,0 2.4,0a1.2,1.2 0 1,0 -2.4,0M558,333a1.2,1.2 0 1,0 2.4,0a1.2,1.2 0 1,0 -2.4,0M563,333a1.2,1.2 0 1,0 2.4,0a1.2,1.2 0 1,0 -2.4,0M553,343a1.2,1.2 0 1,0 2.4,0a1.2,1.2 0 1,0 -2.4,0M558,343a1.2,1.2 0 1,0 2.4,0a1.2,1.2 0 1,0 -2.4,0M563,343a1.2,1.2 0 1,0 2.4,0a1.2,1.2 0 1,0 -2.4,0M553,353a1.2,1.2 0 1,0 2.4,0a1.2,1.2 0 1,0 -2.4,0M558,353a1.2,1.2 0 1,0 2.4,0a1.2,1.2 0 1,0 -2.4,0M563,353a1.2,1.2 0 1,0 2.4,0a1.2,1.2 0 1,0 -2.4,0M553,363a1.2,1.2 0 1,0 2.4,0a1.2,1.2 0 1,0 -2.4,0M558,363a1.2,1.2 0 1,0 2.4,0a1.2,1.2 0 1,0 -2.4,0M563,363a1.2,1.2 0 1,0 2.4,0a1.2,1.2 0 1,0 -2.4,0M553,373a1.2,1.2 0 1,0 2.4,0a1.2,1.2 0 1,0 -2.4,0M558,373a1.2,1.2 0 1,0 2.4,0a1.2,1.2 0 1,0 -2.4,0M563,373a1.2,1.2 0 1,0 2.4,0a1.2,1.2 0 1,0 -2.4,0M553,383a1.2,1.2 0 1,0 2.4,0a1.2,1.2 0 1,0 -2.4,0M558,383a1.2,1.2 0 1,0 2.4,0a1.2,1.2 0 1,0 -2.4,0M563,383a1.2,1.2 0 1,0 2.4,0a1.2,1.2 0 1,0 -2.4,0M553,393a1.2,1.2 0 1,0 2.4,0a1.2,1.2 0 1,0 -2.4,0M558,393a1.2,1.2 0 1,0 2.4,0a1.2,1.2 0 1,0 -2.4,0M563,393a1.2,1.2 0 1,0 2.4,0a1.2,1.2 0 1,0 -2.4,0M553,403a1.2,1.2 0 1,0 2.4,0a1.2,1.2 0 1,0 -2.4,0M558,403a1.2,1.2 0 1,0 2.4,0a1.2,1.2 0 1,0 -2.4,0M563,403a1.2,1.2 0 1,0 2.4,0a1.2,1.2 0 1,0 -2.4,0M553,413a1.2,1.2 0 1,0 2.4,0a1.2,1.2 0 1,0 -2.4,0M558,413a1.2,1.2 0 1,0 2.4,0a1.2,1.2 0 1,0 -2.4,0M563,413a1.2,1.2 0 1,0 2.4,0a1.2,1.2 0 1,0 -2.4,0M600.5,268a1.2,1.2 0 1,0 2.4,0a1.2,1.2 0 1,0 -2.4,0M605.5,268a1.2,1.2 0 1,0 2.4,0a1.2,1.2 0 1,0 -2.4,0M610.5,268a1.2,1.2 0 1,0 2.4,0a1.2,1.2 0 1,0 -2.4,0M598,263a1.2,1.2 0 1,0 2.4,0a1.2,1.2 0 1,0 -2.4,0M603,263a1.2,1.2 0 1,0 2.4,0a1.2,1.2 0 1,0 -2.4,0M608,263a1.2,1.2 0 1,0 2.4,0a1.2,1.2 0 1,0 -2.4,0M613,263a1.2,1.2 0 1,0 2.4,0a1.2,1.2 0 1,0 -2.4,0" fill="none" stroke="#000" stroke-opacity="0.85" stroke-width="0.75"/></g><g clip-path="url(#hd4)"><path d="M407.58,284.62L419.65,272.55M407.58,294.62L419.65,282.55M407.58,304.62L419.65,292.55M407.58,314.62L419.65,302.55M407.58,324.62L419.65,312.55M407.58,334.62L419.65,322.55M407.58,344.62L419.65,332.55M407.58,354.62L419.65,342.55M407.58,364.62L419.65,352.55M407.58,374.62L419.65,362.55M407.58,384.62L419.65,372.55M407.58,394.62L419.65,382.55M407.58,404.62L419.65,392.55M407.58,414.62L419.65,402.55M407.58,424.62L419.65,412.55M407.58,434.62L419.65,422.55M407.58,444.62L419.65,432.55M485.38,296.82L497.45,284.75M485.38,306.82L497.45,294.75M485.38,316.82L497.45,304.75M485.38,326.82L497.45,314.75M485.38,336.82L497.45,324.75M485.38,346.82L497.45,334.75M485.38,356.82L497.45,344.75M485.38,366.82L497.45,354.75M485.38,376.82L497.45,364.75M485.38,386.82L497.45,374.75M485.38,396.82L497.45,384.75M485.38,406.82L497.45,394.75M485.38,416.82L497.45,404.75M485.38,426.82L497.45,414.75M485.38,436.82L497.45,424.75M485.38,446.82L497.45,434.75M562.88,289.32L574.95,277.25M562.88,299.32L574.95,287.25M562.88,309.32L574.95,297.25M562.88,319.32L574.95,307.25M562.88,329.32L574.95,317.25M562.88,339.32L574.95,327.25M562.88,349.32L574.95,337.25M562.88,359.32L574.95,347.25M562.88,369.32L574.95,357.25M562.88,379.32L574.95,367.25M562.88,389.32L574.95,377.25M562.88,399.32L574.95,387.25M562.88,409.32L574.95,397.25M562.88,419.32L574.95,407.25M562.88,429.32L574.95,417.25M562.88,439.32L574.95,427.25M562.88,449.32L574.95,437.25M599.8,262.4L615.7,246.5M599.8,272.4L615.7,256.5M599.8,282.4L615.7,266.5M599.8,292.4L615.7,276.5M599.8,302.4L615.7,286.5M599.8,312.4L615.7,296.5" fill="none" stroke="#000" stroke-opacity="0.85" stroke-width="0.7"/></g><g clip-path="url(#hd5)"><path d="M417.65,251.45L429.72,263.52M417.65,261.45L429.72,273.52M417.65,271.45L429.72,283.52M417.65,281.45L429.72,293.52M417.65,291.45L429.72,303.52M417.65,301.45L429.72,313.52M417.65,311.45L429.72,323.52M417.65,321.45L429.72,333.52M417.65,331.45L429.72,343.52M417.65,341.45L429.72,353.52M417.65,351.45L429.72,363.52M417.65,361.45L429.72,373.52M417.65,371.45L429.72,383.52M417.65,381.45L429.72,393.52M417.65,391.45L429.72,403.52M417.65,401.45L429.72,413.52M417.65,411.45L429.72,423.52M417.65,421.45L429.72,433.52M417.65,431.45L429.72,443.52M495.45,279.25L507.52,291.32M495.45,289.25L507.52,301.32M495.45,299.25L507.52,311.32M495.45,309.25L507.52,321.32M495.45,319.25L507.52,331.32M495.45,329.25L507.52,341.32M495.45,339.25L507.52,351.32M495.45,349.25L507.52,361.32M495.45,359.25L507.52,371.32M495.45,369.25L507.52,381.32M495.45,379.25L507.52,391.32M495.45,389.25L507.52,401.32M495.45,399.25L507.52,411.32M495.45,409.25L507.52,421.32M495.45,419.25L507.52,431.32M495.45,429.25L507.52,441.32M572.95,266.75L585.02,278.82M572.95,276.75L585.02,288.82M572.95,286.75L585.02,298.82M572.95,296.75L585.02,308.82M572.95,306.75L585.02,318.82M572.95,316.75L585.02,328.82M572.95,326.75L585.02,338.82M572.95,336.75L585.02,348.82M572.95,346.75L585.02,358.82M572.95,356.75L585.02,368.82M572.95,366.75L585.02,378.82M572.95,376.75L585.02,388.82M572.95,386.75L585.02,398.82M572.95,396.75L585.02,408.82M572.95,406.75L585.02,418.82M572.95,416.75L585.02,428.82M572.95,426.75L585.02,438.82M572.95,436.75L585.02,448.82M599.8,253.6L615.7,269.5M599.8,263.6L615.7,279.5M599.8,273.6L615.7,289.5M599.8,283.6L615.7,299.5M599.8,293.6L615.7,309.5M599.8,303.6L615.7,319.5" fill="none" stroke="#000" stroke-opacity="0.85" stroke-width="0.7"/></g><path d="M368.3,418.5V345.2H378.37V418.5M446.1,418.5V357.8H456.17V418.5M523.6,418.5V371.6H533.67V418.5M600.8,239.8V234.8H614.7V239.8ZM378.37,418.5V308.5H388.44V418.5M456.17,418.5V330H466.24V418.5M533.67,418.5V322.3H543.74V418.5M600.8,249.4V244.4H614.7V249.4ZM388.44,418.5V358.9H398.51V418.5M466.24,418.5V370.8H476.31V418.5M543.74,418.5V375.5H553.81V418.5M600.8,259.2V254.2H614.7V259.2ZM398.51,418.5V321.2H408.58V418.5M476.31,418.5V337.4H486.38V418.5M553.81,418.5V327.3H563.88V418.5M600.8,269.1V264.1H614.7V269.1ZM408.58,418.5V294.4H418.65V418.5M486.38,418.5V313H496.45V418.5M563.88,418.5V304.2H573.95V418.5M600.8,278.9V273.9H614.7V278.9ZM418.65,418.5V278.2H428.72V418.5M496.45,418.5V304.4H506.52V418.5M573.95,418.5V295.5H584.02V418.5M600.8,288.7V283.7H614.7V288.7Z" fill="none" stroke="#000" stroke-width="0.45"/><path d="M373.34,326.3V364.1M371.34,326.3H375.34M371.34,364.1H375.34M383.41,286.5V330.5M381.41,286.5H385.41M381.41,330.5H385.41M393.48,341.2V376.6M391.48,341.2H395.48M391.48,376.6H395.48M403.55,300.4V342M401.55,300.4H405.55M401.55,342H405.55M413.62,270.3V318.5M411.62,270.3H415.62M411.62,318.5H415.62M423.69,252.7V303.7M421.69,252.7H425.69M421.69,303.7H425.69M451.14,342.4V373.2M449.14,342.4H453.14M449.14,373.2H453.14M461.21,311.1V348.9M459.21,311.1H463.21M459.21,348.9H463.21M471.28,356.9V384.7M469.28,356.9H473.28M469.28,384.7H473.28M481.35,320.5V354.3M479.35,320.5H483.35M479.35,354.3H483.35M491.42,292.5V333.5M489.42,292.5H493.42M489.42,333.5H493.42M501.49,282.5V326.3M499.49,282.5H503.49M499.49,326.3H503.49M528.63,354.4V388.8M526.63,354.4H530.63M526.63,388.8H530.63M538.71,301.6V343M536.71,301.6H540.71M536.71,343H540.71M548.77,359.4V391.6M546.77,359.4H550.77M546.77,391.6H550.77M558.85,308.3V346.3M556.85,308.3H560.85M556.85,346.3H560.85M568.91,282.3V326.1M566.91,282.3H570.91M566.91,326.1H570.91M578.99,271.9V319.1M576.99,271.9H580.99M576.99,319.1H580.99" fill="none" stroke="#000" stroke-opacity="0.88" stroke-width="0.75"/><path d="M357.5,228.5V418.5" stroke="#8c8c8c" stroke-width="1.0"/><path d="M595,228.5V418.5" stroke="#c4c4c4" stroke-width="1.5"/><path d="M357,228.5H595.75" stroke="#8a8a8a" stroke-width="1.0"/><path d="M357,418.5H595.75" stroke="#999999" stroke-width="1.0"/><text x="354.3" y="421.3" font-size="8.0" text-anchor="end" textLength="8.0" lengthAdjust="spacingAndGlyphs" fill="#1a1a1a" stroke="#1a1a1a" stroke-width="0.14">62</text><text x="354.3" y="389.7" font-size="8.0" text-anchor="end" textLength="8.0" lengthAdjust="spacingAndGlyphs" fill="#1a1a1a" stroke="#1a1a1a" stroke-width="0.14">64</text><text x="354.3" y="358.1" font-size="8.0" text-anchor="end" textLength="8.0" lengthAdjust="spacingAndGlyphs" fill="#1a1a1a" stroke="#1a1a1a" stroke-width="0.14">66</text><text x="354.3" y="326.5" font-size="8.0" text-anchor="end" textLength="8.0" lengthAdjust="spacingAndGlyphs" fill="#1a1a1a" stroke="#1a1a1a" stroke-width="0.14">68</text><text x="354.3" y="294.9" font-size="8.0" text-anchor="end" textLength="8.0" lengthAdjust="spacingAndGlyphs" fill="#1a1a1a" stroke="#1a1a1a" stroke-width="0.14">70</text><text x="354.3" y="263.3" font-size="8.0" text-anchor="end" textLength="8.0" lengthAdjust="spacingAndGlyphs" fill="#1a1a1a" stroke="#1a1a1a" stroke-width="0.14">72</text><text x="354.3" y="231.7" font-size="8.0" text-anchor="end" textLength="8.0" lengthAdjust="spacingAndGlyphs" fill="#1a1a1a" stroke="#1a1a1a" stroke-width="0.14">74</text><text x="373.11 377.23 381.01 386.51 387.99 391.02 394.19 395.76 399.38 403 404.59 408.77 412.28 415.9 419.56 422.06" y="425.7" font-size="6.1" fill="#1a1a1a">Admission Report</text><text x="453.46 457.49 461.21 463.51 467.1 470.76 473.17 476.49 478.08 482.26 485.69 488.9 492.55 494.86" y="425.7" font-size="6.1" fill="#1a1a1a">Surgery Record</text><text x="524.67 529.22 530.68 533.78 537.03 540.63 544.27 546.56 550.12 553.66 555.23 559.23 563.03 568.66 574.09 577.73 580.12" y="425.7" font-size="6.1" fill="#1a1a1a">Discharge Summary</text><path d="M355.5,418.4H357.2M355.5,386.8H357.2M355.5,355.2H357.2M355.5,323.6H357.2M355.5,292H357.2M355.5,260.4H357.2M355.5,228.8H357.2M398.6,418.5V420.7M476,418.5V420.7M554,418.5V420.7" stroke="#000" stroke-opacity="0.7" stroke-width="0.6" fill="none"/><text transform="translate(342.8,354.9) rotate(-90)" x="-0.54 7.39 14.98 23.18 29.85 38.14 44.74 52.46 56.94" y="0" font-size="14" fill="#111">BERTScore</text><text x="619.18 624.19 628.34 632.66 634.78 639.99 643.73 649.69 653.79 656.32 660.33" y="239.8" font-size="7.05" fill="#1a1a1a">ChatGLM2-6B</text><text x="619.33 624.04 628.18 629.95 633.69 637.9 642.05 646.19 650.29 652.82 657.05 661.05" y="249.4" font-size="7.05" fill="#1a1a1a">Baichuan-13B</text><text x="619.28 624.81 630.16 634.31 638.41 640.93 644.94" y="259.2" font-size="7.05" fill="#1a1a1a">Qwen-7B</text><text x="619.28 624.81 630.16 634.31 638.53 642.64 645.17 649.17" y="269.1" font-size="7.05" fill="#1a1a1a">Qwen2-7B</text><text x="619.33 624.04 628.18 629.95 633.69 637.9 642.05 646.19 650.29 652.82 657.05 661.05 665.71 667.84 672.06 675.95" y="278.9" font-size="7.05" fill="#1a1a1a">Baichuan-13B-SFT</text><text x="619.28 624.81 630.16 634.31 638.53 642.64 645.17 649.17 653.83 655.96 660.18 664.07" y="288.7" font-size="7.05" fill="#1a1a1a">Qwen2-7B-SFT</text></g><text transform="scale(0.8,1)" x="492.42 498.81 502.71 505.87 512.63 519.14 526.03 531.75 538.67 544.34 550.72 554.73 560.81 564.25 567.77 574.15 578.16 581.47 589.39 592.25 598.64 605.05 611.63 615.34 618.17 623.75 626.67 634 640.35 644.07 647.03 653.42 659.8 666.2 672.76 676.6 683.17" y="438.9" font-size="10.2" fill="#1e1e1e">d) BERTScore for Diabetic Retinopathy</text></svg></body></html>
